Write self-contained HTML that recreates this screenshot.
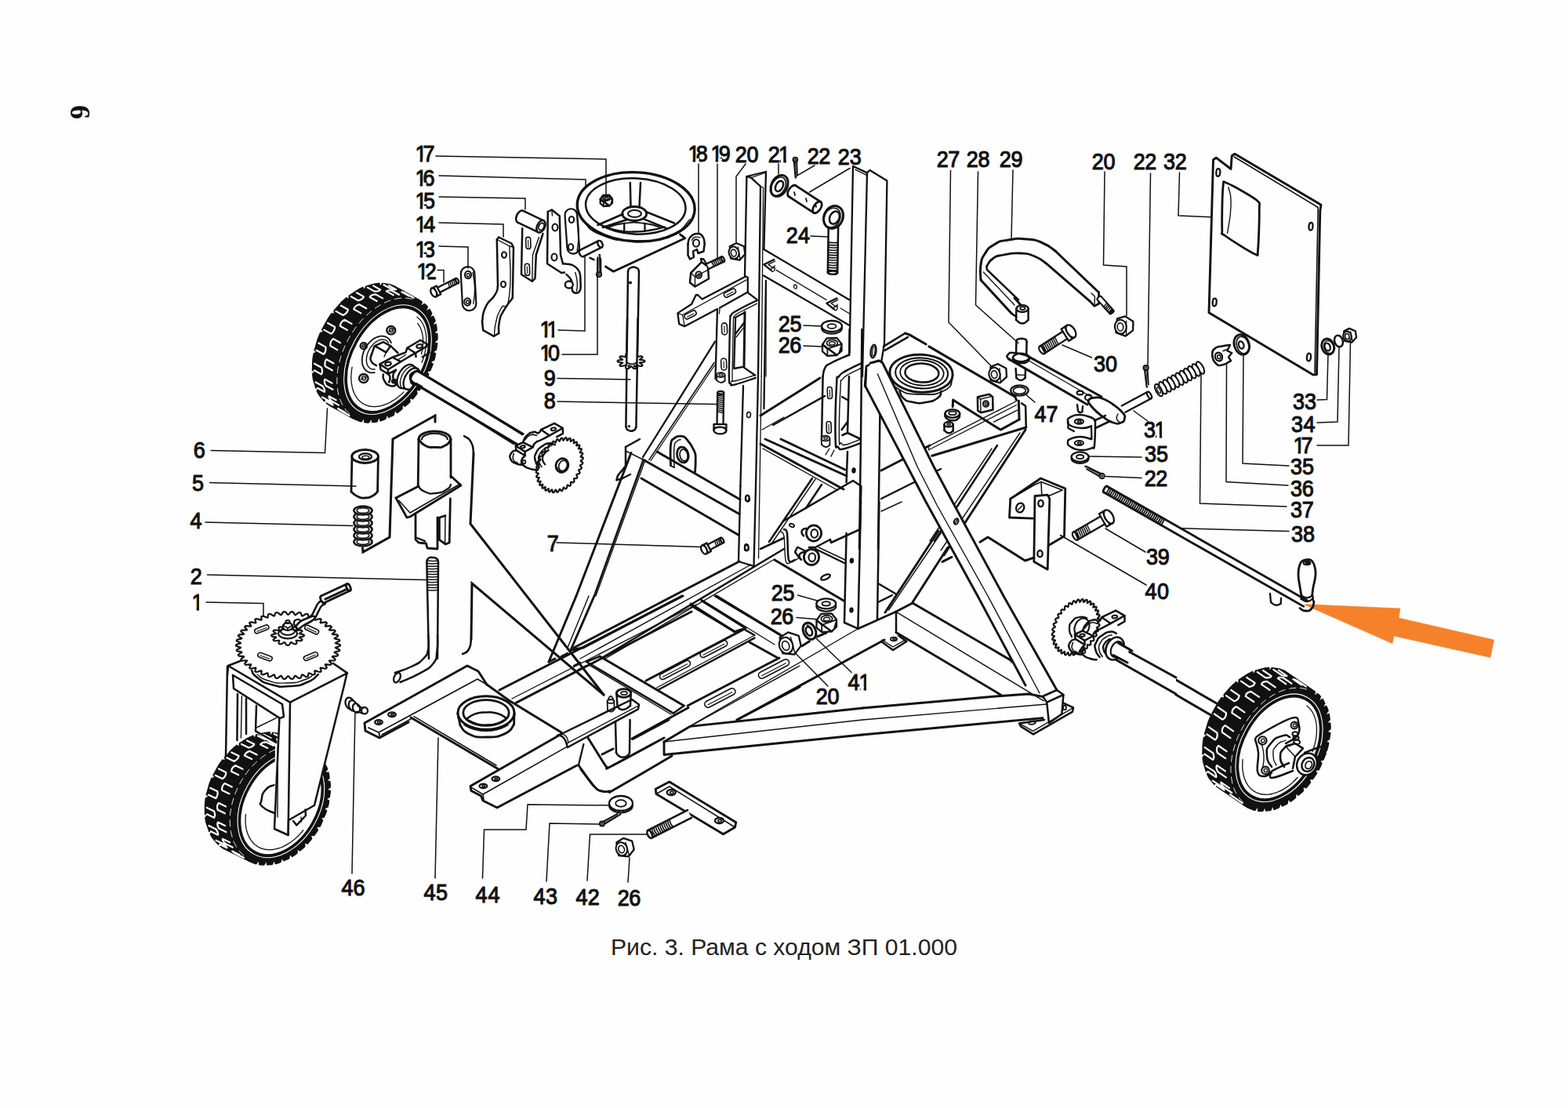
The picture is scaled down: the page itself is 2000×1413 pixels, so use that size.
<!DOCTYPE html>
<html lang="ru">
<head>
<meta charset="utf-8">
<title>Рис. 3. Рама с ходом ЗП 01.000</title>
<style>
html,body{margin:0;padding:0;background:#fefefe;}
body{width:2000px;height:1413px;overflow:hidden;position:relative;font-family:"Liberation Sans",sans-serif;}
svg{position:absolute;left:0;top:0;display:block;}
.lbl{font-family:"Liberation Sans",sans-serif;fill:#111;stroke:#111;stroke-width:1.15px;}
.cap{font-family:"Liberation Sans",sans-serif;fill:#222;}
.pg{font-family:"Liberation Serif",serif;font-weight:bold;fill:#111;}
</style>
</head>
<body>
<svg width="2000" height="1413" viewBox="0 0 2000 1413" role="img" aria-label="Рис. 3. Рама с ходом ЗП 01.000">
<defs><clipPath id="k0"><polygon points="-2.9,-30 7.9,-30 7.9,2 4.1,2 4.1,-3.4 -2.9,-3.4"/><polygon points="7.4,-30 26.4,-30 26.4,8 13.1,8 13.1,-3.6 7.4,-3.6"/></clipPath><clipPath id="k1"><polygon points="-2.9,-30 7.9,-30 7.9,2 4.1,2 4.1,-3.4 -2.9,-3.4"/><polygon points="7.4,-30 26.4,-30 26.4,8 13.1,8 13.1,-3.6 7.4,-3.6"/></clipPath><clipPath id="k2"><polygon points="-2.9,-30 7.9,-30 7.9,2 4.1,2 4.1,-3.4 -2.9,-3.4"/><polygon points="7.8,-30 26.8,-30 26.8,8 13.1,8 13.1,-3.6 7.8,-3.6"/></clipPath><clipPath id="k3"><polygon points="-2.9,-30 7.9,-30 7.9,2 4.1,2 4.1,-3.4 -2.9,-3.4"/><polygon points="8.3,-30 27.3,-30 27.3,8 13.1,8 13.1,-3.6 8.3,-3.6"/></clipPath><clipPath id="k4"><polygon points="-2.9,-30 7.9,-30 7.9,2 4.1,2 4.1,-3.4 -2.9,-3.4"/><polygon points="7.8,-30 26.8,-30 26.8,8 13.1,8 13.1,-3.6 7.8,-3.6"/></clipPath><clipPath id="k5"><polygon points="-2.9,-30 7.9,-30 7.9,2 4.1,2 4.1,-3.4 -2.9,-3.4"/><polygon points="7.5,-30 26.5,-30 26.5,8 13.1,8 13.1,-3.6 7.5,-3.6"/></clipPath><clipPath id="k6"><polygon points="-2.9,-30 7.9,-30 7.9,2 4.1,2 4.1,-3.4 -2.9,-3.4"/><polygon points="7.1,-30 17.9,-30 17.9,2 14.1,2 14.1,-3.4 7.1,-3.4"/></clipPath><clipPath id="k7"><polygon points="-2.9,-30 7.9,-30 7.9,2 4.1,2 4.1,-3.4 -2.9,-3.4"/><polygon points="7.8,-30 26.8,-30 26.8,8 13.1,8 13.1,-3.6 7.8,-3.6"/></clipPath><clipPath id="k8"><polygon points="-2.9,-30 7.9,-30 7.9,2 4.1,2 4.1,-3.4 -2.9,-3.4"/></clipPath><clipPath id="k9"><polygon points="-2.9,-30 7.9,-30 7.9,2 4.1,2 4.1,-3.4 -2.9,-3.4"/><polygon points="7.7,-30 26.7,-30 26.7,8 13.1,8 13.1,-3.6 7.7,-3.6"/></clipPath><clipPath id="k10"><polygon points="-2.9,-30 7.9,-30 7.9,2 4.1,2 4.1,-3.4 -2.9,-3.4"/><polygon points="7.5,-30 26.5,-30 26.5,8 13.1,8 13.1,-3.6 7.5,-3.6"/></clipPath><clipPath id="k11"><rect x="-2.5" y="-30" width="19" height="38"/><polygon points="13.4,-30 24.2,-30 24.2,2 20.4,2 20.4,-3.4 13.4,-3.4"/></clipPath><clipPath id="k12"><rect x="-2.1" y="-30" width="19" height="38"/><polygon points="14,-30 24.8,-30 24.8,2 21,2 21,-3.4 14,-3.4"/></clipPath><clipPath id="k13"><polygon points="-2.9,-30 7.9,-30 7.9,2 4.1,2 4.1,-3.4 -2.9,-3.4"/><polygon points="7.4,-30 26.4,-30 26.4,8 13.1,8 13.1,-3.6 7.4,-3.6"/></clipPath><clipPath id="k14"><rect x="-1.7" y="-30" width="19" height="38"/><polygon points="14.9,-30 25.7,-30 25.7,2 21.9,2 21.9,-3.4 14.9,-3.4"/></clipPath></defs>
<!-- 00_text -->
<text class="cap" x="779" y="1218" font-size="28.6" textLength="442" lengthAdjust="spacingAndGlyphs">Рис. 3. Рама с ходом ЗП 01.000</text>
<text class="pg" transform="translate(90 134) rotate(90)" font-size="36">6</text>
<polygon points="1662.5,770.5 1786,776 1784,788 1905.5,816 1901,838.5 1778,811 1776,820.5" fill="#F5822B" stroke="#F5822B" stroke-width="0.6" stroke-linejoin="round" stroke-linecap="round"/>
<text class="lbl" transform="translate(532 206) scale(0.900 1)" font-size="30" x="-2.9 8.4" y="0" clip-path="url(#k0)">17</text>
<text class="lbl" transform="translate(532 236.5) scale(0.900 1)" font-size="30" x="-2.9 8.4" y="0" clip-path="url(#k1)">16</text>
<text class="lbl" transform="translate(532 266) scale(0.900 1)" font-size="30" x="-2.9 8.8" y="0" clip-path="url(#k2)">15</text>
<text class="lbl" transform="translate(532 295.5) scale(0.900 1)" font-size="30" x="-2.9 9.3" y="0" clip-path="url(#k3)">14</text>
<text class="lbl" transform="translate(532 327.5) scale(0.900 1)" font-size="30" x="-2.9 8.8" y="0" clip-path="url(#k4)">13</text>
<text class="lbl" transform="translate(534 356) scale(0.900 1)" font-size="30" x="-2.9 8.5" y="0" clip-path="url(#k5)">12</text>
<text class="lbl" transform="translate(691 430) scale(0.900 1)" font-size="30" x="-2.9 7.1" y="0" clip-path="url(#k6)">11</text>
<text class="lbl" transform="translate(691 460) scale(0.900 1)" font-size="30" x="-2.9 8.8" y="0" clip-path="url(#k7)">10</text>
<text class="lbl" transform="translate(695 491.5) scale(0.900 1)" font-size="30" x="-1.4" y="0">9</text>
<text class="lbl" transform="translate(695 521) scale(0.900 1)" font-size="30" x="-1.3" y="0">8</text>
<text class="lbl" transform="translate(699 702.5) scale(0.900 1)" font-size="30" x="-1.5" y="0">7</text>
<text class="lbl" transform="translate(248 584) scale(0.900 1)" font-size="30" x="-1.5" y="0">6</text>
<text class="lbl" transform="translate(246 626) scale(0.900 1)" font-size="30" x="-1.2" y="0">5</text>
<text class="lbl" transform="translate(243 674) scale(0.900 1)" font-size="30" x="-0.7" y="0">4</text>
<text class="lbl" transform="translate(244 744.5) scale(0.900 1)" font-size="30" x="-1.5" y="0">2</text>
<text class="lbl" transform="translate(247 778) scale(0.900 1)" font-size="30" x="-2.9" y="0" clip-path="url(#k8)">1</text>
<text class="lbl" transform="translate(880 205.5) scale(0.900 1)" font-size="30" x="-2.9 8.7" y="0" clip-path="url(#k9)">18</text>
<text class="lbl" transform="translate(909 205.5) scale(0.900 1)" font-size="30" x="-2.9 8.5" y="0" clip-path="url(#k10)">19</text>
<text class="lbl" transform="translate(939 207) scale(0.900 1)" font-size="30" x="-1.5 15.1" y="0">20</text>
<text class="lbl" transform="translate(981 207) scale(0.900 1)" font-size="30" x="-1.5 13.4" y="0" clip-path="url(#k11)">21</text>
<text class="lbl" transform="translate(1031 209) scale(0.900 1)" font-size="30" x="-1.5 14.8" y="0">22</text>
<text class="lbl" transform="translate(1070 210) scale(0.900 1)" font-size="30" x="-1.5 15.2" y="0">23</text>
<text class="lbl" transform="translate(1004 310) scale(0.900 1)" font-size="30" x="-1.5 15.6" y="0">24</text>
<text class="lbl" transform="translate(994 422.5) scale(0.900 1)" font-size="30" x="-1.5 15.1" y="0">25</text>
<text class="lbl" transform="translate(994 450) scale(0.900 1)" font-size="30" x="-1.5 14.8" y="0">26</text>
<text class="lbl" transform="translate(1196 212.5) scale(0.900 1)" font-size="30" x="-1.5 14.8" y="0">27</text>
<text class="lbl" transform="translate(1234 213) scale(0.900 1)" font-size="30" x="-1.5 15" y="0">28</text>
<text class="lbl" transform="translate(1276 213) scale(0.900 1)" font-size="30" x="-1.5 14.9" y="0">29</text>
<text class="lbl" transform="translate(1394 215.5) scale(0.900 1)" font-size="30" x="-1.5 15.1" y="0">20</text>
<text class="lbl" transform="translate(1447 216) scale(0.900 1)" font-size="30" x="-1.5 14.8" y="0">22</text>
<text class="lbl" transform="translate(1485 216) scale(0.900 1)" font-size="30" x="-1.1 15.4" y="0">32</text>
<text class="lbl" transform="translate(1396 473.5) scale(0.900 1)" font-size="30" x="-1.1 15.7" y="0">30</text>
<text class="lbl" transform="translate(1320 537.5) scale(0.900 1)" font-size="30" x="-0.7 16.2" y="0">47</text>
<text class="lbl" transform="translate(1460 557.5) scale(0.900 1)" font-size="30" x="-1.1 14" y="0" clip-path="url(#k12)">31</text>
<text class="lbl" transform="translate(1461 589) scale(0.900 1)" font-size="30" x="-1.1 15.7" y="0">35</text>
<text class="lbl" transform="translate(1461 619.5) scale(0.900 1)" font-size="30" x="-1.5 14.8" y="0">22</text>
<text class="lbl" transform="translate(1650 522) scale(0.900 1)" font-size="30" x="-1.1 15.7" y="0">33</text>
<text class="lbl" transform="translate(1648 551) scale(0.900 1)" font-size="30" x="-1.1 16.2" y="0">34</text>
<text class="lbl" transform="translate(1652 578) scale(0.900 1)" font-size="30" x="-2.9 8.4" y="0" clip-path="url(#k13)">17</text>
<text class="lbl" transform="translate(1647 605) scale(0.900 1)" font-size="30" x="-1.1 15.7" y="0">35</text>
<text class="lbl" transform="translate(1647 632.5) scale(0.900 1)" font-size="30" x="-1.1 15.3" y="0">36</text>
<text class="lbl" transform="translate(1647 660) scale(0.900 1)" font-size="30" x="-1.1 15.3" y="0">37</text>
<text class="lbl" transform="translate(1648 691) scale(0.900 1)" font-size="30" x="-1.1 15.6" y="0">38</text>
<text class="lbl" transform="translate(1463 719.5) scale(0.900 1)" font-size="30" x="-1.1 15.4" y="0">39</text>
<text class="lbl" transform="translate(1461 764) scale(0.900 1)" font-size="30" x="-0.7 16.6" y="0">40</text>
<text class="lbl" transform="translate(985 766) scale(0.900 1)" font-size="30" x="-1.5 15.1" y="0">25</text>
<text class="lbl" transform="translate(984 796) scale(0.900 1)" font-size="30" x="-1.5 14.8" y="0">26</text>
<text class="lbl" transform="translate(1042 898) scale(0.900 1)" font-size="30" x="-1.5 15.1" y="0">20</text>
<text class="lbl" transform="translate(1082 879.5) scale(0.900 1)" font-size="30" x="-0.7 14.9" y="0" clip-path="url(#k14)">41</text>
<text class="lbl" transform="translate(436 1142) scale(0.900 1)" font-size="30" x="-0.7 16.2" y="0">46</text>
<text class="lbl" transform="translate(541 1148) scale(0.900 1)" font-size="30" x="-0.7 16.6" y="0">45</text>
<text class="lbl" transform="translate(607 1151) scale(0.900 1)" font-size="30" x="-0.7 17.1" y="0">44</text>
<text class="lbl" transform="translate(681 1153) scale(0.900 1)" font-size="30" x="-0.7 16.6" y="0">43</text>
<text class="lbl" transform="translate(735 1154) scale(0.900 1)" font-size="30" x="-0.7 16.3" y="0">42</text>
<text class="lbl" transform="translate(789 1155) scale(0.900 1)" font-size="30" x="-1.5 14.8" y="0">26</text>
<polyline points="556,199 773,203 773,249" fill="none" stroke="#111" stroke-width="1.5" stroke-linejoin="miter" stroke-linecap="round"/>
<polyline points="560,224 747,229 747,237" fill="none" stroke="#111" stroke-width="1.5" stroke-linejoin="miter" stroke-linecap="round"/>
<polyline points="560,251 670,253 670,267" fill="none" stroke="#111" stroke-width="1.5" stroke-linejoin="miter" stroke-linecap="round"/>
<polyline points="560,284 642,286 642,302" fill="none" stroke="#111" stroke-width="1.5" stroke-linejoin="miter" stroke-linecap="round"/>
<polyline points="560,314 597,315 597,342" fill="none" stroke="#111" stroke-width="1.5" stroke-linejoin="miter" stroke-linecap="round"/>
<polyline points="558,344.5 566,344.5 566,360" fill="none" stroke="#111" stroke-width="1.5" stroke-linejoin="miter" stroke-linecap="round"/>
<polyline points="712,421 746,422 746,327" fill="none" stroke="#111" stroke-width="1.5" stroke-linejoin="miter" stroke-linecap="round"/>
<polyline points="717,452 762,452 762,350" fill="none" stroke="#111" stroke-width="1.5" stroke-linejoin="miter" stroke-linecap="round"/>
<polyline points="711,482.5 804,484" fill="none" stroke="#111" stroke-width="1.5" stroke-linejoin="miter" stroke-linecap="round"/>
<polyline points="711,512 914,515.5" fill="none" stroke="#111" stroke-width="1.5" stroke-linejoin="miter" stroke-linecap="round"/>
<polyline points="710,692 894,697.5" fill="none" stroke="#111" stroke-width="1.5" stroke-linejoin="miter" stroke-linecap="round"/>
<polyline points="891,209 891,297" fill="none" stroke="#111" stroke-width="1.5" stroke-linejoin="miter" stroke-linecap="round"/>
<polyline points="915,209 915,329" fill="none" stroke="#111" stroke-width="1.5" stroke-linejoin="miter" stroke-linecap="round"/>
<polyline points="951,209 939,225 939,312" fill="none" stroke="#111" stroke-width="1.5" stroke-linejoin="miter" stroke-linecap="round"/>
<polyline points="993,209 993,222" fill="none" stroke="#111" stroke-width="1.5" stroke-linejoin="miter" stroke-linecap="round"/>
<polyline points="1039,211 1015,225" fill="none" stroke="#111" stroke-width="1.5" stroke-linejoin="miter" stroke-linecap="round"/>
<polyline points="1084,214.5 1032.5,245" fill="none" stroke="#111" stroke-width="1.5" stroke-linejoin="miter" stroke-linecap="round"/>
<polyline points="1034,301 1056,302" fill="none" stroke="#111" stroke-width="1.5" stroke-linejoin="miter" stroke-linecap="round"/>
<polyline points="1025,415 1049,416" fill="none" stroke="#111" stroke-width="1.5" stroke-linejoin="miter" stroke-linecap="round"/>
<polyline points="1025,441 1049,442" fill="none" stroke="#111" stroke-width="1.5" stroke-linejoin="miter" stroke-linecap="round"/>
<polyline points="1212.5,217.5 1210,411 1265,467.5" fill="none" stroke="#111" stroke-width="1.5" stroke-linejoin="miter" stroke-linecap="round"/>
<polyline points="1247.5,219 1244.5,389 1299,437.5" fill="none" stroke="#111" stroke-width="1.5" stroke-linejoin="miter" stroke-linecap="round"/>
<polyline points="1292,217 1290,304" fill="none" stroke="#111" stroke-width="1.5" stroke-linejoin="miter" stroke-linecap="round"/>
<polyline points="1409,219 1407.5,338 1437,340 1437,402.5" fill="none" stroke="#111" stroke-width="1.5" stroke-linejoin="miter" stroke-linecap="round"/>
<polyline points="1467.5,221 1464,466" fill="none" stroke="#111" stroke-width="1.5" stroke-linejoin="miter" stroke-linecap="round"/>
<polyline points="1355,440 1392.5,456" fill="none" stroke="#111" stroke-width="1.5" stroke-linejoin="miter" stroke-linecap="round"/>
<polyline points="1504.5,220 1503,275 1550,277" fill="none" stroke="#111" stroke-width="1.5" stroke-linejoin="miter" stroke-linecap="round"/>
<polyline points="1680,510 1692.5,509.5 1694,451" fill="none" stroke="#111" stroke-width="1.5" stroke-linejoin="miter" stroke-linecap="round"/>
<polyline points="1680,539 1706,538 1708,442.5" fill="none" stroke="#111" stroke-width="1.5" stroke-linejoin="miter" stroke-linecap="round"/>
<polyline points="1680,568 1720,568 1722.5,436" fill="none" stroke="#111" stroke-width="1.5" stroke-linejoin="miter" stroke-linecap="round"/>
<polyline points="1644,594 1585,591 1586,451" fill="none" stroke="#111" stroke-width="1.5" stroke-linejoin="miter" stroke-linecap="round"/>
<polyline points="1643,619 1564,614.5 1564.5,464" fill="none" stroke="#111" stroke-width="1.5" stroke-linejoin="miter" stroke-linecap="round"/>
<polyline points="1641,646 1530.5,642 1532,477.5" fill="none" stroke="#111" stroke-width="1.5" stroke-linejoin="miter" stroke-linecap="round"/>
<polyline points="1644,677.5 1500,673.5" fill="none" stroke="#111" stroke-width="1.5" stroke-linejoin="miter" stroke-linecap="round"/>
<polyline points="1307,502 1320,513" fill="none" stroke="#111" stroke-width="1.5" stroke-linejoin="miter" stroke-linecap="round"/>
<polyline points="1446,524 1464,537" fill="none" stroke="#111" stroke-width="1.5" stroke-linejoin="miter" stroke-linecap="round"/>
<polyline points="1389,582 1456,583" fill="none" stroke="#111" stroke-width="1.5" stroke-linejoin="miter" stroke-linecap="round"/>
<polyline points="1410,607.5 1456,609.5" fill="none" stroke="#111" stroke-width="1.5" stroke-linejoin="miter" stroke-linecap="round"/>
<polyline points="1410,674 1461,704" fill="none" stroke="#111" stroke-width="1.5" stroke-linejoin="miter" stroke-linecap="round"/>
<polyline points="1352.5,682.5 1462,746" fill="none" stroke="#111" stroke-width="1.5" stroke-linejoin="miter" stroke-linecap="round"/>
<polyline points="269,574.5 414.5,577.5 417.5,521" fill="none" stroke="#111" stroke-width="1.5" stroke-linejoin="miter" stroke-linecap="round"/>
<polyline points="267.5,615.5 454,620" fill="none" stroke="#111" stroke-width="1.5" stroke-linejoin="miter" stroke-linecap="round"/>
<polyline points="262,666 450,670.5" fill="none" stroke="#111" stroke-width="1.5" stroke-linejoin="miter" stroke-linecap="round"/>
<polyline points="264.5,733 544.5,739.5" fill="none" stroke="#111" stroke-width="1.5" stroke-linejoin="miter" stroke-linecap="round"/>
<polyline points="263,768 336,769.5 336,790" fill="none" stroke="#111" stroke-width="1.5" stroke-linejoin="miter" stroke-linecap="round"/>
<polyline points="453,905 449,1114" fill="none" stroke="#111" stroke-width="1.5" stroke-linejoin="miter" stroke-linecap="round"/>
<polyline points="559,941 555,1120" fill="none" stroke="#111" stroke-width="1.5" stroke-linejoin="miter" stroke-linecap="round"/>
<polyline points="615.5,1120 617.5,1058 671,1058 673,1026 776,1027" fill="none" stroke="#111" stroke-width="1.5" stroke-linejoin="miter" stroke-linecap="round"/>
<polyline points="697,1124 701,1050 766,1051" fill="none" stroke="#111" stroke-width="1.5" stroke-linejoin="miter" stroke-linecap="round"/>
<polyline points="749,1123 752.5,1064 824.5,1064" fill="none" stroke="#111" stroke-width="1.5" stroke-linejoin="miter" stroke-linecap="round"/>
<polyline points="801,1125 803,1094" fill="none" stroke="#111" stroke-width="1.5" stroke-linejoin="miter" stroke-linecap="round"/>
<polyline points="1017.5,759 1046,767" fill="none" stroke="#111" stroke-width="1.5" stroke-linejoin="miter" stroke-linecap="round"/>
<polyline points="1016,787.5 1045,790" fill="none" stroke="#111" stroke-width="1.5" stroke-linejoin="miter" stroke-linecap="round"/>
<polyline points="1014,832.5 1056,875" fill="none" stroke="#111" stroke-width="1.5" stroke-linejoin="miter" stroke-linecap="round"/>
<polyline points="1041,814 1086,857.5" fill="none" stroke="#111" stroke-width="1.5" stroke-linejoin="miter" stroke-linecap="round"/>
<!-- 10_posts -->
<polyline points="950,352 952.4,225 977,219 974.4,318" fill="none" stroke="#111" stroke-width="2.3" stroke-linejoin="round" stroke-linecap="round"/>
<polyline points="952.4,225 958,226.6 970,237.6 967,480" fill="none" stroke="#111" stroke-width="2.3" stroke-linejoin="round" stroke-linecap="round"/>
<polyline points="958,226.6 977,220" fill="none" stroke="#111" stroke-width="1.3" stroke-linejoin="round" stroke-linecap="round"/>
<polyline points="970.4,238 973.6,239 971.2,480" fill="none" stroke="#111" stroke-width="1.3" stroke-linejoin="round" stroke-linecap="round"/>
<polyline points="1083.6,450 1088,212 1106,220.4 1109.4,217 1131.4,230.4 1128,438 1124.4,460" fill="none" stroke="#111" stroke-width="2.3" stroke-linejoin="round" stroke-linecap="round"/>
<polyline points="1106,220.4 1100,480" fill="none" stroke="#111" stroke-width="2.3" stroke-linejoin="round" stroke-linecap="round"/>
<polyline points="1091,216.4 1106,223.6" fill="none" stroke="#111" stroke-width="1.3" stroke-linejoin="round" stroke-linecap="round"/>
<polyline points="974.4,318 1083.6,382.4" fill="none" stroke="#111" stroke-width="2.3" stroke-linejoin="round" stroke-linecap="round"/>
<polyline points="974,351.4 1083.6,415" fill="none" stroke="#111" stroke-width="2.3" stroke-linejoin="round" stroke-linecap="round"/>
<polyline points="990,344.4 1054,382.4" fill="none" stroke="#111" stroke-width="1.3" stroke-linejoin="round" stroke-linecap="round"/>
<polyline points="1072,393 1083.6,400" fill="none" stroke="#111" stroke-width="1.3" stroke-linejoin="round" stroke-linecap="round"/>
<polyline points="977,358 977,480" fill="none" stroke="#111" stroke-width="1.3" stroke-linejoin="round" stroke-linecap="round"/>
<polyline points="987.4,331 974.4,337.4 983.4,344.6" fill="none" stroke="#111" stroke-width="2.3" stroke-linejoin="round" stroke-linecap="round"/>
<polyline points="988.8,333 980,337.4 986.4,342 988.4,338.6" fill="none" stroke="#111" stroke-width="1.3" stroke-linejoin="round" stroke-linecap="round"/>
<ellipse cx="986" cy="343.4" rx="2.2" ry="3" fill="none" stroke="#111" stroke-width="1.3" transform="rotate(20 986 343.4)"/>
<polyline points="1067.4,380.4 1054.4,386.8 1063.4,394" fill="none" stroke="#111" stroke-width="2.3" stroke-linejoin="round" stroke-linecap="round"/>
<polyline points="1068.8,382.4 1060,386.8 1066.4,391.4 1068.4,388" fill="none" stroke="#111" stroke-width="1.3" stroke-linejoin="round" stroke-linecap="round"/>
<ellipse cx="1066" cy="392.8" rx="2.2" ry="3" fill="none" stroke="#111" stroke-width="1.3" transform="rotate(20 1066 392.8)"/>
<ellipse cx="1014.4" cy="365.6" rx="1.8" ry="2.6" fill="none" stroke="#111" stroke-width="1.3" transform="rotate(-20 1014.4 365.6)"/>
<ellipse cx="1114" cy="448" rx="3.4" ry="8.4" fill="none" stroke="#111" stroke-width="2.3" transform="rotate(8 1114 448)"/>
<ellipse cx="1114.4" cy="448" rx="1.6" ry="6" fill="none" stroke="#111" stroke-width="1.3" transform="rotate(8 1114.4 448)"/>
<!-- 11_leftpost -->
<polyline points="948,492 944.4,620" fill="none" stroke="#111" stroke-width="2.3" stroke-linejoin="round" stroke-linecap="round"/>
<polyline points="944.4,620 942,716" fill="none" stroke="#111" stroke-width="2.3" stroke-linejoin="round" stroke-linecap="round"/>
<polyline points="967,480 964,620 961.5,722" fill="none" stroke="#111" stroke-width="2.3" stroke-linejoin="round" stroke-linecap="round"/>
<polyline points="971.2,480 969,620 967.5,712" fill="none" stroke="#111" stroke-width="1.3" stroke-linejoin="round" stroke-linecap="round"/>
<polyline points="977,358 974.4,521" fill="none" stroke="#111" stroke-width="2.3" stroke-linejoin="round" stroke-linecap="round"/>
<polyline points="942,716 961.5,722" fill="none" stroke="#111" stroke-width="2.3" stroke-linejoin="round" stroke-linecap="round"/>
<ellipse cx="955" cy="529" rx="2.4" ry="3.6" fill="none" stroke="#111" stroke-width="1.6" transform="rotate(8 955 529)"/>
<ellipse cx="953" cy="635.5" rx="2.4" ry="3.6" fill="none" stroke="#111" stroke-width="1.6" transform="rotate(8 953 635.5)"/>
<ellipse cx="952" cy="699" rx="2.4" ry="3.6" fill="none" stroke="#111" stroke-width="1.6" transform="rotate(8 952 699)"/>
<polyline points="953.8,372.5 953.8,353.8 951.2,352.5 895.6,381.5 890,376 887.5,376.5 882.2,387.8 864.4,399.4 866.2,413.1 873.1,416.2 915,394" fill="none" stroke="#111" stroke-width="2.3" stroke-linejoin="round" stroke-linecap="round"/>
<polyline points="918.1,392.5 953.8,372.5" fill="none" stroke="#111" stroke-width="2.3" stroke-linejoin="round" stroke-linecap="round"/>
<polyline points="870.6,401.5 952.2,356.9" fill="none" stroke="#111" stroke-width="1.3" stroke-linejoin="round" stroke-linecap="round"/>
<polyline points="864.8,399.8 870.6,401.5 873.1,416" fill="none" stroke="#111" stroke-width="1.3" stroke-linejoin="round" stroke-linecap="round"/>
<rect x="872.6" y="398.2" width="16" height="6.5" rx="3.2" fill="none" stroke="#111" stroke-width="1.6" transform="rotate(-27 880.6 401.5)"/>
<polyline points="876.4,404.2 884.9,399.9" fill="none" stroke="#111" stroke-width="1.1" stroke-linejoin="round" stroke-linecap="round"/>
<rect x="923" y="370.5" width="16" height="6.5" rx="3.2" fill="none" stroke="#111" stroke-width="1.6" transform="rotate(-27 931 373.8)"/>
<polyline points="926.8,376.4 935.2,372.1" fill="none" stroke="#111" stroke-width="1.1" stroke-linejoin="round" stroke-linecap="round"/>
<polyline points="915,394.4 912.5,483.1" fill="none" stroke="#111" stroke-width="2.3" stroke-linejoin="round" stroke-linecap="round"/>
<polyline points="918.1,392.5 917.5,400" fill="none" stroke="#111" stroke-width="1.3" stroke-linejoin="round" stroke-linecap="round"/>
<rect x="916.5" y="415.9" width="15" height="6.9" rx="3.4" fill="none" stroke="#111" stroke-width="1.6" transform="rotate(88 924 419.4)"/>
<polyline points="923.9,415.9 924.1,424" fill="none" stroke="#111" stroke-width="1.1" stroke-linejoin="round" stroke-linecap="round"/>
<rect x="915.8" y="460.9" width="15" height="6.9" rx="3.4" fill="none" stroke="#111" stroke-width="1.6" transform="rotate(88 923.2 464.4)"/>
<polyline points="923.1,460.9 923.4,469" fill="none" stroke="#111" stroke-width="1.1" stroke-linejoin="round" stroke-linecap="round"/>
<ellipse cx="919.4" cy="478.1" rx="5.2" ry="3" fill="none" stroke="#111" stroke-width="1.8"/>
<ellipse cx="919.6" cy="477.9" rx="2.5" ry="1.2" fill="none" stroke="#111" stroke-width="1.3"/>
<polyline points="914.1,478.5 914.1,485" fill="none" stroke="#111" stroke-width="1.8" stroke-linejoin="round" stroke-linecap="round"/>
<polyline points="924.6,478.5 924.6,485.6" fill="none" stroke="#111" stroke-width="1.8" stroke-linejoin="round" stroke-linecap="round"/>
<path d="M914.1 485 C915.9 485.9 915.9 487.5 919.4 487.8 C922.9 488 922.9 486.3 924.6 485.6" fill="none" stroke="#111" stroke-width="1.8" stroke-linejoin="round" stroke-linecap="round"/>
<path d="M965.6 383.1 C962.9 384.4 960.3 385.4 953.8 388.8 C947.2 392.1 942.5 394.4 937.5 397.5 C932.5 400.6 934 399.3 932.5 402.2 C931 405.2 931.8 397.7 931.2 410 C930.7 422.3 930.5 437.8 930.2 455 C930 472.2 929.6 475.8 930 483.8 C930.4 491.7 930.3 487.4 931.9 489 C933.5 490.6 929.4 492.3 936.9 490.6 C944.3 489 957.5 483.9 963.8 481.9" fill="none" stroke="#111" stroke-width="2.3" stroke-linejoin="round" stroke-linecap="round"/>
<path d="M965.6 387.2 C962.3 388.9 957.4 391.3 951.2 394.4 C945.1 397.5 942.9 398.3 939.4 400.6 C935.9 403 937.2 401.9 936.2 404.4 C935.3 406.9 935.8 399.4 935.4 411.2 C935 423.1 934.8 438.5 934.5 455 C934.2 471.5 933.8 474.6 934.1 481.9 C934.5 489.1 929.2 486.8 936 486 C942.8 485.2 956.8 480.2 963.1 478.5" fill="none" stroke="#111" stroke-width="1.3" stroke-linejoin="round" stroke-linecap="round"/>
<polyline points="953.8,373.1 965.6,382.2" fill="none" stroke="#111" stroke-width="2.3" stroke-linejoin="round" stroke-linecap="round"/>
<polyline points="937.5,405 950,398.5" fill="none" stroke="#111" stroke-width="2.3" stroke-linejoin="round" stroke-linecap="round"/>
<polyline points="938.1,405.6 936.2,470 947.8,467.9" fill="none" stroke="#111" stroke-width="2.3" stroke-linejoin="round" stroke-linecap="round"/>
<polyline points="950,398.1 949,466.9" fill="none" stroke="#111" stroke-width="3" stroke-linejoin="round" stroke-linecap="round"/>
<polyline points="947.8,467.9 963.1,478.5" fill="none" stroke="#111" stroke-width="2.3" stroke-linejoin="round" stroke-linecap="round"/>
<polyline points="938.8,425 949.4,411.2" fill="none" stroke="#111" stroke-width="2.3" stroke-linejoin="round" stroke-linecap="round"/>
<polyline points="939,430 949.4,416.9" fill="none" stroke="#111" stroke-width="1.3" stroke-linejoin="round" stroke-linecap="round"/>
<polyline points="912,435.6 820,583" fill="none" stroke="#111" stroke-width="2.3" stroke-linejoin="round" stroke-linecap="round"/>
<polyline points="911,462.4 828,586.4" fill="none" stroke="#111" stroke-width="1.7" stroke-linejoin="round" stroke-linecap="round"/>
<polyline points="911.6,465.6 830,587.6" fill="none" stroke="#111" stroke-width="1.1" stroke-linejoin="round" stroke-linecap="round"/>
<!-- 12_rightpost -->
<polyline points="1083.6,420 1083.2,453" fill="none" stroke="#111" stroke-width="2.5" stroke-linejoin="round" stroke-linecap="round"/>
<polyline points="1081,576 1079.6,615" fill="none" stroke="#111" stroke-width="2.5" stroke-linejoin="round" stroke-linecap="round"/>
<polyline points="1099.4,420 1098,560 1096,700" fill="none" stroke="#111" stroke-width="2.5" stroke-linejoin="round" stroke-linecap="round"/>
<polyline points="1122.4,528 1120,700" fill="none" stroke="#111" stroke-width="2.5" stroke-linejoin="round" stroke-linecap="round"/>
<ellipse cx="1089" cy="600" rx="1.8" ry="2.8" fill="#111" stroke="#111" stroke-width="1.8" transform="rotate(5 1089 600)"/>
<path d="M1082 453 C1076.1 455.7 1067.9 458.7 1060 463 C1052.1 467.3 1055.2 464.5 1052.4 469 C1049.6 473.5 1050.3 477.1 1049.6 480" fill="none" stroke="#111" stroke-width="2.5" stroke-linejoin="round" stroke-linecap="round"/>
<polyline points="1049.6,480 1048,558" fill="none" stroke="#111" stroke-width="2.5" stroke-linejoin="round" stroke-linecap="round"/>
<path d="M1099 463 C1094.6 465.2 1086.8 468.4 1080 472.4 C1073.2 476.4 1073 475.4 1070 480 C1067 484.6 1068 473.3 1067 492 C1066 510.7 1065.1 541.8 1065.6 560 C1066.1 578.2 1066.6 567.1 1069 570 C1071.4 572.9 1069.2 573.6 1076 572.4 C1082.8 571.2 1092.9 566.7 1098 565" fill="none" stroke="#111" stroke-width="2.5" stroke-linejoin="round" stroke-linecap="round"/>
<path d="M1099.4 469 C1095.6 470.9 1088.8 473.5 1083 477 C1077.2 480.5 1077 479.8 1074.4 484 C1071.8 488.2 1072.9 477.7 1072 495 C1071.1 512.3 1070.2 541.7 1070.4 558 C1070.6 574.3 1071 562.9 1073 565 C1075 567.1 1073.2 568.2 1079 567 C1084.8 565.8 1093.6 561.6 1098 560" fill="none" stroke="#111" stroke-width="1.4" stroke-linejoin="round" stroke-linecap="round"/>
<polyline points="1083,480 1081,552 1074.4,555" fill="none" stroke="#111" stroke-width="2.5" stroke-linejoin="round" stroke-linecap="round"/>
<polyline points="1081,552 1098,560" fill="none" stroke="#111" stroke-width="2.5" stroke-linejoin="round" stroke-linecap="round"/>
<polyline points="1073.6,548 1081,538" fill="none" stroke="#111" stroke-width="2.5" stroke-linejoin="round" stroke-linecap="round"/>
<polyline points="1074,506 1081,510" fill="none" stroke="#111" stroke-width="2.5" stroke-linejoin="round" stroke-linecap="round"/>
<rect x="1050.9" y="498" width="15" height="6" rx="3" fill="none" stroke="#111" stroke-width="1.6" transform="rotate(88 1058.4 501)"/>
<polyline points="1058.2,497 1058.6,506" fill="none" stroke="#111" stroke-width="1.1" stroke-linejoin="round" stroke-linecap="round"/>
<rect x="1049.7" y="542" width="15" height="6" rx="3" fill="none" stroke="#111" stroke-width="1.6" transform="rotate(88 1057.2 545)"/>
<polyline points="1057,541 1057.4,550" fill="none" stroke="#111" stroke-width="1.1" stroke-linejoin="round" stroke-linecap="round"/>
<ellipse cx="1053" cy="559" rx="5.4" ry="3.4" fill="none" stroke="#111" stroke-width="1.8"/>
<ellipse cx="1053.2" cy="558.8" rx="2.4" ry="1.4" fill="none" stroke="#111" stroke-width="1.4"/>
<polyline points="1047.6,559.4 1048,567" fill="none" stroke="#111" stroke-width="1.8" stroke-linejoin="round" stroke-linecap="round"/>
<polyline points="1058.4,559.4 1058.4,567.6" fill="none" stroke="#111" stroke-width="1.8" stroke-linejoin="round" stroke-linecap="round"/>
<path d="M1048 567 C1049.7 568 1049.7 569.8 1053.2 570 C1056.7 570.2 1056.7 568.4 1058.4 567.6" fill="none" stroke="#111" stroke-width="1.8" stroke-linejoin="round" stroke-linecap="round"/>
<polyline points="1058,572 1053,580" fill="none" stroke="#111" stroke-width="1.4" stroke-linejoin="round" stroke-linecap="round"/>
<polyline points="1064,574 1060,582" fill="none" stroke="#111" stroke-width="1.4" stroke-linejoin="round" stroke-linecap="round"/>
<polyline points="1126.9,441.9 1154.4,425" fill="none" stroke="#111" stroke-width="2.5" stroke-linejoin="round" stroke-linecap="round"/>
<polyline points="1128.5,446.9 1158.1,429.8" fill="none" stroke="#111" stroke-width="2.5" stroke-linejoin="round" stroke-linecap="round"/>
<polyline points="1154.4,425 1160,426.9 1181.2,439" fill="none" stroke="#111" stroke-width="3" stroke-linejoin="round" stroke-linecap="round"/>
<polyline points="1185,441.9 1295,506.2 1296.5,510.2" fill="none" stroke="#111" stroke-width="3" stroke-linejoin="round" stroke-linecap="round"/>
<polyline points="1296.5,511.5 1183.8,569.4 1185,573.8" fill="none" stroke="#111" stroke-width="1.4" stroke-linejoin="round" stroke-linecap="round"/>
<polyline points="1185,573.5 1296.5,516.5" fill="none" stroke="#111" stroke-width="1.4" stroke-linejoin="round" stroke-linecap="round"/>
<polyline points="1267.5,538.1 1297.5,523.1" fill="none" stroke="#111" stroke-width="1.4" stroke-linejoin="round" stroke-linecap="round"/>
<polyline points="1188.8,581.2 1308.8,545" fill="none" stroke="#111" stroke-width="3" stroke-linejoin="round" stroke-linecap="round"/>
<polyline points="1299.4,511.2 1300,535" fill="none" stroke="#111" stroke-width="3" stroke-linejoin="round" stroke-linecap="round"/>
<polyline points="1303.1,514.4 1308.1,517.8 1308.8,545" fill="none" stroke="#111" stroke-width="2.5" stroke-linejoin="round" stroke-linecap="round"/>
<polyline points="1215.2,518.8 1215.6,510 1276.2,548.1 1300,535" fill="none" stroke="#111" stroke-width="3" stroke-linejoin="round" stroke-linecap="round"/>
<polyline points="1308,548 1204,708" fill="none" stroke="#111" stroke-width="2.9" stroke-linejoin="round" stroke-linecap="round"/>
<polyline points="1301,552 1200,702" fill="none" stroke="#111" stroke-width="1.4" stroke-linejoin="round" stroke-linecap="round"/>
<polyline points="1272,568 1192,690" fill="none" stroke="#111" stroke-width="2.5" stroke-linejoin="round" stroke-linecap="round"/>
<polyline points="1265,572 1186,690" fill="none" stroke="#111" stroke-width="1.4" stroke-linejoin="round" stroke-linecap="round"/>
<polyline points="1124,600 1186,568" fill="none" stroke="#111" stroke-width="2.9" stroke-linejoin="round" stroke-linecap="round"/>
<polyline points="1124,636 1200,598" fill="none" stroke="#111" stroke-width="2.5" stroke-linejoin="round" stroke-linecap="round"/>
<polyline points="1124,652 1150,640" fill="none" stroke="#111" stroke-width="1.4" stroke-linejoin="round" stroke-linecap="round"/>
<polyline points="1105,467 1103,492.4" fill="none" stroke="#111" stroke-width="2.5" stroke-linejoin="round" stroke-linecap="round"/>
<polyline points="1105,467 1120,460" fill="none" stroke="#111" stroke-width="2.5" stroke-linejoin="round" stroke-linecap="round"/>
<ellipse cx="1175" cy="476.2" rx="40.2" ry="24" fill="none" stroke="#111" stroke-width="3" transform="rotate(3 1175 476.2)"/>
<ellipse cx="1175.6" cy="475.9" rx="33.5" ry="19.5" fill="none" stroke="#111" stroke-width="2.1" transform="rotate(3 1175.6 475.9)"/>
<ellipse cx="1175.9" cy="475.5" rx="27.8" ry="16" fill="none" stroke="#111" stroke-width="1.8" transform="rotate(3 1175.9 475.5)"/>
<ellipse cx="1175.9" cy="475.5" rx="21.5" ry="12" fill="none" stroke="#111" stroke-width="2.5" transform="rotate(3 1175.9 475.5)"/>
<path d="M1135.6 480 C1138.4 484.7 1133.9 488.8 1145 495.6 C1156.1 502.4 1154.5 502.1 1172.5 502.8 C1190.5 503.4 1192.3 504.2 1205 497.8 C1217.7 491.3 1211.8 486.2 1214.8 481.2" fill="none" stroke="#111" stroke-width="1.8" stroke-linejoin="round" stroke-linecap="round"/>
<path d="M1147.5 498.1 C1148.8 500.9 1147 503.1 1151.9 507.5 C1156.8 511.9 1155.3 511.1 1163.8 512.8 C1172.2 514.4 1170.2 514.7 1180 513.1 C1189.8 511.6 1190.2 511.7 1196.2 507.5 C1202.3 503.3 1199 501.6 1200.2 499" fill="none" stroke="#111" stroke-width="2.5" stroke-linejoin="round" stroke-linecap="round"/>
<polygon points="1246.9,506.2 1261.9,502.8 1266.2,506.2 1266.5,522.5 1251.2,526.2 1247.2,523.8" fill="none" stroke="#111" stroke-width="2.5" stroke-linejoin="round" stroke-linecap="round"/>
<polyline points="1250.6,509 1264.4,505.6" fill="none" stroke="#111" stroke-width="1.4" stroke-linejoin="round" stroke-linecap="round"/>
<polyline points="1250.6,509 1251,526" fill="none" stroke="#111" stroke-width="1.4" stroke-linejoin="round" stroke-linecap="round"/>
<polyline points="1247.2,506.5 1250.6,509" fill="none" stroke="#111" stroke-width="1.4" stroke-linejoin="round" stroke-linecap="round"/>
<ellipse cx="1257.5" cy="515" rx="3.5" ry="3.8" fill="none" stroke="#111" stroke-width="2.1"/>
<ellipse cx="1257.8" cy="515" rx="1.5" ry="1.8" fill="none" stroke="#111" stroke-width="1.4"/>
<ellipse cx="1214.8" cy="527.5" rx="9.4" ry="5.2" fill="none" stroke="#111" stroke-width="2.5"/>
<ellipse cx="1215" cy="526.9" rx="4.8" ry="2.2" fill="none" stroke="#111" stroke-width="1.8"/>
<path d="M1205.4 528.1 C1205.8 529.6 1204.1 530.7 1206.9 533.1 C1209.7 535.6 1210.1 536.1 1214.8 536.2 C1219.4 536.4 1219.7 535.9 1222.5 533.5 C1225.3 531.1 1223.6 529.7 1224.1 528.1" fill="none" stroke="#111" stroke-width="2.5" stroke-linejoin="round" stroke-linecap="round"/>
<ellipse cx="1210" cy="541.2" rx="5.6" ry="3.1" fill="none" stroke="#111" stroke-width="2.5"/>
<ellipse cx="1210.2" cy="541" rx="2.2" ry="1.1" fill="none" stroke="#111" stroke-width="1.4"/>
<polyline points="1204.4,541.5 1204.5,548.8" fill="none" stroke="#111" stroke-width="2.5" stroke-linejoin="round" stroke-linecap="round"/>
<polyline points="1215.6,541.5 1215.8,549.4" fill="none" stroke="#111" stroke-width="2.5" stroke-linejoin="round" stroke-linecap="round"/>
<path d="M1204.5 548.8 C1206.3 549.9 1206.2 552 1210 552.2 C1213.8 552.5 1213.8 550.3 1215.8 549.4" fill="none" stroke="#111" stroke-width="2.5" stroke-linejoin="round" stroke-linecap="round"/>
<!-- 13_rightlower -->
<polyline points="1129,781 1197,677" fill="none" stroke="#111" stroke-width="2.9" stroke-linejoin="round" stroke-linecap="round"/>
<polyline points="1133.6,778 1200,680" fill="none" stroke="#111" stroke-width="1.4" stroke-linejoin="round" stroke-linecap="round"/>
<polyline points="1164,768 1209,698" fill="none" stroke="#111" stroke-width="2.9" stroke-linejoin="round" stroke-linecap="round"/>
<polyline points="1202,716.4 1214,710.4" fill="none" stroke="#111" stroke-width="2.9" stroke-linejoin="round" stroke-linecap="round"/>
<polygon points="1104,493 1110,463 1121.5,460 1125.6,462.5 1191,595 1215,640 1280,760 1348,880 1308,874 1247,760 1181,640" fill="#fefefe" stroke="none"/>
<polyline points="1110,463 1121.5,460 1125.6,462.5 1191,595 1215,640 1280,760 1348,880" fill="none" stroke="#111" stroke-width="2.9" stroke-linejoin="round" stroke-linecap="round"/>
<polyline points="1119.4,477 1170,595 1195,644 1260,760 1326,884" fill="none" stroke="#111" stroke-width="1.4" stroke-linejoin="round" stroke-linecap="round"/>
<polyline points="1104,493 1181,640 1247,760 1308,874" fill="none" stroke="#111" stroke-width="2.9" stroke-linejoin="round" stroke-linecap="round"/>
<polyline points="1104,493 1105,470" fill="none" stroke="#111" stroke-width="2.5" stroke-linejoin="round" stroke-linecap="round"/>
<ellipse cx="1219.6" cy="665" rx="2.6" ry="3.8" fill="none" stroke="#111" stroke-width="2.1" transform="rotate(25 1219.6 665)"/>
<polyline points="1218,667.4 1221.2,662.4" fill="none" stroke="#111" stroke-width="1.4" stroke-linejoin="round" stroke-linecap="round"/>
<polyline points="1079.6,680 1077,794" fill="none" stroke="#111" stroke-width="2.5" stroke-linejoin="round" stroke-linecap="round"/>
<polyline points="1098,640 1094.4,801" fill="none" stroke="#111" stroke-width="2.5" stroke-linejoin="round" stroke-linecap="round"/>
<polyline points="1121.4,640 1119,789" fill="none" stroke="#111" stroke-width="2.5" stroke-linejoin="round" stroke-linecap="round"/>
<polyline points="1077,794 1094.4,801.6" fill="none" stroke="#111" stroke-width="2.5" stroke-linejoin="round" stroke-linecap="round"/>
<ellipse cx="1086.4" cy="715" rx="1.8" ry="2.6" fill="#111" stroke="#111" stroke-width="1.8" transform="rotate(5 1086.4 715)"/>
<ellipse cx="1086" cy="778" rx="1.8" ry="2.6" fill="#111" stroke="#111" stroke-width="1.8" transform="rotate(5 1086 778)"/>
<polyline points="1143,780 1094,802" fill="none" stroke="#111" stroke-width="2.5" stroke-linejoin="round" stroke-linecap="round"/>
<polyline points="1094,802 880,926" fill="none" stroke="#111" stroke-width="1.4" stroke-linejoin="round" stroke-linecap="round"/>
<polyline points="1128,816 940,918" fill="none" stroke="#111" stroke-width="2.9" stroke-linejoin="round" stroke-linecap="round"/>
<polyline points="1143,780 1143,806.4" fill="none" stroke="#111" stroke-width="2.5" stroke-linejoin="round" stroke-linecap="round"/>
<polyline points="1143,780 1164,769 1290,842.4" fill="none" stroke="#111" stroke-width="2.9" stroke-linejoin="round" stroke-linecap="round"/>
<polyline points="1144.4,781.2 1331,893.6" fill="none" stroke="#111" stroke-width="1.4" stroke-linejoin="round" stroke-linecap="round"/>
<polyline points="1143,806.4 1277,886.4" fill="none" stroke="#111" stroke-width="2.9" stroke-linejoin="round" stroke-linecap="round"/>
<polyline points="1288,838 1290,845" fill="none" stroke="#111" stroke-width="1.4" stroke-linejoin="round" stroke-linecap="round"/>
<polyline points="1120,744 1142,757" fill="none" stroke="#111" stroke-width="2.5" stroke-linejoin="round" stroke-linecap="round"/>
<polyline points="1120,768 1138,759" fill="none" stroke="#111" stroke-width="2.5" stroke-linejoin="round" stroke-linecap="round"/>
<polyline points="1124,818 1139,829 1156.4,818 1146,810.4" fill="none" stroke="#111" stroke-width="2.5" stroke-linejoin="round" stroke-linecap="round"/>
<polyline points="1125,816 1139,825 1154,816.4" fill="none" stroke="#111" stroke-width="1.4" stroke-linejoin="round" stroke-linecap="round"/>
<ellipse cx="1140" cy="815" rx="4" ry="2.4" fill="none" stroke="#111" stroke-width="1.8"/>
<ellipse cx="1140.4" cy="815.2" rx="1.8" ry="1" fill="none" stroke="#111" stroke-width="1.4"/>
<polyline points="1330,888 1348,880 1356.4,886 1354.4,910.4 1338,922 1335.2,895.6 1330,888" fill="none" stroke="#111" stroke-width="2.5" stroke-linejoin="round" stroke-linecap="round"/>
<polyline points="1335.2,895.6 1356.4,886" fill="none" stroke="#111" stroke-width="2.5" stroke-linejoin="round" stroke-linecap="round"/>
<polyline points="1332,918 1300,922.4 1302,926.4 1318,936.4 1368,907.6 1369,902.4 1357,896.8" fill="none" stroke="#111" stroke-width="2.5" stroke-linejoin="round" stroke-linecap="round"/>
<polyline points="1300,922.4 1317.6,932.4 1368,903.2" fill="none" stroke="#111" stroke-width="1.4" stroke-linejoin="round" stroke-linecap="round"/>
<ellipse cx="1316.4" cy="921.6" rx="4.4" ry="2.2" fill="none" stroke="#111" stroke-width="1.8" transform="rotate(-8 1316.4 921.6)"/>
<ellipse cx="1358" cy="902.4" rx="2" ry="2.8" fill="none" stroke="#111" stroke-width="1.8"/>
<polyline points="1100,903 1270,888 1312,885 1330,888.4" fill="none" stroke="#111" stroke-width="2.9" stroke-linejoin="round" stroke-linecap="round"/>
<polyline points="1100,918 1335.2,898" fill="none" stroke="#111" stroke-width="1.4" stroke-linejoin="round" stroke-linecap="round"/>
<polyline points="1100,937 1330,915.6" fill="none" stroke="#111" stroke-width="2.9" stroke-linejoin="round" stroke-linecap="round"/>
<polyline points="847,946 880,926.4 1100,903" fill="none" stroke="#111" stroke-width="2.9" stroke-linejoin="round" stroke-linecap="round"/>
<polyline points="847,946 1100,918" fill="none" stroke="#111" stroke-width="1.4" stroke-linejoin="round" stroke-linecap="round"/>
<polyline points="847,946 847,962.5 1100,937" fill="none" stroke="#111" stroke-width="2.9" stroke-linejoin="round" stroke-linecap="round"/>
<!-- 14_basegrid -->
<polyline points="637,880 871,760" fill="none" stroke="#111" stroke-width="2.9" stroke-linejoin="round" stroke-linecap="round"/>
<polyline points="653,891 888,771" fill="none" stroke="#111" stroke-width="1.4" stroke-linejoin="round" stroke-linecap="round"/>
<polyline points="658,896.4 882,780" fill="none" stroke="#111" stroke-width="2.9" stroke-linejoin="round" stroke-linecap="round"/>
<polyline points="748,844 859,909.6" fill="none" stroke="#111" stroke-width="2.5" stroke-linejoin="round" stroke-linecap="round"/>
<polyline points="751,848 856,911" fill="none" stroke="#111" stroke-width="1.4" stroke-linejoin="round" stroke-linecap="round"/>
<polyline points="765,837 872.4,900" fill="none" stroke="#111" stroke-width="2.9" stroke-linejoin="round" stroke-linecap="round"/>
<polyline points="748,844 765,837" fill="none" stroke="#111" stroke-width="2.5" stroke-linejoin="round" stroke-linecap="round"/>
<polyline points="882,772.4 937,805.6" fill="none" stroke="#111" stroke-width="2.9" stroke-linejoin="round" stroke-linecap="round"/>
<polyline points="895,766 951,801" fill="none" stroke="#111" stroke-width="2.9" stroke-linejoin="round" stroke-linecap="round"/>
<polyline points="914,760 994,809" fill="none" stroke="#111" stroke-width="2.9" stroke-linejoin="round" stroke-linecap="round"/>
<polyline points="956,819 992,839" fill="none" stroke="#111" stroke-width="2.9" stroke-linejoin="round" stroke-linecap="round"/>
<polyline points="936,805.6 951,801" fill="none" stroke="#111" stroke-width="2.5" stroke-linejoin="round" stroke-linecap="round"/>
<polyline points="824,868 949,802.4" fill="none" stroke="#111" stroke-width="2.9" stroke-linejoin="round" stroke-linecap="round"/>
<polyline points="837.6,877 961,811" fill="none" stroke="#111" stroke-width="1.4" stroke-linejoin="round" stroke-linecap="round"/>
<polyline points="839,880 962.4,813.6" fill="none" stroke="#111" stroke-width="2.5" stroke-linejoin="round" stroke-linecap="round"/>
<polyline points="949,802.4 962.4,810" fill="none" stroke="#111" stroke-width="2.5" stroke-linejoin="round" stroke-linecap="round"/>
<rect x="839.5" y="850.6" width="43" height="7.6" rx="3.8" fill="none" stroke="#111" stroke-width="1.6" transform="rotate(-27.5 861 854.4)"/>
<polyline points="845.3,863.2 876.7,846.8" fill="none" stroke="#111" stroke-width="1.1" stroke-linejoin="round" stroke-linecap="round"/>
<rect x="891.4" y="823.8" width="38" height="7.6" rx="3.8" fill="none" stroke="#111" stroke-width="1.6" transform="rotate(-27.5 910.4 827.6)"/>
<polyline points="896.9,835.2 923.9,821.2" fill="none" stroke="#111" stroke-width="1.1" stroke-linejoin="round" stroke-linecap="round"/>
<polyline points="877,900 994,839" fill="none" stroke="#111" stroke-width="2.9" stroke-linejoin="round" stroke-linecap="round"/>
<rect x="896.9" y="885.8" width="43" height="8.4" rx="4.2" fill="none" stroke="#111" stroke-width="1.6" transform="rotate(-27.5 918.4 890)"/>
<polyline points="903.1,898.7 933.7,882.7" fill="none" stroke="#111" stroke-width="1.1" stroke-linejoin="round" stroke-linecap="round"/>
<rect x="965.5" y="848.8" width="43" height="8.4" rx="4.2" fill="none" stroke="#111" stroke-width="1.6" transform="rotate(-27.5 987 853)"/>
<polyline points="971.7,861.7 1002.3,845.7" fill="none" stroke="#111" stroke-width="1.1" stroke-linejoin="round" stroke-linecap="round"/>
<polyline points="806,942 878,902.4" fill="none" stroke="#111" stroke-width="2.9" stroke-linejoin="round" stroke-linecap="round"/>
<polyline points="880,926.4 1020,849" fill="none" stroke="#111" stroke-width="1.4" stroke-linejoin="round" stroke-linecap="round"/>
<polyline points="940,918 1020,876" fill="none" stroke="#111" stroke-width="2.9" stroke-linejoin="round" stroke-linecap="round"/>
<polyline points="859,909.6 872.4,900" fill="none" stroke="#111" stroke-width="2.5" stroke-linejoin="round" stroke-linecap="round"/>
<polyline points="735,760 700,844" fill="none" stroke="#111" stroke-width="2.9" stroke-linejoin="round" stroke-linecap="round"/>
<polyline points="758,760 728,829" fill="none" stroke="#111" stroke-width="2.9" stroke-linejoin="round" stroke-linecap="round"/>
<polyline points="751,760 724,826" fill="none" stroke="#111" stroke-width="1.4" stroke-linejoin="round" stroke-linecap="round"/>
<polyline points="728,829 744,826 870,760" fill="none" stroke="#111" stroke-width="2.9" stroke-linejoin="round" stroke-linecap="round"/>
<polyline points="700,844 708,840" fill="none" stroke="#111" stroke-width="2.9" stroke-linejoin="round" stroke-linecap="round"/>
<polyline points="716,837 724,833" fill="none" stroke="#111" stroke-width="2.5" stroke-linejoin="round" stroke-linecap="round"/>
<polyline points="732,849 740,845" fill="none" stroke="#111" stroke-width="2.5" stroke-linejoin="round" stroke-linecap="round"/>
<polyline points="738,854 748,849" fill="none" stroke="#111" stroke-width="2.5" stroke-linejoin="round" stroke-linecap="round"/>
<polyline points="711,938 716,936 806,892 815,898.4 814,904.4 724,953" fill="none" stroke="#111" stroke-width="2.5" stroke-linejoin="round" stroke-linecap="round"/>
<polyline points="722.8,948.1 813.1,900.6" fill="none" stroke="#111" stroke-width="1.4" stroke-linejoin="round" stroke-linecap="round"/>
<path d="M711 938 C713.7 939 714.7 936 719 941 C723.3 946 722.3 949 724 953" fill="none" stroke="#111" stroke-width="2.5" stroke-linejoin="round" stroke-linecap="round"/>
<path d="M716 936 C718 937 719 935.3 722 939 C725 942.7 724 944.3 725 947" fill="none" stroke="#111" stroke-width="1.4" stroke-linejoin="round" stroke-linecap="round"/>
<ellipse cx="795.6" cy="884" rx="9.2" ry="5.4" fill="none" stroke="#111" stroke-width="2.9"/>
<ellipse cx="796" cy="884" rx="4" ry="2.2" fill="none" stroke="#111" stroke-width="1.7"/>
<polyline points="786.4,884.4 787.6,901.6" fill="none" stroke="#111" stroke-width="2.5" stroke-linejoin="round" stroke-linecap="round"/>
<polyline points="804.8,884.4 804,900" fill="none" stroke="#111" stroke-width="2.5" stroke-linejoin="round" stroke-linecap="round"/>
<path d="M787.6 901.6 C790.1 902.7 789.5 905.5 795 905 C800.5 904.5 801 901.7 804 900" fill="none" stroke="#111" stroke-width="2.5" stroke-linejoin="round" stroke-linecap="round"/>
<polyline points="785,920 786,960" fill="none" stroke="#111" stroke-width="2.5" stroke-linejoin="round" stroke-linecap="round"/>
<polyline points="803.6,918 803,960" fill="none" stroke="#111" stroke-width="2.5" stroke-linejoin="round" stroke-linecap="round"/>
<path d="M786 960 C787.3 961.5 787 962.5 790 964.4 C793 966.3 791.7 965.7 795 965.6 C798.3 965.5 797.3 965.9 800 964 C802.7 962.1 802 961.3 803 960" fill="none" stroke="#111" stroke-width="2.5" stroke-linejoin="round" stroke-linecap="round"/>
<ellipse cx="779" cy="894.4" rx="4.4" ry="2.4" fill="none" stroke="#111" stroke-width="1.8"/>
<polyline points="774.6,894.8 775,905" fill="none" stroke="#111" stroke-width="1.8" stroke-linejoin="round" stroke-linecap="round"/>
<polyline points="783.4,894.8 783.6,905" fill="none" stroke="#111" stroke-width="1.8" stroke-linejoin="round" stroke-linecap="round"/>
<path d="M775 905 C776.4 905.9 776.3 907.6 779.2 907.6 C782.1 907.6 782.1 905.9 783.6 905" fill="none" stroke="#111" stroke-width="1.8" stroke-linejoin="round" stroke-linecap="round"/>
<path d="M776 891 C777 890 777 888 779 888 C781 888 781 890 782 891" fill="none" stroke="#111" stroke-width="1.8" stroke-linejoin="round" stroke-linecap="round"/>
<polyline points="738,975.6 744.4,949" fill="none" stroke="#111" stroke-width="2.3" stroke-linejoin="round" stroke-linecap="round"/>
<path d="M750 941 C753.7 946.8 767.8 969.8 772 976 C776.2 982.2 773.7 978.2 775 978.4 C776.3 978.6 768 983.2 780 977 C792 970.8 835.8 947 847 941" fill="none" stroke="#111" stroke-width="2.9" stroke-linejoin="round" stroke-linecap="round"/>
<path d="M738 976 C742 981.4 752 996.4 758 1003 C764 1009.6 764 1007.8 768 1009 C772 1010.2 774.4 1009.7 778 1009 C781.6 1008.3 770.2 1014.6 786 1005.6 C801.8 996.6 842.8 972.3 857 964" fill="none" stroke="#111" stroke-width="2.9" stroke-linejoin="round" stroke-linecap="round"/>
<polyline points="740,981 756,1002" fill="none" stroke="#111" stroke-width="1.4" stroke-linejoin="round" stroke-linecap="round"/>
<polyline points="768,962 782,955" fill="none" stroke="#111" stroke-width="2.9" stroke-linejoin="round" stroke-linecap="round"/>
<polyline points="807,942.4 853,918" fill="none" stroke="#111" stroke-width="2.9" stroke-linejoin="round" stroke-linecap="round"/>
<!-- 15_midframe -->
<polyline points="805,577.6 735,760" fill="none" stroke="#111" stroke-width="2.9" stroke-linejoin="round" stroke-linecap="round"/>
<polyline points="820,588 758,760" fill="none" stroke="#111" stroke-width="2.5" stroke-linejoin="round" stroke-linecap="round"/>
<polyline points="823,586.4 760,760" fill="none" stroke="#111" stroke-width="1.4" stroke-linejoin="round" stroke-linecap="round"/>
<polyline points="798,570 798,594.4 788,606.4 786.4,612.4 794,610" fill="none" stroke="#111" stroke-width="2.5" stroke-linejoin="round" stroke-linecap="round"/>
<polyline points="798,575 820,586" fill="none" stroke="#111" stroke-width="1.4" stroke-linejoin="round" stroke-linecap="round"/>
<polyline points="798,570 816,560" fill="none" stroke="#111" stroke-width="2.5" stroke-linejoin="round" stroke-linecap="round"/>
<polyline points="838,576 944,637" fill="none" stroke="#111" stroke-width="2.9" stroke-linejoin="round" stroke-linecap="round"/>
<polyline points="820,586 943,655.6" fill="none" stroke="#111" stroke-width="2.9" stroke-linejoin="round" stroke-linecap="round"/>
<polyline points="818,610 942.4,682.4" fill="none" stroke="#111" stroke-width="2.9" stroke-linejoin="round" stroke-linecap="round"/>
<polyline points="794,610 804,605" fill="none" stroke="#111" stroke-width="2.5" stroke-linejoin="round" stroke-linecap="round"/>
<path d="M855.5 593.8 C855.5 587.6 854.5 575.6 855.5 567.5 C856.5 559.4 857.1 561.6 860 559 C862.9 556.4 864.3 556 868 556.2 C871.7 556.5 871.7 555.6 875.8 560 C879.8 564.4 882.8 568.9 885.5 575 C888.2 581.1 887 580 887.2 586.2 C887.5 592.5 886.7 598.3 886.5 602" fill="none" stroke="#111" stroke-width="2.8" stroke-linejoin="round" stroke-linecap="round"/>
<path d="M860 596.2 C860 590 859.1 577.4 860 569.5 C860.9 561.6 861.9 564.6 863.8 562.5 C865.6 560.4 867 561 868 560.5" fill="none" stroke="#111" stroke-width="1.5" stroke-linejoin="round" stroke-linecap="round"/>
<polyline points="855.5,593.8 860,596.2" fill="none" stroke="#111" stroke-width="1.8" stroke-linejoin="round" stroke-linecap="round"/>
<ellipse cx="870.8" cy="580" rx="7.2" ry="10" fill="none" stroke="#111" stroke-width="2.8" transform="rotate(-12 870.8 580)"/>
<ellipse cx="872.2" cy="580.5" rx="5" ry="7.5" fill="none" stroke="#111" stroke-width="1.7" transform="rotate(-12 872.2 580.5)"/>
<ellipse cx="953.6" cy="635.6" rx="2.4" ry="4" fill="none" stroke="#111" stroke-width="2.1" transform="rotate(-10 953.6 635.6)"/>
<ellipse cx="952.4" cy="698" rx="2.4" ry="4" fill="none" stroke="#111" stroke-width="2.1" transform="rotate(-10 952.4 698)"/>
<polyline points="970,566 1076,624" fill="none" stroke="#111" stroke-width="2.9" stroke-linejoin="round" stroke-linecap="round"/>
<polyline points="973,572 1068,625" fill="none" stroke="#111" stroke-width="1.4" stroke-linejoin="round" stroke-linecap="round"/>
<polyline points="976,560 1080,607" fill="none" stroke="#111" stroke-width="2.9" stroke-linejoin="round" stroke-linecap="round"/>
<polyline points="996,560 1078,599" fill="none" stroke="#111" stroke-width="2.9" stroke-linejoin="round" stroke-linecap="round"/>
<polyline points="1036,610 981,691" fill="none" stroke="#111" stroke-width="2.5" stroke-linejoin="round" stroke-linecap="round"/>
<polyline points="1040,611 985,692" fill="none" stroke="#111" stroke-width="1.4" stroke-linejoin="round" stroke-linecap="round"/>
<polyline points="1048,618 1028,648" fill="none" stroke="#111" stroke-width="2.5" stroke-linejoin="round" stroke-linecap="round"/>
<polyline points="1000,664 1088,613 1098.4,620 1097,675 1060,692 1059,688 1040,698 1032,698" fill="none" stroke="#111" stroke-width="2.5" stroke-linejoin="round" stroke-linecap="round"/>
<path d="M1000 675 C1000.7 675.8 1003 673.5 1004 680 C1005 686.5 1004.3 708.3 1006 714 C1007.7 719.7 1012.7 714 1014 714" fill="none" stroke="#111" stroke-width="2.5" stroke-linejoin="round" stroke-linecap="round"/>
<path d="M996 678 C996.7 679 998.9 677.7 1000 684 C1001.1 690.3 1000.7 710.6 1002.4 716 C1004.1 721.4 1007.1 717.2 1010 716.4 C1012.9 715.6 1018.3 711.9 1020 711" fill="none" stroke="#111" stroke-width="1.4" stroke-linejoin="round" stroke-linecap="round"/>
<ellipse cx="1010" cy="670" rx="3.2" ry="2" fill="none" stroke="#111" stroke-width="1.8" transform="rotate(20 1010 670)"/>
<ellipse cx="1038" cy="680" rx="9.6" ry="10.1" fill="#fefefe" stroke="#111" stroke-width="2.8"/>
<ellipse cx="1038.8" cy="680.4" rx="4.3" ry="5.3" fill="none" stroke="#111" stroke-width="2.1"/>
<path d="M1029.8 674.2 C1028.2 674.4 1027.4 673.1 1025 674.7 C1022.6 676.3 1022.6 676.2 1022.6 679 C1022.6 681.9 1024.2 681.9 1025 683.4" fill="none" stroke="#111" stroke-width="2.5" stroke-linejoin="round" stroke-linecap="round"/>
<polyline points="1018,698 1030,704" fill="none" stroke="#111" stroke-width="2.5" stroke-linejoin="round" stroke-linecap="round"/>
<polyline points="1017,698 1014,704 1020,712" fill="none" stroke="#111" stroke-width="2.5" stroke-linejoin="round" stroke-linecap="round"/>
<ellipse cx="1035" cy="710.4" rx="9.6" ry="10.1" fill="#fefefe" stroke="#111" stroke-width="2.8"/>
<ellipse cx="1035.8" cy="710.8" rx="4.3" ry="5.3" fill="none" stroke="#111" stroke-width="2.1"/>
<path d="M1026.8 704.6 C1025.2 704.8 1024.4 703.5 1022 705.1 C1019.6 706.7 1019.6 706.6 1019.6 709.4 C1019.6 712.3 1021.2 712.3 1022 713.8" fill="none" stroke="#111" stroke-width="2.5" stroke-linejoin="round" stroke-linecap="round"/>
<polyline points="943,716 732,826" fill="none" stroke="#111" stroke-width="2.9" stroke-linejoin="round" stroke-linecap="round"/>
<polyline points="958,720 740,840" fill="none" stroke="#111" stroke-width="1.4" stroke-linejoin="round" stroke-linecap="round"/>
<polyline points="1000,700 766,840" fill="none" stroke="#111" stroke-width="2.5" stroke-linejoin="round" stroke-linecap="round"/>
<polyline points="988,713 772,840" fill="none" stroke="#111" stroke-width="1.4" stroke-linejoin="round" stroke-linecap="round"/>
<polyline points="970,700 1000,686" fill="none" stroke="#111" stroke-width="2.5" stroke-linejoin="round" stroke-linecap="round"/>
<polyline points="988,714 1076,766" fill="none" stroke="#111" stroke-width="2.9" stroke-linejoin="round" stroke-linecap="round"/>
<polyline points="912,760 996,810" fill="none" stroke="#111" stroke-width="2.9" stroke-linejoin="round" stroke-linecap="round"/>
<polyline points="894,764 988,822" fill="none" stroke="#111" stroke-width="1.4" stroke-linejoin="round" stroke-linecap="round"/>
<polyline points="881,770 936,805" fill="none" stroke="#111" stroke-width="2.9" stroke-linejoin="round" stroke-linecap="round"/>
<polyline points="1040,700 1077,718" fill="none" stroke="#111" stroke-width="2.5" stroke-linejoin="round" stroke-linecap="round"/>
<polyline points="1044,698 1078,714" fill="none" stroke="#111" stroke-width="1.4" stroke-linejoin="round" stroke-linecap="round"/>
<ellipse cx="1053" cy="736" rx="6.4" ry="2.8" fill="none" stroke="#111" stroke-width="2.3" transform="rotate(-25 1053 736)"/>
<polygon points="900.8,706.3 907,703.1 901.4,692.4 895.2,695.7" fill="#fefefe" stroke="#111" stroke-width="2.3" stroke-linejoin="round" stroke-linecap="round"/>
<ellipse cx="898" cy="701" rx="3.3" ry="6" fill="#fefefe" stroke="#111" stroke-width="2.3" transform="rotate(-27.6 898 701)"/>
<polyline points="903.9,704.7 898.3,694.1" fill="none" stroke="#111" stroke-width="1.1" stroke-linejoin="round" stroke-linecap="round"/>
<polyline points="905.9,701 922.7,692.2" fill="none" stroke="#111" stroke-width="2.3" stroke-linejoin="round" stroke-linecap="round"/>
<polyline points="902.5,694.6 919.3,685.8" fill="none" stroke="#111" stroke-width="2.3" stroke-linejoin="round" stroke-linecap="round"/>
<ellipse cx="921" cy="689" rx="1.8" ry="3.6" fill="#fefefe" stroke="#111" stroke-width="2.3" transform="rotate(-27.6 921 689)"/>
<path d="M920.9 693.1L918.6 686.2M918.6 694.3L916.3 687.4M916.3 695.5L914 688.6M914 696.7L911.7 689.8" fill="none" stroke="#111" stroke-width="1.5" stroke-linejoin="round" stroke-linecap="round"/>
<polyline points="970,530 1046,482" fill="none" stroke="#111" stroke-width="2.9" stroke-linejoin="round" stroke-linecap="round"/>
<polyline points="986,542 1052,505" fill="none" stroke="#111" stroke-width="2.5" stroke-linejoin="round" stroke-linecap="round"/>
<polyline points="972,548 1000,532" fill="none" stroke="#111" stroke-width="1.4" stroke-linejoin="round" stroke-linecap="round"/>
<!-- 20_wheels -->
<polygon points="398.5,474 398.9,460 399.1,457.9 399.4,455.8 399.7,453.8 400.1,451.7 400.5,449.6 401,447.5 405.3,432.8 406.1,430.7 406.9,428.6 407.8,426.5 408.7,424.4 409.6,422.4 418.4,406.6 419.6,404.7 420.9,402.8 422.2,401 423.5,399.2 424.9,397.4 435.1,385.9 436.6,384.4 438.2,383 439.8,381.5 441.3,380.2 443,378.8 444.6,377.5 456.2,369.8 457.9,368.9 459.6,368 461.3,367.2 463,366.4 464.7,365.7 478.2,361.9 479.8,361.7 481.5,361.5 483.1,361.4 484.7,361.3 486.3,361.3 497,362.8 498.4,363.2 499.8,363.7 501.2,364.2 502.6,364.8 503.9,365.4 505.2,366.1 534.9,382.7 543.3,389 544.3,390.1 545.4,391.2 546.3,392.4 547.3,393.6 548.2,394.9 554.1,406.6 554.7,408.2 555.2,409.9 555.6,411.6 556.1,413.3 556.5,415.1 557.9,428.2 557.9,430.1 557.9,432.1 557.9,434.1 557.8,436.1 557.6,438.2 557.4,440.2 554.8,454.8 554.3,456.9 553.7,459 553.1,461.1 552.4,463.3 551.7,465.4 544.7,481.9 543.6,483.9 542.6,485.9 541.5,487.8 540.3,489.8 539.1,491.7 530,504.5 528.6,506.2 527.2,507.9 525.7,509.6 524.2,511.2 522.7,512.7 521.2,514.3 510.1,523.9 508.4,525.1 506.8,526.3 505.1,527.4 503.4,528.4 501.8,529.5 488.2,535.8 486.5,536.3 484.8,536.8 483.1,537.3 481.5,537.7 479.8,538 468.4,538.9 466.9,538.8 465.3,538.6 463.8,538.4 462.3,538.1 460.8,537.8 459.3,537.4 451.1,534.1 421.4,517.5 420.1,516.7 418.8,515.9 417.6,515.1 416.4,514.2 415.2,513.2 414.1,512.2 407.2,504 406.4,502.6 405.6,501.2 404.8,499.8 404.1,498.3 403.4,496.8 399.5,483.3 399.2,481.5 399,479.7 398.8,477.8 398.6,475.9" fill="#111" stroke="#111" stroke-width="1.5" stroke-linejoin="round"/>
<path d="M539.4 383.7L537.7 389.4L542 385.8ZM546.6 390.3L544.2 395.9L548.6 393ZM552.2 398.8L549.2 404.1L553.8 402.1ZM556.2 408.9L552.7 413.8L557.2 412.6ZM558.5 420.4L554.6 424.7L558.9 424.5ZM559 432.9L554.8 436.5L558.8 437.3ZM557.7 446.1L553.3 449L556.9 450.6ZM554.6 459.6L550.1 461.7L553.2 464.2ZM549.9 473.1L545.4 474.3L547.9 477.6ZM543.5 486.2L539.2 486.5L541.1 490.5ZM535.8 498.6L531.8 497.9L532.9 502.5ZM526.9 509.8L523.3 508.2L523.7 513.3ZM517.1 519.6L513.9 517.2L513.6 522.6ZM506.6 527.8L504 524.5L502.9 530.1ZM495.7 534L493.8 530.1L492 535.7ZM484.8 538.2L483.6 533.6L481.1 539.1ZM474.1 540.2L473.6 535.1L470.6 540.3ZM463.9 539.9L464.2 534.5L460.6 539.3Z" fill="#fefefe" stroke="none"/>
<path d="M415.2 515.2L416.6 510.3L412.9 513.2ZM403 499.3L405.6 494.7L401.7 496.1ZM397.5 477.1L400.9 473.4L397.3 473.2ZM399.1 451.1L402.9 448.6L400 446.9ZM407.7 424.1L411.6 423.1L409.7 420ZM422.4 399L425.9 399.6L425.1 395.4ZM441.5 378.6L444.2 380.7L444.8 376ZM463 365.1L464.7 368.5L466.5 363.7ZM484.5 359.9L484.9 364.2L487.8 359.9Z" fill="#fefefe" stroke="none"/>
<path d="M445.4 529.8L436.4 524.7Q431.4 521.7 431.1 521L440.1 526M431.9 516.6L422.9 511.5Q418.9 507.2 419.6 505.3L428.6 510.3M424.5 496.7L415.5 491.7Q412.6 486.4 414.5 483.6L423.5 488.6M423.9 472.3L414.9 467.3Q413.3 461.5 416.3 458.2L425.4 463.3M430.3 446.1L421.2 441Q420.8 435.3 425 432L434 437.1M442.9 420.9L433.8 415.8Q434.3 410.5 439.4 407.8L448.5 412.9M460.3 399.4L451.3 394.4Q452.4 389.9 458.1 388.2L467.2 393.3M480.7 384L471.7 379Q473.1 375.8 479.1 375.4L488.1 380.4M501.8 376.4L492.8 371.4Q494.1 369.6 499.9 370.7L508.9 375.8M521.4 377.4L512.4 372.4Q513.2 372.1 518.4 374.7L527.5 379.8M415.5 511.5L424.5 516.6Q424.5 515.4 420.2 511.5L411.1 506.5M404.9 494.8L413.9 499.8Q415 497.5 411.7 492.5L402.7 487.5M400.8 472.3L409.9 477.4Q412.1 474.3 410.1 468.7L401 463.7M403.7 446.7L412.8 451.7Q416.2 448.4 415.4 442.6L406.4 437.5M413.3 420.6L422.4 425.6Q426.9 422.5 427.1 417L418.1 412M428.6 396.9L437.6 402Q443 399.6 443.9 394.8L434.9 389.8M447.8 378.2L456.8 383.3Q462.6 382 464 378.4L455 373.3M468.8 366.6L477.8 371.6Q483.8 371.7 485.2 369.5L476.2 364.4M489.5 363.2L498.5 368.3Q504.1 369.8 505.1 369.1L496.1 364.1" fill="none" stroke="#fefefe" stroke-width="2.2" stroke-linecap="round" stroke-linejoin="round"/>
<polyline points="445.9,527.6 443.7,525.6 441.7,523.4 439.8,521 438.1,518.5 436.6,515.8 435.2,512.9 433.9,509.9 432.8,506.7 431.9,503.4 431.1,500 430.5,496.4 430.1,492.8 429.9,489.1 429.8,485.3 429.9,481.4 430.2,477.4 430.6,473.4 431.2,469.4 432,465.3 433,461.2 434.1,457.1 435.4,453 436.8,448.9 438.4,444.9 440.1,440.8 442,436.9 444.1,432.9 446.2,429.1 448.5,425.3 450.9,421.7 453.4,418.1 456.1,414.6 458.8,411.3 461.6,408.1 464.5,405 467.5,402.1 470.6,399.3 473.7,396.7 476.9,394.2 480.1,392 483.4,389.9 486.7,388 490,386.3 493.3,384.8 496.6,383.5 499.9,382.4 503.2,381.5 506.4,380.8 509.6,380.3 512.8,380.1 515.9,380 518.9,380.2 521.9,380.6 524.8,381.2 527.6,382" fill="none" stroke="#fefefe" stroke-width="0.9" stroke-dasharray="9 5"/>
<polygon points="1533.9,963 1534.3,949.1 1534.6,947.1 1534.8,945 1535.1,943 1535.5,940.9 1535.9,938.8 1536.4,936.7 1540.7,922.2 1541.4,920.1 1542.2,918 1543.1,916 1544,913.9 1544.9,911.9 1553.6,896.2 1554.8,894.4 1556.1,892.5 1557.4,890.7 1558.7,888.9 1560,887.2 1570.1,875.8 1571.7,874.3 1573.2,872.9 1574.8,871.5 1576.3,870.1 1577.9,868.8 1579.5,867.5 1591.1,859.9 1592.8,859 1594.4,858.1 1596.1,857.3 1597.8,856.5 1599.5,855.8 1612.8,852.1 1614.5,851.9 1616.1,851.7 1617.7,851.6 1619.3,851.5 1620.9,851.5 1631.5,853 1632.9,853.4 1634.3,853.9 1635.7,854.4 1637.1,855 1638.4,855.6 1639.7,856.3 1674.1,879.9 1682.4,886.1 1683.4,887.2 1684.4,888.4 1685.4,889.5 1686.4,890.8 1687.3,892 1693.2,903.6 1693.7,905.2 1694.2,906.9 1694.7,908.5 1695.1,910.3 1695.5,912 1696.9,925 1697,926.9 1697,928.9 1696.9,930.9 1696.8,932.9 1696.7,934.9 1696.5,936.9 1694,951.3 1693.4,953.4 1692.8,955.5 1692.2,957.6 1691.6,959.7 1690.9,961.8 1683.9,978.1 1682.9,980.1 1681.8,982.1 1680.7,984 1679.6,986 1678.4,987.9 1669.4,1000.5 1668,1002.2 1666.6,1003.9 1665.1,1005.5 1663.7,1007.1 1662.2,1008.7 1660.7,1010.2 1649.6,1019.7 1648,1020.9 1646.4,1022 1644.7,1023.1 1643.1,1024.2 1641.4,1025.2 1627.9,1031.4 1626.3,1032 1624.6,1032.5 1622.9,1032.9 1621.3,1033.3 1619.6,1033.6 1608.3,1034.4 1606.8,1034.3 1605.2,1034.2 1603.7,1034 1602.2,1033.7 1600.8,1033.4 1599.3,1033 1591.1,1029.7 1589.8,1028.9 1588.6,1028.2 1554.2,1004.6 1553,1003.7 1551.8,1002.8 1550.6,1001.9 1549.5,1000.9 1542.6,992.7 1541.8,991.3 1541,989.9 1540.3,988.5 1539.5,987 1538.9,985.5 1535,972.2 1534.7,970.4 1534.4,968.6 1534.2,966.7 1534.1,964.9" fill="#111" stroke="#111" stroke-width="1.5" stroke-linejoin="round"/>
<path d="M1678.6 880.9L1676.9 886.5L1681.1 882.9ZM1685.6 887.5L1683.3 892.9L1687.7 890.1ZM1691.3 895.9L1688.3 901.1L1692.8 899.1ZM1695.3 905.9L1691.8 910.7L1696.2 909.6ZM1697.6 917.2L1693.7 921.5L1697.9 921.3ZM1698.1 929.6L1693.9 933.2L1697.9 934ZM1696.8 942.7L1692.4 945.6L1696 947.2ZM1693.8 956.1L1689.3 958.1L1692.3 960.6ZM1689 969.5L1684.6 970.6L1687.1 973.9ZM1682.8 982.4L1678.5 982.7L1680.3 986.6ZM1675.1 994.6L1671.1 994L1672.3 998.5ZM1666.3 1005.8L1662.7 1004.2L1663.1 1009.2ZM1656.6 1015.5L1653.5 1013L1653.1 1018.4ZM1646.2 1023.5L1643.6 1020.3L1642.6 1025.8ZM1635.4 1029.7L1633.5 1025.8L1631.7 1031.3ZM1624.6 1033.8L1623.4 1029.3L1620.9 1034.7ZM1613.9 1035.8L1613.5 1030.7L1610.5 1035.9ZM1603.8 1035.5L1604.1 1030.1L1600.6 1034.9Z" fill="#fefefe" stroke="none"/>
<path d="M1550.6 1003.8L1552 999L1548.3 1001.8ZM1538.5 988L1541 983.5L1537.2 984.9ZM1533 966.1L1536.3 962.4L1532.7 962.2ZM1534.5 940.4L1538.3 937.9L1535.4 936.1ZM1543 913.6L1546.9 912.6L1545 909.5ZM1557.5 888.8L1561 889.4L1560.3 885.2ZM1576.5 868.6L1579.2 870.7L1579.7 866ZM1597.8 855.2L1599.4 858.6L1601.2 853.8ZM1619.1 850.1L1619.6 854.4L1622.4 850.1Z" fill="#fefefe" stroke="none"/>
<path d="M1584.6 1024.1L1574.1 1016.9Q1568.8 1013.4 1568.9 1013.2L1579.3 1020.4M1571.2 1011L1560.7 1003.8Q1556.4 999 1557.4 997.6L1567.9 1004.8M1563.8 991.3L1553.3 984.1Q1550.1 978.4 1552.3 976.1L1562.8 983.3M1563.2 967.2L1552.7 960Q1550.7 953.7 1554.1 951L1564.6 958.2M1569.4 941.2L1559 934Q1558.1 927.7 1562.7 925.1L1573.1 932.3M1581.9 916.2L1571.4 909.1Q1571.5 903.2 1577 901.1L1587.4 908.3M1599.2 895L1588.7 887.8Q1589.4 882.9 1595.5 881.8L1606 888.9M1619.4 879.8L1608.9 872.6Q1610 868.9 1616.2 869.1L1626.7 876.3M1640.3 872.3L1629.9 865.1Q1630.8 862.9 1636.9 864.5L1647.4 871.7M1659.8 873.3L1649.3 866.1Q1649.8 865.4 1655.3 868.5L1665.8 875.7M1551.1 1000.6L1561.6 1007.7Q1562 1007.1 1557.3 1002.7L1546.8 995.6M1540.6 984L1551.1 991.1Q1552.5 989.4 1548.9 983.9L1538.4 976.8M1536.5 961.7L1547 968.9Q1549.6 966.5 1547.2 960.3L1536.7 953.1M1539.4 936.3L1549.9 943.5Q1553.7 940.8 1552.4 934.5L1542 927.3M1548.9 910.5L1559.3 917.7Q1564.2 915.2 1564 909.2L1553.6 902M1564 887.1L1574.4 894.3Q1580.1 892.4 1580.7 887.2L1570.2 880M1583 868.6L1593.4 875.8Q1599.6 875.1 1600.6 870.9L1590.1 863.8M1603.8 857.1L1614.3 864.3Q1620.6 864.9 1621.6 862.2L1611.1 855M1624.3 853.8L1634.8 861Q1640.7 863.1 1641.4 861.9L1630.9 854.7" fill="none" stroke="#fefefe" stroke-width="2.2" stroke-linecap="round" stroke-linejoin="round"/>
<polyline points="1585.9,1023.3 1583.8,1021.3 1581.8,1019.1 1580,1016.7 1578.3,1014.2 1576.7,1011.5 1575.3,1008.7 1574,1005.7 1573,1002.5 1572,999.3 1571.3,995.9 1570.7,992.4 1570.3,988.8 1570,985.1 1569.9,981.3 1570,977.5 1570.3,973.5 1570.7,969.6 1571.3,965.6 1572.1,961.5 1573.1,957.5 1574.2,953.4 1575.4,949.4 1576.8,945.3 1578.4,941.3 1580.1,937.3 1582,933.4 1584,929.5 1586.1,925.7 1588.4,922 1590.8,918.4 1593.3,914.8 1595.9,911.4 1598.6,908.1 1601.4,904.9 1604.3,901.9 1607.3,899 1610.3,896.2 1613.4,893.7 1616.5,891.2 1619.7,889 1623,886.9 1626.2,885.1 1629.5,883.4 1632.8,881.9 1636,880.6 1639.3,879.5 1642.6,878.7 1645.8,878 1649,877.5 1652.1,877.3 1655.2,877.2 1658.2,877.4 1661.2,877.8 1664.1,878.4 1666.9,879.2" fill="none" stroke="#fefefe" stroke-width="0.9" stroke-dasharray="9 5"/>
<polygon points="261.5,1026.4 261.7,1024.4 261.9,1022.4 262.1,1020.4 262.4,1018.4 262.8,1016.4 263.1,1014.4 267,1000.3 267.7,998.3 268.5,996.3 269.3,994.3 270.1,992.3 271,990.4 279.3,975.4 280.5,973.6 281.7,971.9 283,970.2 284.2,968.5 285.6,966.8 295.5,956 297,954.7 298.5,953.3 300,952 301.6,950.7 303.2,949.5 304.8,948.3 316.3,941.2 318,940.4 319.7,939.6 321.4,938.9 323.1,938.2 324.8,937.6 338.3,934.4 340,934.2 341.6,934.1 343.3,934.1 344.9,934.1 346.5,934.1 357.4,935.9 358.9,936.4 360.4,936.9 361.8,937.5 363.2,938.1 364.6,938.8 394.8,953.6 396.1,954.3 404.8,960.7 405.9,961.8 407,962.9 408.1,964.1 409.1,965.3 410.1,966.6 416.5,978.1 417.1,979.7 417.7,981.4 418.2,983 418.7,984.7 419.2,986.4 421.1,999.2 421.2,1001.1 421.3,1003 421.3,1004.9 421.3,1006.9 421.2,1008.8 421.1,1010.8 419,1024.9 418.6,1026.9 418.1,1028.9 417.5,1030.9 416.9,1032.9 416.3,1034.9 409.7,1050.7 408.8,1052.6 407.7,1054.5 406.7,1056.3 405.6,1058.2 404.5,1060 395.7,1072 394.3,1073.6 392.9,1075.2 391.5,1076.8 390.1,1078.3 388.6,1079.7 387.1,1081.2 376.2,1090.1 374.6,1091.2 372.9,1092.2 371.3,1093.2 369.6,1094.2 368,1095.1 354.4,1100.7 352.7,1101.2 351,1101.6 349.3,1102 347.7,1102.3 346,1102.6 334.5,1103 332.9,1102.8 331.3,1102.6 329.7,1102.4 328.2,1102 326.7,1101.7 325.2,1101.3 316.7,1097.7 286.5,1082.9 285.1,1082.1 283.8,1081.3 282.6,1080.4 281.3,1079.5 280.1,1078.6 278.9,1077.6 271.6,1069.3 270.7,1067.9 269.8,1066.5 269,1065.1 268.2,1063.7 267.5,1062.2 263,1049 262.6,1047.2 262.3,1045.4 262,1043.6 261.8,1041.8 261.6,1039.9" fill="#111" stroke="#111" stroke-width="1.5" stroke-linejoin="round"/>
<path d="M400.7 955.5L399.2 960.8L403.4 957.5ZM408.2 962.1L406 967.4L410.4 964.8ZM414.3 970.5L411.4 975.5L416 973.7ZM418.7 980.5L415.4 985L419.9 984.1ZM421.5 991.6L417.7 995.7L422 995.6ZM422.5 1003.8L418.3 1007.1L422.4 1008ZM421.6 1016.5L417.2 1019.1L420.9 1020.9ZM419 1029.5L414.5 1031.3L417.7 1033.9ZM414.7 1042.4L410.2 1043.4L412.8 1046.6ZM408.7 1054.8L404.3 1054.9L406.4 1058.9ZM401.3 1066.5L397.2 1065.7L398.6 1070.2ZM392.7 1077L389 1075.4L389.6 1080.3ZM383.1 1086.2L379.8 1083.7L379.7 1088.9ZM372.8 1093.7L370.1 1090.4L369.2 1095.8ZM362 1099.3L359.9 1095.4L358.3 1100.8ZM351 1102.9L349.7 1098.5L347.4 1103.7ZM340.3 1104.5L339.6 1099.6L336.7 1104.5ZM329.9 1103.8L330 1098.6L326.6 1103.1Z" fill="#fefefe" stroke="none"/>
<path d="M280.1 1080.4L281.4 1075.8L277.7 1078.4ZM267.2 1064.6L269.6 1060.3L265.7 1061.5ZM260.7 1042.9L264 1039.5L260.4 1039.1ZM261.4 1017.8L265.2 1015.5L262.2 1013.7ZM269.1 992L273 991.2L270.9 988.1ZM283.1 968.3L286.6 968.9L285.7 964.9ZM301.7 949.2L304.5 951.3L305 946.8ZM323 936.9L324.8 940.3L326.5 935.7ZM344.7 932.7L345.3 936.9L348 932.8Z" fill="#fefefe" stroke="none"/>
<path d="M310.9 1093.7L301.7 1089.2Q296.6 1086.3 296.2 1085.4L305.4 1089.9M296.7 1080.5L287.5 1076Q283.3 1071.8 283.9 1069.8L293.1 1074.3M288.4 1061L279.2 1056.5Q276.2 1051.5 277.9 1048.6L287.1 1053.1M286.9 1037.3L277.7 1032.8Q275.9 1027.4 278.9 1024.1L288 1028.6M292.4 1012.2L283.2 1007.7Q282.5 1002.2 286.6 999.1L295.8 1003.6M304.2 988.2L295 983.7Q295.3 978.8 300.4 976.2L309.6 980.7M321.1 968.1L311.9 963.6Q313 959.5 318.7 957.9L327.8 962.4M341.2 954L332.1 949.5Q333.4 946.6 339.4 946.3L348.6 950.8M362.4 947.4L353.2 942.9Q354.5 941.5 360.4 942.5L369.6 947M382.3 949.1L373.1 944.6Q374 944.6 379.3 947.1L388.5 951.6M280.3 1076.8L289.4 1081.3Q289.3 1080 284.8 1076.2L275.6 1071.7M268.9 1060.2L278 1064.7Q279 1062.3 275.5 1057.5L266.4 1053M263.9 1038.3L273.1 1042.8Q275.2 1039.7 273 1034.4L263.8 1029.9M265.9 1013.6L275.1 1018.1Q278.4 1014.8 277.4 1009.3L268.2 1004.8M274.7 988.7L283.9 993.2Q288.3 990.2 288.3 985L279.1 980.5M289.2 966.3L298.4 970.8Q303.7 968.5 304.6 964.1L295.4 959.6M308 949L317.2 953.5Q323 952.2 324.3 949L315.1 944.5M328.9 938.5L338.1 943Q344.1 943.1 345.5 941.2L336.3 936.7M349.8 936L359 940.5Q364.7 942 365.7 941.6L356.6 937.1" fill="none" stroke="#fefefe" stroke-width="2.2" stroke-linecap="round" stroke-linejoin="round"/>
<polyline points="311.1,1091.2 308.9,1089.2 306.8,1087 304.8,1084.6 303,1082.1 301.3,1079.4 299.7,1076.6 298.3,1073.6 297.1,1070.5 296.1,1067.3 295.2,1063.9 294.4,1060.5 293.9,1057 293.5,1053.3 293.3,1049.6 293.2,1045.9 293.3,1042.1 293.6,1038.2 294.1,1034.3 294.8,1030.4 295.6,1026.5 296.6,1022.5 297.7,1018.6 299,1014.7 300.5,1010.8 302.1,1007 303.9,1003.2 305.8,999.5 307.8,995.9 310,992.3 312.3,988.9 314.7,985.5 317.3,982.2 319.9,979.1 322.7,976.1 325.5,973.2 328.4,970.5 331.5,967.9 334.5,965.5 337.7,963.3 340.8,961.2 344.1,959.3 347.3,957.6 350.6,956.1 353.9,954.7 357.2,953.6 360.5,952.7 363.8,951.9 367.1,951.4 370.3,951.1 373.5,950.9 376.7,951 379.8,951.3 382.8,951.8 385.8,952.5 388.7,953.4" fill="none" stroke="#fefefe" stroke-width="0.9" stroke-dasharray="9 5"/>
<!-- 21_leftwheel_hub -->
<ellipse cx="494.5" cy="458.6" rx="75" ry="48.4" fill="none" stroke="#fefefe" stroke-width="1.1" transform="rotate(119 494.5 458.6)"/>
<ellipse cx="494.5" cy="458.6" rx="71.8" ry="45.6" fill="#fefefe" stroke="#111" stroke-width="2.8" transform="rotate(119 494.5 458.6)"/>
<path d="M515 499.9 C513.4 501.4 513.5 501.5 510.3 504.3 C507.1 507 508.7 505.7 505.4 508.1 C502.1 510.5 503.7 509.4 500.4 511.4 C497.1 513.4 498.7 512.5 495.4 514.1 C492 515.7 493.7 515 490.4 516.2 C487 517.4 488.7 516.9 485.4 517.6 C482.1 518.4 483.7 518.1 480.6 518.4 C477.4 518.7 478.9 518.7 475.9 518.5 C472.8 518.4 474.3 518.5 471.4 518 C468.6 517.4 469.9 517.8 467.2 516.7 C464.6 515.7 465.8 516.3 463.4 514.9 C460.9 513.4 462.1 514.2 459.9 512.4 C457.7 510.5 458.7 511.5 456.8 509.3 C454.8 507 455.7 508.2 454.1 505.6 C452.4 503 453.2 504.4 451.8 501.4 C450.5 498.5 451.1 500 450.1 496.7 C449.1 493.5 449.5 495.2 448.9 491.6 C448.2 488.1 448.4 489.9 448.1 486.2 C447.8 482.4 447.9 484.3 447.9 480.4 C448 476.4 447.9 478.4 448.3 474.3 C448.7 470.2 448.8 470.2 449.1 468.1" fill="none" stroke="#111" stroke-width="1.3" stroke-linejoin="round" stroke-linecap="round"/>
<path d="M531.8 404.1 C532.8 405 533 404.8 534.8 406.8 C536.7 408.8 535.9 407.7 537.5 410 C539.1 412.4 538.3 411.1 539.7 413.8 C541 416.4 540.4 415 541.4 418 C542.4 421 542 419.4 542.7 422.6 C543.4 425.9 543.1 424.2 543.5 427.7 C543.9 431.1 543.8 429.4 543.8 433 C543.9 436.6 543.9 434.8 543.6 438.6 C543.4 442.4 543.6 440.5 543 444.4 C542.4 448.3 542.7 446.3 541.8 450.3 C540.9 454.2 541.4 452.3 540.2 456.3 C539 460.3 538.8 460.3 538.1 462.3" fill="none" stroke="#111" stroke-width="1.3" stroke-linejoin="round" stroke-linecap="round"/>
<path d="M532.6 412.4 C533.3 413.4 533.4 413.2 534.7 415.4 C536.1 417.5 535.5 416.4 536.5 418.8 C537.6 421.2 537.1 419.9 537.9 422.6 C538.7 425.3 538.4 423.9 538.9 426.8 C539.4 429.7 539.3 428.2 539.5 431.3 C539.7 434.4 539.7 432.8 539.6 436.1 C539.6 439.4 539.7 437.7 539.3 441.2 C539 444.6 539.2 442.9 538.6 446.4 C537.9 449.9 537.8 449.9 537.4 451.7" fill="none" stroke="#111" stroke-width="1.3" stroke-linejoin="round" stroke-linecap="round"/>
<path d="M477.9 475.1 C477.1 475.2 477 475.3 475.3 475.4 C473.6 475.4 474.4 475.5 472.8 475.2 C471.2 475 472 475.2 470.5 474.6 C469 474.1 469.7 474.4 468.4 473.6 C467 472.7 467.6 473.2 466.5 472.1 C465.3 471 465.8 471.6 464.9 470.2 C463.9 468.9 464.3 469.6 463.6 468 C462.8 466.5 463.2 467.3 462.6 465.5 C462.1 463.8 462.3 464.7 462 462.7 C461.8 460.8 461.8 461.8 461.8 459.7 C461.8 457.7 461.7 458.7 462 456.6 C462.2 454.5 462 455.5 462.5 453.4 C463 451.2 462.7 452.3 463.4 450.1 C464.1 447.9 463.7 449 464.6 446.9 C465.5 444.8 465 445.8 466.1 443.8 C467.3 441.7 466.7 442.7 468 440.8 C469.3 438.9 468.6 439.8 470 438.1 C471.5 436.3 470.8 437.1 472.3 435.6 C473.9 434 473.1 434.7 474.8 433.4 C476.5 432.1 475.7 432.7 477.4 431.6 C479.1 430.6 478.3 431 480.1 430.2 C481.8 429.4 481 429.8 482.7 429.3 C484.5 428.8 483.6 428.9 485.4 428.7 C487.1 428.5 486.3 428.6 487.9 428.7 C489.6 428.8 488.8 428.6 490.4 429 C491.9 429.4 491.2 429.2 492.6 429.9 C494 430.6 493.4 430.1 494.6 431.1 C495.9 432.1 495.3 431.5 496.4 432.8 C497.4 434 496.9 433.3 497.8 434.8 C498.7 436.3 498.6 436.4 498.9 437.2" fill="none" stroke="#111" stroke-width="1.8" stroke-linejoin="round" stroke-linecap="round"/>
<path d="M478.3 470.9 C477.6 470.9 477.6 471.1 476.3 471 C475 470.9 475.6 471 474.5 470.7 C473.3 470.4 473.8 470.6 472.8 470 C471.7 469.5 472.2 469.8 471.2 469 C470.3 468.2 470.7 468.7 470 467.7 C469.2 466.7 469.5 467.2 468.9 466 C468.3 464.9 468.6 465.5 468.1 464.1 C467.7 462.8 467.9 463.5 467.6 462 C467.4 460.5 467.5 461.2 467.4 459.6 C467.4 458 467.3 458.8 467.5 457.1 C467.6 455.4 467.5 456.3 467.9 454.5 C468.2 452.8 468 453.6 468.5 451.9 C469 450.1 468.7 451 469.4 449.2 C470.1 447.5 469.8 448.3 470.6 446.6 C471.5 445 471 445.8 472 444.2 C473 442.6 472.5 443.3 473.7 441.8 C474.8 440.3 474.2 441 475.4 439.7 C476.7 438.3 476.1 439 477.4 437.8 C478.7 436.6 478 437.2 479.4 436.2 C480.8 435.2 480.1 435.6 481.5 434.9 C482.9 434.1 482.2 434.4 483.6 433.9 C485 433.4 484.3 433.6 485.7 433.3 C487 433 486.4 433.1 487.7 433 C489 433 488.4 432.9 489.6 433.1 C490.9 433.3 490.3 433.2 491.4 433.6 C492.5 434 492 433.8 493 434.4 C494 435.1 493.6 434.7 494.4 435.6 C495.3 436.5 495.2 436.6 495.6 437.1" fill="none" stroke="#111" stroke-width="1.4" stroke-linejoin="round" stroke-linecap="round"/>
<ellipse cx="498.8" cy="421.2" rx="5.5" ry="5.2" fill="none" stroke="#111" stroke-width="2.3"/>
<ellipse cx="499.1" cy="421" rx="2.5" ry="2.5" fill="none" stroke="#111" stroke-width="1.4"/>
<polyline points="495.4,422.4 502.6,419.6" fill="none" stroke="#111" stroke-width="1.1" stroke-linejoin="round" stroke-linecap="round"/>
<ellipse cx="463.8" cy="441.2" rx="4.2" ry="4" fill="none" stroke="#111" stroke-width="2.3"/>
<ellipse cx="464.1" cy="441" rx="1.9" ry="1.9" fill="none" stroke="#111" stroke-width="1.4"/>
<polyline points="461.2,442.1 466.7,440" fill="none" stroke="#111" stroke-width="1.1" stroke-linejoin="round" stroke-linecap="round"/>
<ellipse cx="463.8" cy="482.5" rx="5.8" ry="5.5" fill="none" stroke="#111" stroke-width="2.3"/>
<ellipse cx="464.1" cy="482.2" rx="2.6" ry="2.6" fill="none" stroke="#111" stroke-width="1.4"/>
<polyline points="460.3,483.6 467.8,480.8" fill="none" stroke="#111" stroke-width="1.1" stroke-linejoin="round" stroke-linecap="round"/>
<polyline points="478.1,441.2 488.8,436.2 498.1,441.2" fill="none" stroke="#111" stroke-width="2.5" stroke-linejoin="round" stroke-linecap="round"/>
<polyline points="478.1,441.2 492.5,449.4 498.1,441.2" fill="none" stroke="#111" stroke-width="2.5" stroke-linejoin="round" stroke-linecap="round"/>
<polyline points="473.8,452.5 477.5,441.9" fill="none" stroke="#111" stroke-width="2.5" stroke-linejoin="round" stroke-linecap="round"/>
<path d="M473.8 452.5 C473.5 455 471 455.4 473.1 460 C475.2 464.6 477.7 464.2 480 466.2" fill="none" stroke="#111" stroke-width="2.5" stroke-linejoin="round" stroke-linecap="round"/>
<polyline points="492.5,449.4 490,455" fill="none" stroke="#111" stroke-width="1.4" stroke-linejoin="round" stroke-linecap="round"/>
<polyline points="498.1,441.2 507.5,450" fill="none" stroke="#111" stroke-width="2.5" stroke-linejoin="round" stroke-linecap="round"/>
<polygon points="484.4,464.4 500.6,455.6 511.2,461.2 495,471.2" fill="none" stroke="#111" stroke-width="2.5" stroke-linejoin="round" stroke-linecap="round"/>
<ellipse cx="495" cy="464" rx="3.8" ry="2.2" fill="none" stroke="#111" stroke-width="2.1" transform="rotate(-10 495 464)"/>
<polyline points="484.4,464.4 485.6,471.2 495,476.9 495,471.2" fill="none" stroke="#111" stroke-width="2.5" stroke-linejoin="round" stroke-linecap="round"/>
<polyline points="495,476.9 505,471.9" fill="none" stroke="#111" stroke-width="2.5" stroke-linejoin="round" stroke-linecap="round"/>
<polygon points="519.4,443.8 536.2,433.8 546.9,440.2 530,450.2" fill="none" stroke="#111" stroke-width="2.5" stroke-linejoin="round" stroke-linecap="round"/>
<ellipse cx="535" cy="441.5" rx="3.8" ry="2.2" fill="none" stroke="#111" stroke-width="2.1" transform="rotate(-10 535 441.5)"/>
<polyline points="546.9,440.2 547.5,450 538.8,455.2" fill="none" stroke="#111" stroke-width="2.5" stroke-linejoin="round" stroke-linecap="round"/>
<polyline points="530,450.2 530.6,455" fill="none" stroke="#111" stroke-width="2.5" stroke-linejoin="round" stroke-linecap="round"/>
<polyline points="500.6,455.6 517.5,449.4 519.4,443.8" fill="none" stroke="#111" stroke-width="2.5" stroke-linejoin="round" stroke-linecap="round"/>
<polyline points="511.2,461.2 521.2,455.2 530,450.2" fill="none" stroke="#111" stroke-width="2.5" stroke-linejoin="round" stroke-linecap="round"/>
<polyline points="507.5,458.8 517.5,452.5" fill="none" stroke="#111" stroke-width="1.4" stroke-linejoin="round" stroke-linecap="round"/>
<path d="M488.8 477.5 C489.2 480 487.1 480.2 490 485 C492.9 489.8 492.1 490 497.5 491.9 C502.9 493.8 503.3 491 506.2 490.6" fill="none" stroke="#111" stroke-width="2.5" stroke-linejoin="round" stroke-linecap="round"/>
<path d="M495 476.9 C495.8 478.3 497.1 477.7 497.5 481.2 C497.9 484.8 496.7 485.4 496.2 487.5" fill="none" stroke="#111" stroke-width="2.5" stroke-linejoin="round" stroke-linecap="round"/>
<ellipse cx="502.8" cy="486.2" rx="2.8" ry="2.2" fill="none" stroke="#111" stroke-width="2.1"/>
<ellipse cx="503" cy="486.2" rx="1.1" ry="1" fill="none" stroke="#111" stroke-width="1.4"/>
<path d="M505 471.9 C503.8 474.6 501.2 474 501.2 480 C501.2 486 503.8 486.7 505 490" fill="none" stroke="#111" stroke-width="2.5" stroke-linejoin="round" stroke-linecap="round"/>
<path d="M515.2 494.8 C514.7 494.9 514.7 495 513.7 495.1 C512.7 495.2 513.2 495.2 512.2 495.1 C511.3 495 511.8 495.1 510.9 494.8 C510.1 494.5 510.5 494.7 509.7 494.3 C509 493.8 509.3 494.1 508.7 493.4 C508 492.8 508.3 493.1 507.8 492.3 C507.3 491.5 507.5 491.9 507.2 491 C506.8 490 506.9 490.5 506.7 489.4 C506.5 488.3 506.6 488.9 506.5 487.6 C506.4 486.4 506.4 487 506.5 485.7 C506.6 484.4 506.5 485.1 506.7 483.7 C506.9 482.4 506.8 483.1 507.2 481.7 C507.5 480.3 507.3 481 507.8 479.6 C508.3 478.1 508 478.8 508.7 477.4 C509.3 476.1 508.9 476.7 509.7 475.4 C510.4 474.1 510 474.7 510.9 473.4 C511.7 472.2 511.3 472.8 512.2 471.6 C513.1 470.4 512.7 471 513.7 469.9 C514.7 468.9 514.2 469.4 515.2 468.4 C516.2 467.5 515.7 467.9 516.8 467.2 C517.8 466.4 517.3 466.8 518.4 466.2 C519.5 465.6 518.9 465.9 520 465.5 C521 465.1 520.5 465.2 521.5 465 C522.6 464.8 522.1 464.9 523 464.9 C524 464.8 523.5 464.8 524.4 465 C525.3 465.2 524.9 465 525.7 465.4 C526.5 465.8 526.1 465.6 526.8 466.1 C527.5 466.7 527.2 466.4 527.8 467.1 C528.3 467.9 528.1 467.4 528.5 468.3 C529 469.2 528.9 469.3 529.1 469.8" fill="none" stroke="#111" stroke-width="2.3" stroke-linejoin="round" stroke-linecap="round"/>
<path d="M518.7 495.8 C518.2 495.9 518.2 496 517.3 496.1 C516.3 496.2 516.8 496.2 515.9 496.1 C515 496.1 515.4 496.1 514.6 495.9 C513.8 495.6 514.2 495.8 513.5 495.3 C512.8 494.9 513.1 495.1 512.5 494.5 C511.9 493.9 512.2 494.2 511.7 493.5 C511.2 492.7 511.4 493.1 511.1 492.2 C510.7 491.2 510.9 491.7 510.7 490.7 C510.5 489.6 510.5 490.1 510.5 489 C510.4 487.8 510.4 488.4 510.5 487.2 C510.6 485.9 510.5 486.5 510.7 485.2 C510.9 483.9 510.8 484.6 511.2 483.2 C511.5 481.9 511.3 482.5 511.8 481.2 C512.3 479.8 512 480.5 512.6 479.1 C513.2 477.8 512.9 478.4 513.6 477.1 C514.3 475.8 514 476.5 514.8 475.2 C515.6 474 515.2 474.6 516.1 473.4 C517 472.3 516.5 472.8 517.5 471.8 C518.4 470.8 517.9 471.3 518.9 470.4 C519.9 469.5 519.4 469.9 520.5 469.2 C521.5 468.4 521 468.7 522 468.2 C523 467.6 522.5 467.8 523.5 467.5 C524.5 467.1 524 467.2 525 467 C526 466.8 525.5 466.9 526.4 466.8 C527.4 466.8 526.9 466.8 527.8 467 C528.6 467.1 528.2 467 529 467.4 C529.7 467.7 529.4 467.5 530 468 C530.7 468.6 530.4 468.3 530.9 469 C531.5 469.7 531.2 469.3 531.6 470.2 C532 471 532 471.1 532.2 471.6" fill="none" stroke="#111" stroke-width="1.4" stroke-linejoin="round" stroke-linecap="round"/>
<path d="M522.4 496.4 C522 496.5 521.9 496.6 521 496.7 C520.2 496.8 520.6 496.8 519.7 496.7 C518.9 496.7 519.3 496.7 518.5 496.5 C517.8 496.2 518.1 496.4 517.5 496 C516.8 495.5 517.1 495.8 516.5 495.2 C516 494.6 516.2 494.9 515.8 494.2 C515.3 493.5 515.5 493.9 515.2 493 C514.9 492.1 515 492.6 514.8 491.6 C514.6 490.6 514.7 491.1 514.6 490 C514.6 488.9 514.6 489.5 514.6 488.3 C514.7 487.1 514.6 487.7 514.8 486.5 C515 485.2 514.9 485.8 515.3 484.6 C515.6 483.3 515.4 483.9 515.8 482.7 C516.3 481.4 516.1 482 516.6 480.7 C517.2 479.5 516.9 480.1 517.6 478.9 C518.2 477.7 517.9 478.2 518.7 477.1 C519.4 475.9 519 476.5 519.9 475.4 C520.7 474.4 520.3 474.9 521.2 473.9 C522.1 472.9 521.6 473.4 522.5 472.6 C523.5 471.7 523 472.1 524 471.4 C524.9 470.7 524.5 471 525.4 470.5 C526.4 470 525.9 470.2 526.9 469.8 C527.8 469.5 527.4 469.6 528.3 469.4 C529.2 469.2 528.8 469.3 529.6 469.2 C530.5 469.2 530.1 469.2 530.9 469.4 C531.7 469.5 531.3 469.4 532 469.7 C532.7 470.1 532.4 469.9 533 470.4 C533.6 470.9 533.3 470.6 533.9 471.3 C534.4 471.9 534.1 471.6 534.5 472.4 C534.9 473.2 534.9 473.3 535 473.7" fill="none" stroke="#111" stroke-width="2.3" stroke-linejoin="round" stroke-linecap="round"/>
<ellipse cx="530.5" cy="481.5" rx="9.2" ry="5.8" fill="#fefefe" stroke="#111" stroke-width="2.5" transform="rotate(119 530.5 481.5)"/>
<polyline points="526.2,487.5 659.4,566.5" fill="none" stroke="#111" stroke-width="3" stroke-linejoin="round" stroke-linecap="round"/>
<polyline points="532.8,473.1 666.9,553.5" fill="none" stroke="#111" stroke-width="3" stroke-linejoin="round" stroke-linecap="round"/>
<polygon points="528.8,486.2 533.5,474.8 665.6,554 660,565.2" fill="#fefefe" stroke="none"/>
<polyline points="526.2,487.5 659.4,566.5" fill="none" stroke="#111" stroke-width="3" stroke-linejoin="round" stroke-linecap="round"/>
<polyline points="532.8,473.1 666.9,553.5" fill="none" stroke="#111" stroke-width="3" stroke-linejoin="round" stroke-linecap="round"/>
<path d="M532.8 473.1 C530.8 473.8 530.1 472.3 526.9 475 C523.7 477.7 523.3 477.1 523.1 481.2 C522.9 485.4 525.2 485.4 526.2 487.5" fill="none" stroke="#111" stroke-width="2.8" stroke-linejoin="round" stroke-linecap="round"/>
<!-- 22_rightwheel_hub -->
<ellipse cx="1631.5" cy="953.8" rx="73.8" ry="48.6" fill="none" stroke="#fefefe" stroke-width="1.1" transform="rotate(119 1631.5 953.8)"/>
<ellipse cx="1631.5" cy="953.8" rx="70.6" ry="45.8" fill="#fefefe" stroke="#111" stroke-width="2.8" transform="rotate(119 1631.5 953.8)"/>
<path d="M1655.4 991.1 C1653.9 992.7 1654 992.8 1650.9 995.8 C1647.8 998.7 1649.4 997.4 1646.2 1000 C1643 1002.6 1644.6 1001.4 1641.4 1003.7 C1638.1 1005.9 1639.7 1004.9 1636.4 1006.8 C1633.1 1008.7 1634.7 1007.8 1631.4 1009.3 C1628.1 1010.8 1629.7 1010.2 1626.4 1011.2 C1623.1 1012.3 1624.7 1011.9 1621.5 1012.5 C1618.3 1013.2 1619.9 1013 1616.7 1013.2 C1613.6 1013.4 1615.1 1013.4 1612.1 1013.1 C1609.1 1012.9 1610.5 1013.1 1607.7 1012.4 C1604.9 1011.8 1606.2 1012.2 1603.6 1011.1 C1600.9 1010 1602.2 1010.6 1599.8 1009.1 C1597.3 1007.6 1598.5 1008.5 1596.3 1006.5 C1594.1 1004.6 1595.1 1005.7 1593.2 1003.4 C1591.4 1001.1 1592.2 1002.3 1590.6 999.6 C1589 997 1589.7 998.4 1588.5 995.4 C1587.2 992.4 1587.7 994 1586.8 990.7 C1585.8 987.4 1586.2 989.1 1585.6 985.6 C1585 982 1585.2 983.8 1584.9 980.1 C1584.6 976.3 1584.7 978.2 1584.8 974.3 C1584.9 970.4 1585 970.3 1585.1 968.3" fill="none" stroke="#111" stroke-width="1.3" stroke-linejoin="round" stroke-linecap="round"/>
<path d="M1666.9 900.1 C1667.9 901 1668.1 900.9 1670 902.9 C1671.9 904.9 1671.1 903.8 1672.7 906.2 C1674.4 908.5 1673.6 907.3 1675 910 C1676.4 912.7 1675.8 911.3 1676.8 914.2 C1677.9 917.2 1677.4 915.7 1678.2 918.9 C1678.9 922.2 1678.6 920.5 1679.1 924 C1679.5 927.5 1679.4 925.7 1679.4 929.3 C1679.5 933 1679.6 931.2 1679.3 935 C1679.1 938.8 1679.3 936.9 1678.7 940.8 C1678.1 944.7 1678.5 942.7 1677.6 946.7 C1676.7 950.7 1677.2 948.7 1676 952.7 C1674.8 956.7 1674.7 956.7 1674 958.7" fill="none" stroke="#111" stroke-width="1.3" stroke-linejoin="round" stroke-linecap="round"/>
<polyline points="1500,867 1557,900" fill="none" stroke="#111" stroke-width="3" stroke-linejoin="round" stroke-linecap="round"/>
<polyline points="1500,886 1548,914" fill="none" stroke="#111" stroke-width="3" stroke-linejoin="round" stroke-linecap="round"/>
<path d="M1601 943 C1602.4 941.6 1598.6 941.5 1608 936 C1617.4 930.5 1638.3 918.2 1648 915.6 C1657.7 913 1655 918.5 1656.4 923 C1657.8 927.5 1658.3 933 1655 938 C1651.7 943 1643 946 1640 948" fill="none" stroke="#111" stroke-width="2.5" stroke-linejoin="round" stroke-linecap="round"/>
<path d="M1601 943 C1601.8 946.4 1604.4 951.8 1605 960 C1605.6 968.2 1602.6 978 1604 984 C1605.4 990 1608.4 989.7 1612 990 C1615.6 990.3 1620 986.5 1622 985.6" fill="none" stroke="#111" stroke-width="2.5" stroke-linejoin="round" stroke-linecap="round"/>
<path d="M1609 948 C1610 953.3 1611.5 953.3 1612 964 C1612.5 974.7 1610.9 974.7 1610.4 980" fill="none" stroke="#111" stroke-width="1.4" stroke-linejoin="round" stroke-linecap="round"/>
<ellipse cx="1610.4" cy="944.4" rx="5.2" ry="5.2" fill="none" stroke="#111" stroke-width="2.1"/>
<ellipse cx="1610.8" cy="944.4" rx="2.3" ry="2.3" fill="none" stroke="#111" stroke-width="1.3"/>
<ellipse cx="1651" cy="925" rx="4.4" ry="4.4" fill="none" stroke="#111" stroke-width="2.1"/>
<ellipse cx="1651.4" cy="925" rx="2" ry="2" fill="none" stroke="#111" stroke-width="1.3"/>
<ellipse cx="1614" cy="982.4" rx="4.8" ry="4.8" fill="none" stroke="#111" stroke-width="2.1"/>
<ellipse cx="1614.4" cy="982.4" rx="2.2" ry="2.2" fill="none" stroke="#111" stroke-width="1.3"/>
<path d="M1622 978 C1620 973.3 1616.3 974 1616 964 C1615.7 954 1614.3 956.5 1621 948 C1627.7 939.5 1628 941.1 1636 938.4 C1644 935.7 1642 939.5 1645 940" fill="none" stroke="#111" stroke-width="2.5" stroke-linejoin="round" stroke-linecap="round"/>
<path d="M1628 976 C1626.7 972 1624 972.3 1624 964 C1624 955.7 1622.7 957.7 1628 951 C1633.3 944.3 1636 946.3 1640 944" fill="none" stroke="#111" stroke-width="1.4" stroke-linejoin="round" stroke-linecap="round"/>
<path d="M1638 978 C1636.3 974 1633 974 1633 966 C1633 958 1633.7 959.3 1638 954 C1642.3 948.7 1643.3 951.3 1646 950" fill="none" stroke="#111" stroke-width="2.5" stroke-linejoin="round" stroke-linecap="round"/>
<ellipse cx="1652" cy="936" rx="3.6" ry="2.8" fill="none" stroke="#111" stroke-width="2.1"/>
<ellipse cx="1653" cy="941" rx="3.6" ry="2.8" fill="none" stroke="#111" stroke-width="2.1"/>
<ellipse cx="1654" cy="946.4" rx="4" ry="3" fill="none" stroke="#111" stroke-width="2.1"/>
<polyline points="1640,952 1652,948 1662,954.4 1652,965 1649,980" fill="none" stroke="#111" stroke-width="2.5" stroke-linejoin="round" stroke-linecap="round"/>
<polyline points="1652,965 1640,952" fill="none" stroke="#111" stroke-width="1.4" stroke-linejoin="round" stroke-linecap="round"/>
<path d="M1664 960 C1669.1 958.1 1679.6 953.3 1686 952 C1692.4 950.7 1690.9 952.5 1691.6 954.4 C1692.3 956.3 1692.6 956.9 1689 960 C1685.4 963.1 1679 965.8 1676 967.6" fill="none" stroke="#111" stroke-width="2.5" stroke-linejoin="round" stroke-linecap="round"/>
<path d="M1644 973 C1639.1 975.3 1628.6 979.4 1623 983 C1617.4 986.6 1619.5 986.4 1620 988.4 C1620.5 990.4 1618.2 992.9 1625 991.6 C1631.8 990.3 1643.4 985 1649 983" fill="none" stroke="#111" stroke-width="2.5" stroke-linejoin="round" stroke-linecap="round"/>
<ellipse cx="1667" cy="974.4" rx="12.4" ry="14.4" fill="#fefefe" stroke="#111" stroke-width="2.5" transform="rotate(30 1667 974.4)"/>
<ellipse cx="1668.4" cy="975" rx="7.6" ry="9.2" fill="none" stroke="#111" stroke-width="2.5" transform="rotate(30 1668.4 975)"/>
<ellipse cx="1669.2" cy="975.6" rx="4" ry="5" fill="none" stroke="#111" stroke-width="1.8" transform="rotate(30 1669.2 975.6)"/>
<!-- 23_caster -->
<ellipse cx="358.4" cy="1026.5" rx="71.6" ry="49.2" fill="none" stroke="#fefefe" stroke-width="1.1" transform="rotate(119 358.4 1026.5)"/>
<ellipse cx="358.4" cy="1026.5" rx="68.6" ry="46.4" fill="#fefefe" stroke="#111" stroke-width="2.8" transform="rotate(119 358.4 1026.5)"/>
<path d="M386.8 1058.8 C385.4 1060.4 385.5 1060.6 382.6 1063.6 C379.8 1066.7 381.2 1065.3 378.2 1068 C375.2 1070.8 376.7 1069.5 373.6 1071.9 C370.4 1074.4 372 1073.3 368.8 1075.3 C365.6 1077.4 367.2 1076.5 363.9 1078.2 C360.7 1079.9 362.3 1079.2 359 1080.5 C355.7 1081.8 357.4 1081.3 354.1 1082.2 C350.9 1083.1 352.5 1082.7 349.3 1083.2 C346.1 1083.7 347.7 1083.6 344.6 1083.7 C341.5 1083.7 343 1083.8 340 1083.4 C337.1 1083.1 338.5 1083.4 335.7 1082.6 C332.9 1081.8 334.2 1082.3 331.6 1081.1 C329 1079.9 330.2 1080.6 327.9 1079 C325.5 1077.5 326.6 1078.3 324.5 1076.4 C322.3 1074.4 323.3 1075.5 321.5 1073.2 C319.6 1070.8 320.4 1072.1 318.9 1069.4 C317.3 1066.8 318 1068.1 316.7 1065.2 C315.5 1062.2 316 1063.8 315.1 1060.5 C314.1 1057.3 314.5 1058.9 313.9 1055.5 C313.3 1052 313.5 1053.8 313.2 1050.1 C312.9 1046.4 313 1048.3 313.1 1044.5 C313.1 1040.6 313.3 1040.6 313.4 1038.6" fill="none" stroke="#111" stroke-width="1.3" stroke-linejoin="round" stroke-linecap="round"/>
<path d="M350 1001 C346.3 1003 344.5 1000.7 339 1007 C333.5 1013.3 334.9 1012.7 333.6 1020 C332.3 1027.3 329.5 1023.3 335 1029 C340.5 1034.7 345 1034.3 350 1037" fill="none" stroke="#111" stroke-width="2.5" stroke-linejoin="round" stroke-linecap="round"/>
<polygon points="288,964 290,850 297,861 298,878 326,900 326,932 353,947 358,916 370,896 443,858.4 439,874 401,1027 368,1046 368,1065 350,1057 351,952 326,934 314,936 308,941 302.4,944" fill="#fefefe" stroke="#fefefe" stroke-width="0.1" stroke-linejoin="round" stroke-linecap="round"/>
<polygon points="290,850 314,840 410,840 443,858.4 370,896" fill="#fefefe"/>
<polyline points="314,840 291,849 370,895.6 443,858.4 425,846" fill="none" stroke="#111" stroke-width="2.5" stroke-linejoin="round" stroke-linecap="round"/>
<polyline points="291,849 290,861" fill="none" stroke="#111" stroke-width="2.5" stroke-linejoin="round" stroke-linecap="round"/>
<polyline points="297,861 360,898 362,914 358,915.6" fill="none" stroke="#111" stroke-width="2.5" stroke-linejoin="round" stroke-linecap="round"/>
<polyline points="297,861 298,878 356.4,915.6" fill="none" stroke="#111" stroke-width="2.5" stroke-linejoin="round" stroke-linecap="round"/>
<polyline points="290,850 288,964" fill="none" stroke="#111" stroke-width="2.5" stroke-linejoin="round" stroke-linecap="round"/>
<polyline points="303,885 302.4,944" fill="none" stroke="#111" stroke-width="2.5" stroke-linejoin="round" stroke-linecap="round"/>
<polyline points="308.4,887.6 307.4,941" fill="none" stroke="#111" stroke-width="1.4" stroke-linejoin="round" stroke-linecap="round"/>
<polyline points="314,891 314,936" fill="none" stroke="#111" stroke-width="2.5" stroke-linejoin="round" stroke-linecap="round"/>
<polyline points="327,900 326,932.4 352.4,947" fill="none" stroke="#111" stroke-width="2.5" stroke-linejoin="round" stroke-linecap="round"/>
<polyline points="327,928 352.4,915.6" fill="none" stroke="#111" stroke-width="1.4" stroke-linejoin="round" stroke-linecap="round"/>
<polyline points="356.4,916 350,1057 367.6,1065 370,896" fill="none" stroke="#111" stroke-width="2.5" stroke-linejoin="round" stroke-linecap="round"/>
<polyline points="354.4,952 354,1042" fill="none" stroke="#111" stroke-width="1.4" stroke-linejoin="round" stroke-linecap="round"/>
<polyline points="367.6,1065 368,1046" fill="none" stroke="#111" stroke-width="2.5" stroke-linejoin="round" stroke-linecap="round"/>
<polyline points="442.4,859 439,874 401,1027 368,1046" fill="none" stroke="#111" stroke-width="2.5" stroke-linejoin="round" stroke-linecap="round"/>
<polyline points="374,1047 378.4,1052.4 390,1040 389.4,1032.4" fill="none" stroke="#111" stroke-width="2.5" stroke-linejoin="round" stroke-linecap="round"/>
<polyline points="384,1042 384.4,1048" fill="none" stroke="#111" stroke-width="1.4" stroke-linejoin="round" stroke-linecap="round"/>
<path d="M321 855 C323.3 858 319.7 858 328 864 C336.3 870 332 869.3 346 873 C360 876.7 354.7 876 370 875 C385.3 874 380 875 392 870 C404 865 401.3 863.3 406 860" fill="none" stroke="#111" stroke-width="2.5" stroke-linejoin="round" stroke-linecap="round"/>
<path d="M328 860 C332.7 862.7 329.3 864.3 342 868 C354.7 871.7 350.7 871.3 366 871 C381.3 870.7 376.7 870.7 388 867 C399.3 863.3 396 862.3 400 860" fill="none" stroke="#111" stroke-width="1.4" stroke-linejoin="round" stroke-linecap="round"/>
<!-- 30_smallparts_lib -->
<!-- 31_band_lever -->
<path d="M1251 357 C1251 351.3 1249.5 347.9 1251 338 C1252.5 328.1 1250.9 331.8 1256 324 C1261.1 316.2 1259 317.4 1268 312 C1277 306.6 1273.4 308.1 1286 306 C1298.6 303.9 1296.8 303.8 1310 305 C1323.2 306.2 1319.2 305.5 1330 310 C1340.8 314.5 1341.2 317 1346 320" fill="none" stroke="#111" stroke-width="3" stroke-linejoin="round" stroke-linecap="round"/>
<polyline points="1346,320 1401.6,373" fill="none" stroke="#111" stroke-width="3" stroke-linejoin="round" stroke-linecap="round"/>
<path d="M1258.4 340 C1260.7 337 1259.5 334.5 1266 330 C1272.5 325.5 1269.2 327.1 1280 325 C1290.8 322.9 1290 322.4 1302 323 C1314 323.6 1310.1 323 1320 327 C1329.9 331 1330.5 333.6 1335 336.4" fill="none" stroke="#111" stroke-width="2.8" stroke-linejoin="round" stroke-linecap="round"/>
<polyline points="1335,336.4 1390.4,384.4" fill="none" stroke="#111" stroke-width="2.8" stroke-linejoin="round" stroke-linecap="round"/>
<polyline points="1251,357 1290,399.6" fill="none" stroke="#111" stroke-width="3" stroke-linejoin="round" stroke-linecap="round"/>
<polyline points="1258.4,340 1259,344 1299,382.4" fill="none" stroke="#111" stroke-width="2.5" stroke-linejoin="round" stroke-linecap="round"/>
<polyline points="1254.4,347 1294,389" fill="none" stroke="#111" stroke-width="1.4" stroke-linejoin="round" stroke-linecap="round"/>
<polyline points="1390.4,384.4 1396,390.4 1401.6,387.2 1401.6,373" fill="none" stroke="#111" stroke-width="2.8" stroke-linejoin="round" stroke-linecap="round"/>
<polyline points="1396,390.4 1396.4,378 1392,374" fill="none" stroke="#111" stroke-width="1.4" stroke-linejoin="round" stroke-linecap="round"/>
<ellipse cx="1304" cy="393.6" rx="7.6" ry="4.4" fill="#fefefe" stroke="#111" stroke-width="2.5"/>
<ellipse cx="1304.4" cy="393.2" rx="3.2" ry="1.8" fill="none" stroke="#111" stroke-width="1.8"/>
<polyline points="1296.4,394 1296,408" fill="none" stroke="#111" stroke-width="2.5" stroke-linejoin="round" stroke-linecap="round"/>
<polyline points="1311.6,394 1311.6,408" fill="none" stroke="#111" stroke-width="2.5" stroke-linejoin="round" stroke-linecap="round"/>
<path d="M1296 408 C1298.7 409.5 1298.8 412.4 1304 412.4 C1309.2 412.4 1309.1 409.5 1311.6 408" fill="none" stroke="#111" stroke-width="2.5" stroke-linejoin="round" stroke-linecap="round"/>
<polyline points="1290,399.6 1296.4,404" fill="none" stroke="#111" stroke-width="2.5" stroke-linejoin="round" stroke-linecap="round"/>
<polyline points="1294,380 1302,389" fill="none" stroke="#111" stroke-width="3" stroke-linejoin="round" stroke-linecap="round"/>
<ellipse cx="1402" cy="380" rx="1.4" ry="3.2" fill="#fefefe" stroke="#111" stroke-width="2.1" transform="rotate(48.4 1402 380)"/>
<polygon points="1399.6,382.1 1415.6,400.1 1420.4,395.9 1404.4,377.9" fill="#fefefe" stroke="none"/>
<polyline points="1399.6,382.1 1415.6,400.1" fill="none" stroke="#111" stroke-width="2.1" stroke-linejoin="round" stroke-linecap="round"/>
<polyline points="1404.4,377.9 1420.4,395.9" fill="none" stroke="#111" stroke-width="2.1" stroke-linejoin="round" stroke-linecap="round"/>
<ellipse cx="1418" cy="398" rx="1.4" ry="3.2" fill="#fefefe" stroke="#111" stroke-width="2.1" transform="rotate(48.4 1418 398)"/>
<path d="M1406.7 391.3Q1410.1 390.1 1411.3 386.7M1408.4 393Q1411.8 391.8 1413 388.4M1410.1 394.7Q1413.5 393.5 1414.7 390.1M1411.8 396.4Q1415.2 395.2 1416.4 391.8M1413.5 398.1Q1416.9 396.9 1418.1 393.5M1415.2 399.7Q1418.6 398.6 1419.7 395.2" fill="none" stroke="#111" stroke-width="1.5" stroke-linejoin="round" stroke-linecap="round"/>
<g transform="translate(1433 416) rotate(10)">
<path d="M-9.6 -8L0 -12.8L11.2 -8L12.8 3.2L4.8 12L-8 9.6Z" fill="#fefefe" stroke="#111" stroke-width="2.3" stroke-linejoin="round" stroke-linecap="round"/>
<ellipse cx="-3.5" cy="1.3" rx="7.4" ry="9" fill="#fefefe" stroke="#111" stroke-width="2.1" transform="rotate(-15 -3.5 1.3)"/>
<ellipse cx="-3.8" cy="1.6" rx="3.8" ry="5.1" fill="none" stroke="#111" stroke-width="1.6" transform="rotate(-15 -3.8 1.6)"/>
<path d="M2.4 -7.2L5.6 11.2" fill="none" stroke="#111" stroke-width="1.4" stroke-linejoin="round" stroke-linecap="round"/>
</g>
<polygon points="1361.1,414.8 1353.6,419.7 1363.3,434.8 1370.9,430" fill="#fefefe" stroke="#111" stroke-width="2.3" stroke-linejoin="round" stroke-linecap="round"/>
<ellipse cx="1366" cy="422.4" rx="5" ry="9" fill="#fefefe" stroke="#111" stroke-width="2.3" transform="rotate(147 1366 422.4)"/>
<polyline points="1357.3,417.3 1367.1,432.4" fill="none" stroke="#111" stroke-width="1.1" stroke-linejoin="round" stroke-linecap="round"/>
<polyline points="1355.5,422.7 1326,441.8" fill="none" stroke="#111" stroke-width="2.3" stroke-linejoin="round" stroke-linecap="round"/>
<polyline points="1361.4,431.9 1332,451" fill="none" stroke="#111" stroke-width="2.3" stroke-linejoin="round" stroke-linecap="round"/>
<ellipse cx="1329" cy="446.4" rx="2.8" ry="5.5" fill="#fefefe" stroke="#111" stroke-width="2.3" transform="rotate(147 1329 446.4)"/>
<path d="M1327.7 440.7L1332.7 450.6M1329.9 439.3L1334.8 449.2M1332 437.9L1337 447.7M1334.2 436.5L1339.2 446.3M1336.4 435L1341.4 444.9M1338.6 433.6L1343.6 443.5M1340.8 432.2L1345.8 442.1M1343 430.8L1347.9 440.7M1345.1 429.4L1350.1 439.3" fill="none" stroke="#111" stroke-width="1.5" stroke-linejoin="round" stroke-linecap="round"/>
<polyline points="1296.4,435.6 1296,452" fill="none" stroke="#111" stroke-width="2.5" stroke-linejoin="round" stroke-linecap="round"/>
<polyline points="1309.6,435.6 1309.2,452" fill="none" stroke="#111" stroke-width="2.5" stroke-linejoin="round" stroke-linecap="round"/>
<path d="M1296.4 435.6 C1297.3 434.5 1295.5 433.5 1299 432.4 C1302.5 431.3 1303.5 431.3 1307 432.4 C1310.5 433.5 1308.7 434.5 1309.6 435.6" fill="none" stroke="#111" stroke-width="2.5" stroke-linejoin="round" stroke-linecap="round"/>
<ellipse cx="1302.4" cy="456" rx="10.4" ry="5.2" fill="#fefefe" stroke="#111" stroke-width="2.5"/>
<path d="M1292 456.4 C1292.7 457.9 1290.5 458.8 1294 461 C1297.5 463.2 1296.7 463 1302.4 463 C1308.1 463 1307.5 463.2 1311 461 C1314.5 458.8 1312.2 457.9 1312.8 456.4" fill="none" stroke="#111" stroke-width="2.3" stroke-linejoin="round" stroke-linecap="round"/>
<polyline points="1295.6,470 1296.4,482" fill="none" stroke="#111" stroke-width="2.5" stroke-linejoin="round" stroke-linecap="round"/>
<polyline points="1308,470 1307.6,482" fill="none" stroke="#111" stroke-width="2.5" stroke-linejoin="round" stroke-linecap="round"/>
<path d="M1296.4 482 C1298.3 483 1298.3 485 1302 485 C1305.7 485 1305.7 483 1307.6 482" fill="none" stroke="#111" stroke-width="2.5" stroke-linejoin="round" stroke-linecap="round"/>
<polyline points="1297,478 1307,478.4" fill="none" stroke="#111" stroke-width="1.4" stroke-linejoin="round" stroke-linecap="round"/>
<g transform="translate(1272 476.4) rotate(5)">
<path d="M-9.2 -7.7L0 -12.3L10.7 -7.7L12.3 3.1L4.6 11.5L-7.7 9.2Z" fill="#fefefe" stroke="#111" stroke-width="2.3" stroke-linejoin="round" stroke-linecap="round"/>
<ellipse cx="-3.4" cy="1.2" rx="7.1" ry="8.6" fill="#fefefe" stroke="#111" stroke-width="2.1" transform="rotate(-15 -3.4 1.2)"/>
<ellipse cx="-3.7" cy="1.5" rx="3.7" ry="4.9" fill="none" stroke="#111" stroke-width="1.6" transform="rotate(-15 -3.7 1.5)"/>
<path d="M2.3 -6.9L5.4 10.7" fill="none" stroke="#111" stroke-width="1.4" stroke-linejoin="round" stroke-linecap="round"/>
</g>
<ellipse cx="1300.4" cy="498" rx="11.2" ry="6.6" fill="none" stroke="#111" stroke-width="2.3"/>
<ellipse cx="1300.4" cy="498" rx="8" ry="4.4" fill="none" stroke="#111" stroke-width="1.8"/>
<path d="M1310 453.6 C1304.7 452.4 1302 450.5 1294 450 C1286 449.5 1288.5 449.5 1286 452 C1283.5 454.5 1283.7 454.6 1286.4 457.6 C1289.1 460.6 1291.5 459.9 1294 461" fill="none" stroke="#111" stroke-width="2.5" stroke-linejoin="round" stroke-linecap="round"/>
<polyline points="1310,453.6 1405,506" fill="none" stroke="#111" stroke-width="3" stroke-linejoin="round" stroke-linecap="round"/>
<polyline points="1286.4,457.6 1387,516" fill="none" stroke="#111" stroke-width="3" stroke-linejoin="round" stroke-linecap="round"/>
<polyline points="1314,461 1390,505" fill="none" stroke="#111" stroke-width="1.4" stroke-linejoin="round" stroke-linecap="round"/>
<ellipse cx="1377.6" cy="501" rx="4" ry="2.4" fill="none" stroke="#111" stroke-width="2.1"/>
<ellipse cx="1388.4" cy="507" rx="4.4" ry="3.6" fill="none" stroke="#111" stroke-width="2.1"/>
<path d="M1389 510 C1390.6 507.1 1392.9 507.3 1398 507 C1403.1 506.7 1402.1 506.6 1408 509 C1413.9 511.4 1413.6 511.4 1420 516 C1426.4 520.6 1428.2 521.7 1432 526.4 C1435.8 531.1 1434.9 530.2 1434.4 533.6 C1433.9 537 1433.8 537.6 1430 539 C1426.2 540.4 1426.4 541.1 1420 539 C1413.6 536.9 1413.5 536.6 1406 531 C1398.5 525.4 1396.5 523.6 1392 518 C1387.5 512.4 1387.4 512.9 1389 510Z" fill="#fefefe" stroke="#111" stroke-width="2.8" stroke-linejoin="round" stroke-linecap="round"/>
<path d="M1426 528 C1425.5 530 1423.7 530.5 1424.4 534 C1425.1 537.5 1426.8 536.9 1428 538.4" fill="none" stroke="#111" stroke-width="1.4" stroke-linejoin="round" stroke-linecap="round"/>
<polyline points="1374,516 1375,524" fill="none" stroke="#111" stroke-width="2.3" stroke-linejoin="round" stroke-linecap="round"/>
<polyline points="1381,518 1380.4,525" fill="none" stroke="#111" stroke-width="2.3" stroke-linejoin="round" stroke-linecap="round"/>
<path d="M1375 524 C1375.9 524.7 1375.8 525.7 1377.6 526 C1379.4 526.3 1379.5 525.3 1380.4 525" fill="none" stroke="#111" stroke-width="2.3" stroke-linejoin="round" stroke-linecap="round"/>
<polygon points="1435.3,525.8 1468.3,508.2 1463.7,499.8 1430.7,517.4" fill="#fefefe" stroke="none"/>
<polyline points="1435.3,525.8 1468.3,508.2" fill="none" stroke="#111" stroke-width="2.3" stroke-linejoin="round" stroke-linecap="round"/>
<polyline points="1430.7,517.4 1463.7,499.8" fill="none" stroke="#111" stroke-width="2.3" stroke-linejoin="round" stroke-linecap="round"/>
<ellipse cx="1466" cy="504" rx="2.2" ry="4.8" fill="#fefefe" stroke="#111" stroke-width="2.3" transform="rotate(-28.1 1466 504)"/>
<ellipse cx="1461.6" cy="469" rx="3.1" ry="3.1" fill="none" stroke="#111" stroke-width="2"/>
<ellipse cx="1461.6" cy="469" rx="1.1" ry="1.1" fill="none" stroke="#111" stroke-width="1.1"/>
<polyline points="1460,471.6 1462.6,493.6 1463.4,493.6" fill="none" stroke="#111" stroke-width="2" stroke-linejoin="round" stroke-linecap="round"/>
<polyline points="1463.6,471.4 1464.8,490.5" fill="none" stroke="#111" stroke-width="2" stroke-linejoin="round" stroke-linecap="round"/>
<polyline points="1461.8,471.9 1462.9,489.6" fill="none" stroke="#111" stroke-width="0.9" stroke-linejoin="round" stroke-linecap="round"/>
<ellipse cx="1531" cy="469" rx="3.6" ry="8.5" fill="#fefefe" stroke="#111" stroke-width="2.1" transform="rotate(-28.4 1531 469)"/>
<ellipse cx="1525.7" cy="471.9" rx="3.6" ry="8.5" fill="#fefefe" stroke="#111" stroke-width="2.1" transform="rotate(-28.4 1525.7 471.9)"/>
<ellipse cx="1520.4" cy="474.7" rx="3.6" ry="8.5" fill="#fefefe" stroke="#111" stroke-width="2.1" transform="rotate(-28.4 1520.4 474.7)"/>
<ellipse cx="1515.1" cy="477.6" rx="3.6" ry="8.5" fill="#fefefe" stroke="#111" stroke-width="2.1" transform="rotate(-28.4 1515.1 477.6)"/>
<ellipse cx="1509.8" cy="480.4" rx="3.6" ry="8.5" fill="#fefefe" stroke="#111" stroke-width="2.1" transform="rotate(-28.4 1509.8 480.4)"/>
<ellipse cx="1504.5" cy="483.3" rx="3.6" ry="8.5" fill="#fefefe" stroke="#111" stroke-width="2.1" transform="rotate(-28.4 1504.5 483.3)"/>
<ellipse cx="1499.2" cy="486.2" rx="3.6" ry="8.5" fill="#fefefe" stroke="#111" stroke-width="2.1" transform="rotate(-28.4 1499.2 486.2)"/>
<ellipse cx="1493.9" cy="489" rx="3.6" ry="8.5" fill="#fefefe" stroke="#111" stroke-width="2.1" transform="rotate(-28.4 1493.9 489)"/>
<ellipse cx="1488.6" cy="491.9" rx="3.6" ry="8.5" fill="#fefefe" stroke="#111" stroke-width="2.1" transform="rotate(-28.4 1488.6 491.9)"/>
<ellipse cx="1483.3" cy="494.7" rx="3.6" ry="8.5" fill="#fefefe" stroke="#111" stroke-width="2.1" transform="rotate(-28.4 1483.3 494.7)"/>
<ellipse cx="1478" cy="497.6" rx="3.6" ry="8.5" fill="#fefefe" stroke="#111" stroke-width="2.1" transform="rotate(-28.4 1478 497.6)"/>
<ellipse cx="1478" cy="497.6" rx="1.7" ry="4.2" fill="none" stroke="#111" stroke-width="1.4" transform="rotate(-28.4 1478 497.6)"/>
<path d="M1392 532.4 C1388.3 531.5 1384.9 529.2 1378 529 C1371.1 528.8 1370.3 529.5 1366 531.6 C1361.7 533.7 1362 534 1362 537 C1362 540 1361.2 540.6 1366 543 C1370.8 545.4 1373.1 545.8 1380 546 C1386.9 546.2 1388.8 544.2 1392 543.6" fill="none" stroke="#111" stroke-width="2.5" stroke-linejoin="round" stroke-linecap="round"/>
<ellipse cx="1376.4" cy="537.6" rx="5.6" ry="3" fill="none" stroke="#111" stroke-width="2.1"/>
<ellipse cx="1376.8" cy="537.8" rx="2.4" ry="1.2" fill="none" stroke="#111" stroke-width="1.5"/>
<path d="M1392 560 C1388.3 559.2 1384.9 557.1 1378 557 C1371.1 556.9 1370.3 557.7 1366 559.6 C1361.7 561.5 1362 561.2 1362 564 C1362 566.8 1361.2 567.3 1366 570 C1370.8 572.7 1372.5 573.7 1380 574 C1387.5 574.3 1390.3 571.8 1394 571" fill="none" stroke="#111" stroke-width="2.5" stroke-linejoin="round" stroke-linecap="round"/>
<ellipse cx="1376.4" cy="565" rx="5.6" ry="3" fill="none" stroke="#111" stroke-width="2.1"/>
<ellipse cx="1376.8" cy="565.2" rx="2.4" ry="1.2" fill="none" stroke="#111" stroke-width="1.5"/>
<polyline points="1362.4,538 1362.4,546 1370,550" fill="none" stroke="#111" stroke-width="2.3" stroke-linejoin="round" stroke-linecap="round"/>
<path d="M1392 532.4 C1392.8 532.9 1395 533.5 1396 535 C1397 536.5 1397 533.4 1397 540 C1397 546.6 1396.6 561.8 1396 568 C1395.4 574.2 1394.4 570.4 1394 571" fill="none" stroke="#111" stroke-width="2.5" stroke-linejoin="round" stroke-linecap="round"/>
<polyline points="1392,543.6 1392.4,560" fill="none" stroke="#111" stroke-width="2.3" stroke-linejoin="round" stroke-linecap="round"/>
<polyline points="1396,536.4 1410,530" fill="none" stroke="#111" stroke-width="2.5" stroke-linejoin="round" stroke-linecap="round"/>
<polyline points="1397,546 1416,537" fill="none" stroke="#111" stroke-width="2.5" stroke-linejoin="round" stroke-linecap="round"/>
<!-- 32_plate_rod -->
<polygon points="1547.5,203.8 1551.2,201.2 1570,215.5 1571.2,198.8 1575,196.2 1685,261.2 1683.8,268.8 1679.5,477.5 1675,478 1542,398.8" fill="#fefefe" stroke="#111" stroke-width="2.9" stroke-linejoin="round" stroke-linecap="round"/>
<polyline points="1681.2,264.5 1677,475.5" fill="none" stroke="#111" stroke-width="1.6" stroke-linejoin="round" stroke-linecap="round"/>
<polyline points="1574.2,200 1681.2,264.5" fill="none" stroke="#111" stroke-width="1.6" stroke-linejoin="round" stroke-linecap="round"/>
<path d="M1560 238 C1561 229.2 1559.1 231.2 1565.5 233.8 C1571.9 236.3 1596.4 249.9 1602.5 255 C1608.6 260.1 1606 257.9 1606.2 267.5 C1606.5 277.1 1605.4 310.3 1604.5 318.8 C1603.6 327.2 1606.3 326.5 1600 323.8 C1593.7 321 1568.7 305.2 1562.5 300.5 C1556.3 295.8 1559.1 301.9 1558.8 292.5 C1558.4 283.1 1559 246.8 1560 238Z" fill="none" stroke="#111" stroke-width="2.8" stroke-linejoin="round" stroke-linecap="round"/>
<path d="M1567 238.8 C1568 246.7 1570.5 242.9 1570 262.5 C1569.5 282.1 1567 285.8 1565.5 297.5" fill="none" stroke="#111" stroke-width="1.4" stroke-linejoin="round" stroke-linecap="round"/>
<ellipse cx="1553.8" cy="220" rx="2.5" ry="4.8" fill="none" stroke="#111" stroke-width="2.3" transform="rotate(5 1553.8 220)"/>
<ellipse cx="1672" cy="288.8" rx="2.5" ry="4.8" fill="none" stroke="#111" stroke-width="2.3" transform="rotate(5 1672 288.8)"/>
<ellipse cx="1549.2" cy="385.5" rx="2.5" ry="4.8" fill="none" stroke="#111" stroke-width="2.3" transform="rotate(5 1549.2 385.5)"/>
<ellipse cx="1669.5" cy="455.5" rx="2.5" ry="4.8" fill="none" stroke="#111" stroke-width="2.3" transform="rotate(5 1669.5 455.5)"/>
<path d="M1546.2 453.8 C1547.1 450.8 1544.2 449.2 1548.8 445 C1553.3 440.8 1553.3 442.9 1560 441.2 C1566.7 439.6 1565.8 440.4 1568.8 440" fill="none" stroke="#111" stroke-width="2.5" stroke-linejoin="round" stroke-linecap="round"/>
<path d="M1546.2 453.8 C1547.5 456.7 1545.8 458.6 1550 462.5 C1554.2 466.4 1552.1 466.3 1558.8 465.5 C1565.4 464.7 1566.2 461.8 1570 460" fill="none" stroke="#111" stroke-width="2.5" stroke-linejoin="round" stroke-linecap="round"/>
<polyline points="1568.8,440 1565.5,447.5 1571.2,450 1567,455.5 1570,460" fill="none" stroke="#111" stroke-width="2.3" stroke-linejoin="round" stroke-linecap="round"/>
<ellipse cx="1554.5" cy="455" rx="4.5" ry="5.5" fill="none" stroke="#111" stroke-width="2.3" transform="rotate(-20 1554.5 455)"/>
<ellipse cx="1554.8" cy="455.2" rx="2" ry="2.5" fill="none" stroke="#111" stroke-width="1.6" transform="rotate(-20 1554.8 455.2)"/>
<polyline points="1560,447.5 1565.5,445.5" fill="none" stroke="#111" stroke-width="1.6" stroke-linejoin="round" stroke-linecap="round"/>
<ellipse cx="1583.8" cy="439.5" rx="9.5" ry="13" fill="none" stroke="#111" stroke-width="2.8" transform="rotate(-18 1583.8 439.5)"/>
<ellipse cx="1585" cy="440" rx="7.5" ry="11" fill="none" stroke="#111" stroke-width="1.6" transform="rotate(-18 1585 440)"/>
<ellipse cx="1583.2" cy="440" rx="3.2" ry="4.8" fill="none" stroke="#111" stroke-width="2.3" transform="rotate(-18 1583.2 440)"/>
<ellipse cx="1693.8" cy="442" rx="7.8" ry="10.2" fill="none" stroke="#111" stroke-width="2.8" transform="rotate(-18 1693.8 442)"/>
<ellipse cx="1693.2" cy="442.5" rx="3.5" ry="5" fill="none" stroke="#111" stroke-width="2.3" transform="rotate(-18 1693.2 442.5)"/>
<ellipse cx="1694.8" cy="442.5" rx="6" ry="8.2" fill="none" stroke="#111" stroke-width="1.4" transform="rotate(-18 1694.8 442.5)"/>
<ellipse cx="1707.5" cy="435" rx="5.2" ry="7.5" fill="none" stroke="#111" stroke-width="2.5" transform="rotate(-18 1707.5 435)"/>
<g transform="translate(1721 428) rotate(0)">
<path d="M-6.8 -5.7L0 -9.1L7.9 -5.7L9.1 2.3L3.4 8.5L-5.7 6.8Z" fill="#fefefe" stroke="#111" stroke-width="2.3" stroke-linejoin="round" stroke-linecap="round"/>
<ellipse cx="-2.5" cy="0.9" rx="5.2" ry="6.3" fill="#fefefe" stroke="#111" stroke-width="2.1" transform="rotate(-15 -2.5 0.9)"/>
<ellipse cx="-2.7" cy="1.1" rx="2.7" ry="3.6" fill="none" stroke="#111" stroke-width="1.6" transform="rotate(-15 -2.7 1.1)"/>
<path d="M1.7 -5.1L4 7.9" fill="none" stroke="#111" stroke-width="1.4" stroke-linejoin="round" stroke-linecap="round"/>
</g>
<ellipse cx="1410" cy="624" rx="1.8" ry="4.4" fill="#fefefe" stroke="#111" stroke-width="2.8" transform="rotate(29.7 1410 624)"/>
<polygon points="1407.8,627.8 1662.8,773.4 1667.2,765.8 1412.2,620.2" fill="#fefefe" stroke="none"/>
<polyline points="1407.8,627.8 1662.8,773.4" fill="none" stroke="#111" stroke-width="2.8" stroke-linejoin="round" stroke-linecap="round"/>
<polyline points="1412.2,620.2 1667.2,765.8" fill="none" stroke="#111" stroke-width="2.8" stroke-linejoin="round" stroke-linecap="round"/>
<path d="M1410.2 629.4Q1413.8 626.4 1414.6 621.8M1412.6 630.8Q1416.1 627.7 1416.9 623.1M1414.9 632.1Q1418.5 629.1 1419.3 624.4M1417.3 633.4Q1420.8 630.4 1421.6 625.8M1419.6 634.8Q1423.2 631.7 1424 627.1M1422 636.1Q1425.5 633 1426.3 628.4M1424.3 637.4Q1427.9 634.4 1428.7 629.8M1426.7 638.7Q1430.2 635.7 1431 631.1M1429 640.1Q1432.6 637 1433.4 632.4M1431.4 641.4Q1434.9 638.4 1435.7 633.8M1433.7 642.7Q1437.3 639.7 1438.1 635.1M1436.1 644.1Q1439.6 641 1440.4 636.4M1438.4 645.4Q1442 642.4 1442.8 637.7M1440.8 646.7Q1444.3 643.7 1445.1 639.1M1443.1 648.1Q1446.7 645 1447.5 640.4M1445.5 649.4Q1449 646.4 1449.8 641.7M1447.8 650.7Q1451.4 647.7 1452.2 643.1M1450.2 652.1Q1453.7 649 1454.5 644.4M1452.5 653.4Q1456.1 650.3 1456.9 645.7M1454.9 654.7Q1458.4 651.7 1459.2 647.1M1457.2 656Q1460.8 653 1461.6 648.4M1459.6 657.4Q1463.1 654.3 1463.9 649.7M1461.9 658.7Q1465.5 655.7 1466.3 651.1M1464.3 660Q1467.8 657 1468.6 652.4M1466.6 661.4Q1470.2 658.3 1470.9 653.7M1469 662.7Q1472.5 659.7 1473.3 655M1471.3 664Q1474.9 661 1475.6 656.4M1473.7 665.4Q1477.2 662.3 1478 657.7M1476 666.7Q1479.6 663.7 1480.3 659M1478.4 668Q1481.9 665 1482.7 660.4M1480.7 669.4Q1484.3 666.3 1485 661.7" fill="none" stroke="#111" stroke-width="1.7" stroke-linejoin="round" stroke-linecap="round"/>
<path d="M1658 775.6 C1660.3 776.7 1660 778.9 1665 779 C1670 779.1 1669.3 780 1673 776 C1676.7 772 1675 770 1676 767" fill="none" stroke="#111" stroke-width="2.8" stroke-linejoin="round" stroke-linecap="round"/>
<polyline points="1620,757 1621,768" fill="none" stroke="#111" stroke-width="2.3" stroke-linejoin="round" stroke-linecap="round"/>
<polyline points="1634,763 1633.6,770" fill="none" stroke="#111" stroke-width="2.3" stroke-linejoin="round" stroke-linecap="round"/>
<path d="M1621 768 C1623 769.2 1622.8 770.9 1627 771.6 C1631.2 772.3 1631.4 770.5 1633.6 770" fill="none" stroke="#111" stroke-width="2.3" stroke-linejoin="round" stroke-linecap="round"/>
<path d="M1660 760 C1659.5 756.8 1659.1 755.5 1658 748 C1656.9 740.5 1656 739.5 1656 732 C1656 724.5 1656.4 724.5 1658 720 C1659.6 715.5 1659.3 716.7 1662 715 C1664.7 713.3 1664.8 713.3 1668 713.6 C1671.2 713.9 1671.4 712.7 1674 716 C1676.6 719.3 1676.6 720.7 1677.6 726 C1678.6 731.3 1678.3 729.9 1677.6 736 C1676.9 742.1 1676.1 742.7 1675 749 C1673.9 755.3 1674 756.8 1673.6 759.6" fill="#fefefe" stroke="#111" stroke-width="2.8" stroke-linejoin="round" stroke-linecap="round"/>
<ellipse cx="1667" cy="718" rx="4.4" ry="2.2" fill="none" stroke="#111" stroke-width="2.1"/>
<ellipse cx="1667.4" cy="718" rx="2" ry="1" fill="#111" stroke="#111" stroke-width="1.7"/>
<path d="M1660 759.6 C1662.3 760.5 1662.5 762.4 1667 762.4 C1671.5 762.4 1671.4 760.5 1673.6 759.6" fill="none" stroke="#111" stroke-width="2.3" stroke-linejoin="round" stroke-linecap="round"/>
<path d="M1659.6 763.6 C1662.1 764.7 1662.1 767 1667 767 C1671.9 767 1671.9 764.7 1674.4 763.6" fill="none" stroke="#111" stroke-width="2.3" stroke-linejoin="round" stroke-linecap="round"/>
<polyline points="1659.6,759.6 1659.6,764" fill="none" stroke="#111" stroke-width="2.3" stroke-linejoin="round" stroke-linecap="round"/>
<polyline points="1674.4,759.6 1675,766" fill="none" stroke="#111" stroke-width="2.3" stroke-linejoin="round" stroke-linecap="round"/>
<polygon points="1409.7,650.8 1401.9,655.2 1411.3,671.7 1419.1,667.2" fill="#fefefe" stroke="#111" stroke-width="2.3" stroke-linejoin="round" stroke-linecap="round"/>
<ellipse cx="1414.4" cy="659" rx="5.2" ry="9.5" fill="#fefefe" stroke="#111" stroke-width="2.3" transform="rotate(150.1 1414.4 659)"/>
<polyline points="1405.8,653 1415.2,669.5" fill="none" stroke="#111" stroke-width="1.1" stroke-linejoin="round" stroke-linecap="round"/>
<polyline points="1403.8,658.6 1368.8,678.7" fill="none" stroke="#111" stroke-width="2.3" stroke-linejoin="round" stroke-linecap="round"/>
<polyline points="1409.4,668.3 1374.4,688.5" fill="none" stroke="#111" stroke-width="2.3" stroke-linejoin="round" stroke-linecap="round"/>
<ellipse cx="1371.6" cy="683.6" rx="2.8" ry="5.6" fill="#fefefe" stroke="#111" stroke-width="2.3" transform="rotate(150.1 1371.6 683.6)"/>
<path d="M1370.5 677.7L1375.1 688.1M1372.8 676.5L1377.3 686.8M1375.1 675.2L1379.6 685.5M1377.3 673.9L1381.8 684.2M1379.6 672.6L1384.1 682.9M1381.8 671.3L1386.4 681.6M1384.1 670L1388.6 680.3M1386.3 668.7L1390.9 679" fill="none" stroke="#111" stroke-width="1.5" stroke-linejoin="round" stroke-linecap="round"/>
<ellipse cx="1377.6" cy="584.8" rx="11" ry="6.2" fill="#fefefe" stroke="#111" stroke-width="2.1"/>
<ellipse cx="1377.6" cy="582.6" rx="11" ry="6.2" fill="#fefefe" stroke="#111" stroke-width="2.3"/>
<ellipse cx="1377.6" cy="582.6" rx="4.6" ry="2.6" fill="none" stroke="#111" stroke-width="1.8"/>
<ellipse cx="1405.6" cy="607" rx="3.2" ry="3.2" fill="none" stroke="#111" stroke-width="2"/>
<ellipse cx="1405.6" cy="607" rx="1.1" ry="1.1" fill="none" stroke="#111" stroke-width="1.1"/>
<polyline points="1404.2,604 1384.7,594.5 1384.3,595.2" fill="none" stroke="#111" stroke-width="2" stroke-linejoin="round" stroke-linecap="round"/>
<polyline points="1402.3,607.3 1386.1,598.1" fill="none" stroke="#111" stroke-width="2" stroke-linejoin="round" stroke-linecap="round"/>
<polyline points="1403,605.5 1387.9,597" fill="none" stroke="#111" stroke-width="0.9" stroke-linejoin="round" stroke-linecap="round"/>
<!-- 33_steering -->
<ellipse cx="811.2" cy="263.8" rx="75" ry="44" fill="none" stroke="#111" stroke-width="3.4" transform="rotate(3 811.2 263.8)"/>
<ellipse cx="810.8" cy="263" rx="63.8" ry="35.5" fill="none" stroke="#111" stroke-width="2.5" transform="rotate(3 810.8 263)"/>
<path d="M743.8 280 C750.1 285.6 745.1 290.6 765 298.8 C784.9 306.9 783 306.6 810 307 C837 307.4 834 308.1 855 300 C876 291.9 872.5 286 880 280" fill="none" stroke="#111" stroke-width="1.6" stroke-linejoin="round" stroke-linecap="round"/>
<ellipse cx="809.2" cy="272.5" rx="15.5" ry="9" fill="none" stroke="#111" stroke-width="2.8"/>
<ellipse cx="809.5" cy="272.5" rx="8.5" ry="4.5" fill="none" stroke="#111" stroke-width="2.1"/>
<polyline points="803.8,233 804.5,263.8" fill="none" stroke="#111" stroke-width="2.5" stroke-linejoin="round" stroke-linecap="round"/>
<polyline points="817,233 815.5,264.5" fill="none" stroke="#111" stroke-width="2.5" stroke-linejoin="round" stroke-linecap="round"/>
<polyline points="794.5,273 762.5,287" fill="none" stroke="#111" stroke-width="2.5" stroke-linejoin="round" stroke-linecap="round"/>
<polyline points="800,280 768.8,290" fill="none" stroke="#111" stroke-width="2.5" stroke-linejoin="round" stroke-linecap="round"/>
<polyline points="823.8,270 860,284.5" fill="none" stroke="#111" stroke-width="2.5" stroke-linejoin="round" stroke-linecap="round"/>
<polyline points="820,278.8 850,291.2" fill="none" stroke="#111" stroke-width="2.5" stroke-linejoin="round" stroke-linecap="round"/>
<path d="M768.8 288 C775 289.9 773.8 291.2 787.5 293.8 C801.2 296.2 795 295.8 810 295.5 C825 295.2 820 295 832.5 293 C845 291 842.5 290.7 847.5 289.5" fill="none" stroke="#111" stroke-width="2.3" stroke-linejoin="round" stroke-linecap="round"/>
<path d="M775 290.5 C781.7 288.7 779.2 286.8 795 285 C810.8 283.2 806.7 283.2 822.5 285 C838.3 286.8 835.8 288.7 842.5 290.5" fill="none" stroke="#111" stroke-width="1.8" stroke-linejoin="round" stroke-linecap="round"/>
<polyline points="796.2,285 796.2,293.8" fill="none" stroke="#111" stroke-width="2.3" stroke-linejoin="round" stroke-linecap="round"/>
<polyline points="822.5,285 822.5,293.8" fill="none" stroke="#111" stroke-width="2.3" stroke-linejoin="round" stroke-linecap="round"/>
<g transform="translate(773.2 255) rotate(0)">
<path d="M-7.5 -1L-4 -6L4 -6.3L7.8 -1.5L7.8 4L4 7.5Z" fill="#fefefe" stroke="#111" stroke-width="2.3" stroke-linejoin="round" stroke-linecap="round"/>
<path d="M-7.5 -1L-7.5 4.5L-3.5 8L4 7.5Z" fill="#fefefe" stroke="#111" stroke-width="2.3" stroke-linejoin="round" stroke-linecap="round"/>
<path d="M-7.5 -1L-3.5 2.5L7.8 -1.5" fill="none" stroke="#111" stroke-width="1.8" stroke-linejoin="round" stroke-linecap="round"/>
<path d="M-3.5 2.5L-3.5 8" fill="none" stroke="#111" stroke-width="1.8" stroke-linejoin="round" stroke-linecap="round"/>
<ellipse cx="0.3" cy="-2.2" rx="4.3" ry="2.6" fill="none" stroke="#111" stroke-width="1.8"/>
<ellipse cx="0.3" cy="-2" rx="2.4" ry="1.3" fill="none" stroke="#111" stroke-width="1.4"/>
<path d="M7.8 -1.5L7.8 4L5.5 6Z" fill="#111" stroke="#111" stroke-width="1.1" stroke-linejoin="round" stroke-linecap="round"/>
</g>
<polyline points="867.5,298.8 873.8,303.8 782.5,346.2 772.5,340" fill="none" stroke="#111" stroke-width="2.8" stroke-linejoin="round" stroke-linecap="round"/>
<polyline points="752.5,328.8 757.5,331.2" fill="none" stroke="#111" stroke-width="2.5" stroke-linejoin="round" stroke-linecap="round"/>
<path d="M877.5 311.2 C878.2 309.1 877 306.5 880 303 C883 299.5 884.4 298.4 888.8 298 C893.1 297.6 893.6 298.2 896.2 301.5 C898.9 304.8 898.1 308.1 898.8 310.5" fill="none" stroke="#111" stroke-width="2.5" stroke-linejoin="round" stroke-linecap="round"/>
<polyline points="898.8,310.5 897.5,320.5 890.5,323 889,318 884,320.5 885,328 880,330.5 877.5,325.5 877.5,311.2" fill="none" stroke="#111" stroke-width="2.5" stroke-linejoin="round" stroke-linecap="round"/>
<ellipse cx="888" cy="310" rx="4" ry="4.8" fill="none" stroke="#111" stroke-width="2.1"/>
<path d="M882.5 306.2 C883.8 305 882.8 303.6 886.2 302.5 C889.8 301.4 890.8 302.8 893 303" fill="none" stroke="#111" stroke-width="1.4" stroke-linejoin="round" stroke-linecap="round"/>
<polygon points="881.2,348 895,334.2 903,340 904,355.5 886.5,365.5 880,360.5" fill="none" stroke="#111" stroke-width="2.5" stroke-linejoin="round" stroke-linecap="round"/>
<polyline points="895,334.2 893.8,330 897.5,330.5 903,340" fill="none" stroke="#111" stroke-width="2.3" stroke-linejoin="round" stroke-linecap="round"/>
<ellipse cx="891.2" cy="350.5" rx="3.8" ry="4.2" fill="none" stroke="#111" stroke-width="2.1"/>
<ellipse cx="891.5" cy="350.8" rx="1.5" ry="1.8" fill="none" stroke="#111" stroke-width="1.4"/>
<polyline points="881.2,348 886.5,353 886.5,365.5" fill="none" stroke="#111" stroke-width="1.4" stroke-linejoin="round" stroke-linecap="round"/>
<polyline points="886.5,353 903.5,343.8" fill="none" stroke="#111" stroke-width="1.4" stroke-linejoin="round" stroke-linecap="round"/>
<polygon points="904.5,342.8 923.5,333.8 920.5,327.2 901.5,336.2" fill="#fefefe" stroke="none"/>
<polyline points="904.5,342.8 923.5,333.8" fill="none" stroke="#111" stroke-width="2.3" stroke-linejoin="round" stroke-linecap="round"/>
<polyline points="901.5,336.2 920.5,327.2" fill="none" stroke="#111" stroke-width="2.3" stroke-linejoin="round" stroke-linecap="round"/>
<ellipse cx="922" cy="330.5" rx="1.6" ry="3.6" fill="#fefefe" stroke="#111" stroke-width="2.3" transform="rotate(-25.3 922 330.5)"/>
<path d="M910.3 340.2Q910.2 336.3 907.2 333.8M912.6 339.1Q912.4 335.2 909.4 332.7M914.8 338Q914.7 334.1 911.7 331.6M917.1 336.9Q916.9 333 913.9 330.5M919.3 335.8Q919.2 331.9 916.1 329.4M921.6 334.7Q921.4 330.8 918.4 328.3" fill="none" stroke="#111" stroke-width="1.5" stroke-linejoin="round" stroke-linecap="round"/>
<g transform="translate(939.2 321.2) rotate(0)">
<path d="M-8.4 -7L0 -11.2L9.8 -7L11.2 2.8L4.2 10.5L-7 8.4Z" fill="#fefefe" stroke="#111" stroke-width="2.3" stroke-linejoin="round" stroke-linecap="round"/>
<ellipse cx="-3.1" cy="1.1" rx="6.4" ry="7.8" fill="#fefefe" stroke="#111" stroke-width="2.1" transform="rotate(-15 -3.1 1.1)"/>
<ellipse cx="-3.4" cy="1.4" rx="3.4" ry="4.5" fill="none" stroke="#111" stroke-width="1.6" transform="rotate(-15 -3.4 1.4)"/>
<path d="M2.1 -6.3L4.9 9.8" fill="none" stroke="#111" stroke-width="1.4" stroke-linejoin="round" stroke-linecap="round"/>
</g>
<ellipse cx="663.8" cy="276.2" rx="4.9" ry="8.2" fill="#fefefe" stroke="#111" stroke-width="2.5" transform="rotate(25.5 663.8 276.2)"/>
<polygon points="660.2,283.7 686.5,296.2 693.5,281.3 667.3,268.8" fill="#fefefe" stroke="none"/>
<polyline points="660.2,283.7 686.5,296.2" fill="none" stroke="#111" stroke-width="2.5" stroke-linejoin="round" stroke-linecap="round"/>
<polyline points="667.3,268.8 693.5,281.3" fill="none" stroke="#111" stroke-width="2.5" stroke-linejoin="round" stroke-linecap="round"/>
<ellipse cx="690" cy="288.8" rx="4.9" ry="8.2" fill="#fefefe" stroke="#111" stroke-width="2.5" transform="rotate(25.5 690 288.8)"/>
<ellipse cx="690.5" cy="289" rx="3.2" ry="4.8" fill="none" stroke="#111" stroke-width="1.8" transform="rotate(25 690.5 289)"/>
<polyline points="666.2,291.2 665,350 678.8,358.8 682.5,355 683.8,325 692.5,298" fill="none" stroke="#111" stroke-width="2.5" stroke-linejoin="round" stroke-linecap="round"/>
<polyline points="678.8,358.8 679.5,325 687.5,302.5" fill="none" stroke="#111" stroke-width="1.4" stroke-linejoin="round" stroke-linecap="round"/>
<rect x="666.2" y="307" width="15" height="6" rx="3" fill="none" stroke="#111" stroke-width="1.6" transform="rotate(88 673.8 310)"/>
<polyline points="673.6,306 673.9,315" fill="none" stroke="#111" stroke-width="1.1" stroke-linejoin="round" stroke-linecap="round"/>
<rect x="665" y="340.8" width="15" height="6" rx="3" fill="none" stroke="#111" stroke-width="1.6" transform="rotate(88 672.5 343.8)"/>
<polyline points="672.3,339.7 672.7,348.7" fill="none" stroke="#111" stroke-width="1.1" stroke-linejoin="round" stroke-linecap="round"/>
<path d="M633.8 305.5 L636.2 302.5" fill="none" stroke="#111" stroke-width="2.5" stroke-linejoin="round" stroke-linecap="round"/>
<polyline points="636.2,302.5 652.5,310.5 655,315.5 653.8,380" fill="none" stroke="#111" stroke-width="2.5" stroke-linejoin="round" stroke-linecap="round"/>
<path d="M653.8 380 C650 385.4 648.1 386.2 642.5 396.2 C636.9 406.2 639.1 400.4 637 410 C634.9 419.6 636.5 420 636.2 425" fill="none" stroke="#111" stroke-width="2.5" stroke-linejoin="round" stroke-linecap="round"/>
<polyline points="636.2,425 630,428.8 616.2,421.2 615,410" fill="none" stroke="#111" stroke-width="2.5" stroke-linejoin="round" stroke-linecap="round"/>
<path d="M615 410 C616.5 403.8 614.1 402.5 619.5 391.2 C624.9 380 626.1 385 631.2 376.2 C636.4 367.5 633.8 368.8 635 365" fill="none" stroke="#111" stroke-width="2.5" stroke-linejoin="round" stroke-linecap="round"/>
<polyline points="635,365 633.8,305.5" fill="none" stroke="#111" stroke-width="2.5" stroke-linejoin="round" stroke-linecap="round"/>
<polyline points="633.8,305.5 650,313.8 653.8,315" fill="none" stroke="#111" stroke-width="1.4" stroke-linejoin="round" stroke-linecap="round"/>
<path d="M650 313.8 C649.8 335 653.2 350.8 649.5 377.5 C645.8 404.2 644.4 382.5 638.8 393.8 C633.1 405 635.2 399.8 632.5 411.2 C629.8 422.7 631.2 422.4 630.5 428" fill="none" stroke="#111" stroke-width="1.4" stroke-linejoin="round" stroke-linecap="round"/>
<ellipse cx="643" cy="325" rx="3" ry="3.8" fill="none" stroke="#111" stroke-width="2.1"/>
<ellipse cx="642" cy="362.5" rx="3" ry="3.8" fill="none" stroke="#111" stroke-width="2.1"/>
<rect x="588.8" y="340" width="17.5" height="56.2" rx="8.8" fill="none" stroke="#111" stroke-width="2.2" transform="rotate(-3 597.5 367.5)"/>
<ellipse cx="597" cy="350.5" rx="4" ry="4.8" fill="none" stroke="#111" stroke-width="2.1"/>
<ellipse cx="596.2" cy="385" rx="4" ry="4.8" fill="none" stroke="#111" stroke-width="2.1"/>
<ellipse cx="597.2" cy="350.8" rx="1.8" ry="2.2" fill="none" stroke="#111" stroke-width="1.4"/>
<ellipse cx="596.5" cy="385.2" rx="1.8" ry="2.2" fill="none" stroke="#111" stroke-width="1.4"/>
<path d="M603 347.5 C603.8 354.2 605.2 354.2 605.5 367.5 C605.8 380.8 604.3 380.8 603.8 387.5" fill="none" stroke="#111" stroke-width="1.4" stroke-linejoin="round" stroke-linecap="round"/>
<polygon points="556,378.4 562.2,375.2 556.8,364.5 550.5,367.6" fill="#fefefe" stroke="#111" stroke-width="2.3" stroke-linejoin="round" stroke-linecap="round"/>
<ellipse cx="553.2" cy="373" rx="3.3" ry="6" fill="#fefefe" stroke="#111" stroke-width="2.3" transform="rotate(-26.8 553.2 373)"/>
<polyline points="559.1,376.8 553.7,366.1" fill="none" stroke="#111" stroke-width="1.1" stroke-linejoin="round" stroke-linecap="round"/>
<polyline points="561,372.9 584.5,361" fill="none" stroke="#111" stroke-width="2.3" stroke-linejoin="round" stroke-linecap="round"/>
<polyline points="558,366.8 581.5,355" fill="none" stroke="#111" stroke-width="2.3" stroke-linejoin="round" stroke-linecap="round"/>
<ellipse cx="583" cy="358" rx="1.7" ry="3.4" fill="#fefefe" stroke="#111" stroke-width="2.3" transform="rotate(-26.8 583 358)"/>
<path d="M582.7 361.9L580.8 355.3M580.4 363.1L578.4 356.5M578.1 364.3L576.1 357.7M575.8 365.4L573.8 358.8M573.5 366.6L571.5 360" fill="none" stroke="#111" stroke-width="1.5" stroke-linejoin="round" stroke-linecap="round"/>
<polyline points="698.8,270 703.8,267.5 713.8,275.5 715,325 718,336.2" fill="none" stroke="#111" stroke-width="2.5" stroke-linejoin="round" stroke-linecap="round"/>
<polyline points="698.8,270 698,336.2 716.2,348 720,347.5" fill="none" stroke="#111" stroke-width="2.5" stroke-linejoin="round" stroke-linecap="round"/>
<polyline points="703.8,267.5 704.5,275" fill="none" stroke="#111" stroke-width="1.4" stroke-linejoin="round" stroke-linecap="round"/>
<ellipse cx="708" cy="290" rx="3.5" ry="4.5" fill="none" stroke="#111" stroke-width="2.1"/>
<ellipse cx="707" cy="328" rx="3.5" ry="4.5" fill="none" stroke="#111" stroke-width="2.1"/>
<rect x="722" y="266.2" width="15.5" height="57.5" rx="7.8" fill="#fefefe" stroke="#111" stroke-width="2.2" transform="rotate(-4 729.5 295)"/>
<ellipse cx="729" cy="280" rx="3.2" ry="4" fill="none" stroke="#111" stroke-width="2.1"/>
<ellipse cx="728" cy="315" rx="3.2" ry="4" fill="none" stroke="#111" stroke-width="2.1"/>
<path d="M735.5 270 C736.3 278.3 737.8 278.3 738 295 C738.2 311.7 736.8 311.7 736.2 320" fill="none" stroke="#111" stroke-width="1.4" stroke-linejoin="round" stroke-linecap="round"/>
<path d="M718 336.2 C720.4 336.6 725.9 336 730 338 C734.1 340 736.6 341.9 738.8 346.2 C740.9 350.6 740.2 355.2 740.5 360 C740.8 364.8 741.1 367.2 740 370 C738.9 372.8 737 373.6 735 373.8 C733 373.9 731.2 373.8 730 370.5 C728.8 367.2 730.2 361.6 728.8 357.5 C727.2 353.4 723.8 351.5 722.5 350" fill="none" stroke="#111" stroke-width="2.5" stroke-linejoin="round" stroke-linecap="round"/>
<ellipse cx="725.8" cy="363" rx="5" ry="4.5" fill="#fefefe" stroke="#111" stroke-width="2.3"/>
<polyline points="721.2,362.5 721.2,365.5" fill="none" stroke="#111" stroke-width="1.8" stroke-linejoin="round" stroke-linecap="round"/>
<path d="M733.8 347.5 C734.6 351.7 735.7 352.1 736.2 360 C736.8 367.9 735.8 367.5 735.5 371.2" fill="none" stroke="#111" stroke-width="1.4" stroke-linejoin="round" stroke-linecap="round"/>
<ellipse cx="742" cy="323" rx="2.8" ry="4.6" fill="#fefefe" stroke="#111" stroke-width="2.5" transform="rotate(-26.6 742 323)"/>
<polygon points="744.1,327.1 767.6,315.4 763.4,307.1 739.9,318.9" fill="#fefefe" stroke="none"/>
<polyline points="744.1,327.1 767.6,315.4" fill="none" stroke="#111" stroke-width="2.5" stroke-linejoin="round" stroke-linecap="round"/>
<polyline points="739.9,318.9 763.4,307.1" fill="none" stroke="#111" stroke-width="2.5" stroke-linejoin="round" stroke-linecap="round"/>
<ellipse cx="765.5" cy="311.2" rx="2.8" ry="4.6" fill="#fefefe" stroke="#111" stroke-width="2.5" transform="rotate(-26.6 765.5 311.2)"/>
<ellipse cx="764" cy="350" rx="3.1" ry="3.1" fill="none" stroke="#111" stroke-width="2"/>
<ellipse cx="764" cy="350" rx="1.1" ry="1.1" fill="none" stroke="#111" stroke-width="1.1"/>
<polyline points="765.9,347.5 765.1,325 764.3,325" fill="none" stroke="#111" stroke-width="2" stroke-linejoin="round" stroke-linecap="round"/>
<polyline points="762.3,347.4 762.6,328" fill="none" stroke="#111" stroke-width="2" stroke-linejoin="round" stroke-linecap="round"/>
<polyline points="764.1,347.1 764.4,329" fill="none" stroke="#111" stroke-width="0.9" stroke-linejoin="round" stroke-linecap="round"/>
<polyline points="761.8,347.5 761.8,330" fill="none" stroke="#111" stroke-width="1.6" stroke-linejoin="round" stroke-linecap="round"/>
<polyline points="766.5,347.5 766.5,330" fill="none" stroke="#111" stroke-width="1.6" stroke-linejoin="round" stroke-linecap="round"/>
<!-- 34_topparts -->
<ellipse cx="994" cy="237" rx="10" ry="14.4" fill="#fefefe" stroke="#111" stroke-width="3" transform="rotate(28 994 237)"/>
<ellipse cx="993" cy="237.6" rx="8.4" ry="12.4" fill="none" stroke="#111" stroke-width="1.5" transform="rotate(28 993 237.6)"/>
<ellipse cx="994" cy="237.4" rx="4.4" ry="7.2" fill="none" stroke="#111" stroke-width="2.5" transform="rotate(28 994 237.4)"/>
<ellipse cx="1014.4" cy="203.6" rx="2.9" ry="2.9" fill="none" stroke="#111" stroke-width="2"/>
<ellipse cx="1014.4" cy="203.6" rx="1" ry="1" fill="none" stroke="#111" stroke-width="1.1"/>
<polyline points="1012.8,206 1014.6,226.4 1015.4,226.4" fill="none" stroke="#111" stroke-width="2" stroke-linejoin="round" stroke-linecap="round"/>
<polyline points="1016.2,205.9 1016.8,223.3" fill="none" stroke="#111" stroke-width="2" stroke-linejoin="round" stroke-linecap="round"/>
<polyline points="1014.5,206.3 1015.1,222.4" fill="none" stroke="#111" stroke-width="0.9" stroke-linejoin="round" stroke-linecap="round"/>
<ellipse cx="1010.4" cy="243.6" rx="4.5" ry="8.2" fill="#fefefe" stroke="#111" stroke-width="2.8" transform="rotate(33 1010.4 243.6)"/>
<polygon points="1005.9,250.5 1037.9,271.3 1046.9,257.5 1014.9,236.7" fill="#fefefe" stroke="none"/>
<polyline points="1005.9,250.5 1037.9,271.3" fill="none" stroke="#111" stroke-width="2.8" stroke-linejoin="round" stroke-linecap="round"/>
<polyline points="1014.9,236.7 1046.9,257.5" fill="none" stroke="#111" stroke-width="2.8" stroke-linejoin="round" stroke-linecap="round"/>
<ellipse cx="1042.4" cy="264.4" rx="4.5" ry="8.2" fill="#fefefe" stroke="#111" stroke-width="2.8" transform="rotate(33 1042.4 264.4)"/>
<polyline points="1013,245 1014,249" fill="none" stroke="#111" stroke-width="1.8" stroke-linejoin="round" stroke-linecap="round"/>
<polyline points="1028,253 1029,257" fill="none" stroke="#111" stroke-width="1.8" stroke-linejoin="round" stroke-linecap="round"/>
<polyline points="1040,260 1041,264" fill="none" stroke="#111" stroke-width="1.8" stroke-linejoin="round" stroke-linecap="round"/>
<polygon points="1056.8,285.9 1055.8,347.5 1068.2,347.7 1069.2,286.1" fill="#fefefe" stroke="none"/>
<polyline points="1056.8,285.9 1055.8,347.5" fill="none" stroke="#111" stroke-width="2.5" stroke-linejoin="round" stroke-linecap="round"/>
<polyline points="1069.2,286.1 1068.2,347.7" fill="none" stroke="#111" stroke-width="2.5" stroke-linejoin="round" stroke-linecap="round"/>
<ellipse cx="1062" cy="347.6" rx="2.2" ry="6.2" fill="#fefefe" stroke="#111" stroke-width="2.5" transform="rotate(90.9 1062 347.6)"/>
<path d="M1056.4 308.9Q1062.6 310.3 1068.8 309.1M1056.4 312.1Q1062.5 313.5 1068.7 312.3M1056.3 315.3Q1062.5 316.7 1068.7 315.5M1056.2 318.5Q1062.4 319.9 1068.6 318.7M1056.2 321.7Q1062.4 323.1 1068.6 321.9M1056.1 324.9Q1062.3 326.3 1068.5 325.1M1056.1 328.1Q1062.3 329.5 1068.5 328.3M1056 331.3Q1062.2 332.7 1068.4 331.5M1056 334.5Q1062.2 335.9 1068.4 334.7M1055.9 337.7Q1062.1 339.1 1068.3 337.9M1055.9 340.9Q1062.1 342.3 1068.3 341.1M1055.8 344.1Q1062 345.5 1068.2 344.3" fill="none" stroke="#111" stroke-width="1.6" stroke-linejoin="round" stroke-linecap="round"/>
<ellipse cx="1063" cy="277" rx="12" ry="14.8" fill="#fefefe" stroke="#111" stroke-width="3" transform="rotate(25 1063 277)"/>
<ellipse cx="1061.6" cy="277.6" rx="10" ry="12.8" fill="none" stroke="#111" stroke-width="1.5" transform="rotate(25 1061.6 277.6)"/>
<ellipse cx="1064.4" cy="277.6" rx="6" ry="8.4" fill="none" stroke="#111" stroke-width="2.5" transform="rotate(25 1064.4 277.6)"/>
<ellipse cx="1061" cy="418.6" rx="13" ry="7" fill="#fefefe" stroke="#111" stroke-width="2.1"/>
<ellipse cx="1061" cy="416" rx="13" ry="7" fill="#fefefe" stroke="#111" stroke-width="2.3"/>
<ellipse cx="1061" cy="416" rx="5.5" ry="2.9" fill="none" stroke="#111" stroke-width="1.8"/>
<g transform="translate(1061 441) rotate(0)">
<path d="M-12 -1.6L-6.4 -9.6L6.4 -10.1L12.5 -2.4L12.5 6.4L6.4 12Z" fill="#fefefe" stroke="#111" stroke-width="2.3" stroke-linejoin="round" stroke-linecap="round"/>
<path d="M-12 -1.6L-12 7.2L-5.6 12.8L6.4 12Z" fill="#fefefe" stroke="#111" stroke-width="2.3" stroke-linejoin="round" stroke-linecap="round"/>
<path d="M-12 -1.6L-5.6 4L12.5 -2.4" fill="none" stroke="#111" stroke-width="1.8" stroke-linejoin="round" stroke-linecap="round"/>
<path d="M-5.6 4L-5.6 12.8" fill="none" stroke="#111" stroke-width="1.8" stroke-linejoin="round" stroke-linecap="round"/>
<ellipse cx="0.5" cy="-3.5" rx="6.9" ry="4.2" fill="none" stroke="#111" stroke-width="1.8"/>
<ellipse cx="0.5" cy="-3.2" rx="3.8" ry="2.1" fill="none" stroke="#111" stroke-width="1.4"/>
<path d="M12.5 -2.4L12.5 6.4L8.8 9.6Z" fill="#111" stroke="#111" stroke-width="1.1" stroke-linejoin="round" stroke-linecap="round"/>
</g>
<polyline points="801,346 798.4,544" fill="none" stroke="#111" stroke-width="2.5" stroke-linejoin="round" stroke-linecap="round"/>
<polyline points="815,346 811.4,544.4" fill="none" stroke="#111" stroke-width="2.5" stroke-linejoin="round" stroke-linecap="round"/>
<path d="M801 346 C802 344.5 800.3 343.1 804 341.6 C807.7 340.1 808.3 340.1 812 341.6 C815.7 343.1 814 344.5 815 346" fill="none" stroke="#111" stroke-width="2.5" stroke-linejoin="round" stroke-linecap="round"/>
<path d="M798.4 544 C799.3 545.5 797.8 546.7 801 548.4 C804.2 550.1 804.5 550.3 808 549 C811.5 547.7 810.3 545.9 811.4 544.4" fill="none" stroke="#111" stroke-width="2.5" stroke-linejoin="round" stroke-linecap="round"/>
<ellipse cx="804" cy="360.4" rx="1.2" ry="1.2" fill="#111" stroke="#111" stroke-width="1.6"/>
<ellipse cx="802.4" cy="543.6" rx="1" ry="1" fill="none" stroke="#111" stroke-width="1.4"/>
<polygon points="822.5,460.6 822.1,461.4 820.1,462 817.3,462.3 815.8,462.6 816.7,463.4 818.7,464.6 819.6,465.7 819.2,466.5 818,467 815.8,466.8 813.2,466.1 811.7,465.9 811.6,466.8 812,468.4 811.6,469.7 810.4,470.1 809,470.1 807.4,469.3 806,467.8 805,467.1 804,467.8 802.6,469.3 801,470.1 799.6,470.1 798.4,469.7 798,468.4 798.4,466.8 798.3,465.9 796.8,466.1 794.2,466.8 792,467 790.8,466.5 790.4,465.7 791.3,464.6 793.3,463.4 794.2,462.6 792.7,462.3 789.9,462 787.9,461.4 787.5,460.6 787.9,459.8 789.9,459.2 792.7,458.9 794.2,458.6 793.3,457.8 791.3,456.6 790.4,455.5 790.8,454.7 792,454.2 794.2,454.4 796.8,455.1 798.3,455.3 798.4,454.4 798,452.8 798.4,451.5 799.6,451.1 801,451.1 802.6,451.9 804,453.4 805,454.1 806,453.4 807.4,451.9 809,451.1 810.4,451.1 811.6,451.5 812,452.8 811.6,454.4 811.7,455.3 813.2,455.1 815.8,454.4 818,454.2 819.2,454.7 819.6,455.5 818.7,456.6 816.7,457.8 815.8,458.6 817.3,458.9 820.1,459.2 822.1,459.8 822.5,460.6" fill="#fefefe" stroke="#111" stroke-width="2.1" stroke-linejoin="round" stroke-linecap="round"/>
<polygon points="800.6,448 814,448 812.6,465 799.4,465" fill="#fefefe"/>
<polyline points="800,406 799.2,465" fill="none" stroke="#111" stroke-width="2.5" stroke-linejoin="round" stroke-linecap="round"/>
<polyline points="813.6,406 812.4,465" fill="none" stroke="#111" stroke-width="2.5" stroke-linejoin="round" stroke-linecap="round"/>
<path d="M799.4 462 C801.6 462.8 801.7 464.4 806 464.4 C810.3 464.4 810.3 462.8 812.4 462" fill="none" stroke="#111" stroke-width="1.8" stroke-linejoin="round" stroke-linecap="round"/>
<ellipse cx="802.4" cy="467" rx="1.4" ry="1" fill="none" stroke="#111" stroke-width="1.5"/>
<ellipse cx="809.6" cy="467" rx="1.4" ry="1" fill="none" stroke="#111" stroke-width="1.5"/>
<polygon points="926.4,549.1 926.5,541.1 910.5,540.9 910.4,548.9" fill="#fefefe" stroke="#111" stroke-width="2.3" stroke-linejoin="round" stroke-linecap="round"/>
<ellipse cx="918.4" cy="549" rx="4.4" ry="8" fill="#fefefe" stroke="#111" stroke-width="2.3" transform="rotate(-89 918.4 549)"/>
<polyline points="926.5,545.1 910.5,544.9" fill="none" stroke="#111" stroke-width="1.1" stroke-linejoin="round" stroke-linecap="round"/>
<polyline points="922.5,541.1 923.2,501.1" fill="none" stroke="#111" stroke-width="2.3" stroke-linejoin="round" stroke-linecap="round"/>
<polyline points="914.5,540.9 915.2,500.9" fill="none" stroke="#111" stroke-width="2.3" stroke-linejoin="round" stroke-linecap="round"/>
<ellipse cx="919.2" cy="501" rx="2" ry="4" fill="#fefefe" stroke="#111" stroke-width="2.3" transform="rotate(-89 919.2 501)"/>
<path d="M923.2 503.1L915.2 501.7M923.1 505.7L915.1 504.3M923.1 508.3L915.1 506.9M923 510.9L915.1 509.5M923 513.5L915 512.1M922.9 516.1L915 514.7M922.9 518.7L914.9 517.3M922.9 521.3L914.9 519.9M922.8 523.9L914.8 522.5M922.8 526.5L914.8 525.1" fill="none" stroke="#111" stroke-width="1.5" stroke-linejoin="round" stroke-linecap="round"/>
<!-- 35_leftparts -->
<polyline points="449,583 448,627" fill="none" stroke="#111" stroke-width="2.8" stroke-linejoin="round" stroke-linecap="round"/>
<polyline points="482.4,583 481.6,627" fill="none" stroke="#111" stroke-width="2.8" stroke-linejoin="round" stroke-linecap="round"/>
<path d="M448 627 C450.7 629 450.1 630.3 456 633 C461.9 635.7 459.3 635.2 465.6 635 C471.9 634.8 469.7 635.1 475 632.4 C480.3 629.7 479.4 628.8 481.6 627" fill="none" stroke="#111" stroke-width="2.8" stroke-linejoin="round" stroke-linecap="round"/>
<ellipse cx="465.6" cy="582" rx="16.8" ry="8.4" fill="#fefefe" stroke="#111" stroke-width="3"/>
<ellipse cx="466" cy="582.4" rx="8" ry="4" fill="none" stroke="#111" stroke-width="2.3"/>
<ellipse cx="466.4" cy="583.2" rx="4.4" ry="2" fill="none" stroke="#111" stroke-width="1.6"/>
<ellipse cx="463" cy="691" rx="11.6" ry="5.6" fill="#fefefe" stroke="#111" stroke-width="2.5"/>
<ellipse cx="463" cy="691" rx="8" ry="3.4" fill="none" stroke="#111" stroke-width="1.6"/>
<ellipse cx="463" cy="683" rx="11.6" ry="5.6" fill="#fefefe" stroke="#111" stroke-width="2.5"/>
<ellipse cx="463" cy="683" rx="8" ry="3.4" fill="none" stroke="#111" stroke-width="1.6"/>
<ellipse cx="463" cy="675" rx="11.6" ry="5.6" fill="#fefefe" stroke="#111" stroke-width="2.5"/>
<ellipse cx="463" cy="675" rx="8" ry="3.4" fill="none" stroke="#111" stroke-width="1.6"/>
<ellipse cx="463" cy="667" rx="11.6" ry="5.6" fill="#fefefe" stroke="#111" stroke-width="2.5"/>
<ellipse cx="463" cy="667" rx="8" ry="3.4" fill="none" stroke="#111" stroke-width="1.6"/>
<ellipse cx="463" cy="659" rx="11.6" ry="5.6" fill="#fefefe" stroke="#111" stroke-width="2.5"/>
<ellipse cx="463" cy="659" rx="8" ry="3.4" fill="none" stroke="#111" stroke-width="1.6"/>
<ellipse cx="463" cy="651" rx="11.6" ry="5.6" fill="#fefefe" stroke="#111" stroke-width="2.5"/>
<ellipse cx="463" cy="651" rx="8" ry="3.4" fill="none" stroke="#111" stroke-width="1.6"/>
<polyline points="555,538 555,530 501,560 497,685 463,704 462.5,699" fill="none" stroke="#111" stroke-width="3" stroke-linejoin="miter" stroke-linecap="round"/>
<path d="M592 556 C595 558.7 597 556.7 601 564 C605 571.3 603 573.3 604 578 " fill="none" stroke="#111" stroke-width="2.5" stroke-linejoin="round" stroke-linecap="round"/>
<polyline points="604,578 600,668 770,886" fill="none" stroke="#111" stroke-width="3" stroke-linejoin="miter" stroke-linecap="round"/>
<polyline points="770,886 602,744 601,815" fill="none" stroke="#111" stroke-width="3" stroke-linejoin="miter" stroke-linecap="round"/>
<path d="M601 815 C600 819.3 601.7 821.7 598 828 C594.3 834.3 592.7 832 590 834" fill="none" stroke="#111" stroke-width="2.5" stroke-linejoin="round" stroke-linecap="round"/>
<ellipse cx="554.4" cy="560" rx="20.4" ry="10" fill="#fefefe" stroke="#111" stroke-width="3"/>
<ellipse cx="554.4" cy="560.4" rx="16.4" ry="7.6" fill="none" stroke="#111" stroke-width="2.1"/>
<polygon points="534,561 575,561 575,620 533.6,620" fill="#fefefe"/>
<path d="M534 560 C536.7 562.7 535.2 564.5 542 568 C548.8 571.5 545.7 570.4 554.4 570.4 C563.1 570.4 561.1 571.5 568 568 C574.9 564.5 572.7 562.7 575 560" fill="none" stroke="#111" stroke-width="2.8" stroke-linejoin="round" stroke-linecap="round"/>
<polyline points="534,560 533.2,620" fill="none" stroke="#111" stroke-width="2.8" stroke-linejoin="round" stroke-linecap="round"/>
<polyline points="575,560 575,609" fill="none" stroke="#111" stroke-width="2.8" stroke-linejoin="round" stroke-linecap="round"/>
<polyline points="505,635 534,620" fill="none" stroke="#111" stroke-width="2.8" stroke-linejoin="round" stroke-linecap="round"/>
<polyline points="575,607 588,619 523,659 519,660 505,635" fill="none" stroke="#111" stroke-width="2.8" stroke-linejoin="round" stroke-linecap="round"/>
<path d="M533.2 620 C536.1 622.3 534.4 624 542 627 C549.6 630 546.7 630 556 629 C565.3 628 563.7 627.7 570 624 C576.3 620.3 573.3 620 575 618" fill="none" stroke="#111" stroke-width="2.3" stroke-linejoin="round" stroke-linecap="round"/>
<polyline points="509,638.4 523,654 587,617" fill="none" stroke="#111" stroke-width="1.5" stroke-linejoin="round" stroke-linecap="round"/>
<polyline points="530,656 530,688 534,692 543.6,693 545,699 558,700 558,660" fill="none" stroke="#111" stroke-width="2.8" stroke-linejoin="round" stroke-linecap="round"/>
<polyline points="574.4,636 573.2,692 568.4,694 560.4,688.4 560.4,660 568,657.6" fill="none" stroke="#111" stroke-width="2.8" stroke-linejoin="round" stroke-linecap="round"/>
<polyline points="568,657.6 567.6,692" fill="none" stroke="#111" stroke-width="1.5" stroke-linejoin="round" stroke-linecap="round"/>
<polyline points="532,686 542,690" fill="none" stroke="#111" stroke-width="2.3" stroke-linejoin="round" stroke-linecap="round"/>
<path d="M544.4 718 C544.9 716.1 543.6 714.7 546 712.4 C548.4 710.1 547.7 710.8 551.6 711 C555.5 711.2 555.1 710.7 557.6 713 C560.1 715.3 558.5 716.3 559 718" fill="none" stroke="#111" stroke-width="2.5" stroke-linejoin="round" stroke-linecap="round"/>
<polyline points="544.4,718 547,840" fill="none" stroke="#111" stroke-width="2.5" stroke-linejoin="round" stroke-linecap="round"/>
<polyline points="559,718 558,840" fill="none" stroke="#111" stroke-width="2.5" stroke-linejoin="round" stroke-linecap="round"/>
<path d="M544.2 715.1Q551.6 716 559 714.9M544.2 718.5Q551.6 719.4 559 718.3M544.3 721.9Q551.7 722.8 559.1 721.7M544.3 725.3Q551.7 726.2 559.1 725.1M544.3 728.7Q551.8 729.6 559.1 728.5M544.4 732.1Q551.8 733 559.2 731.9M544.4 735.5Q551.8 736.4 559.2 735.3M544.5 738.9Q551.9 739.8 559.3 738.7M544.5 742.3Q551.9 743.2 559.3 742.1M544.5 745.7Q551.9 746.6 559.3 745.5M544.6 749.1Q552 750 559.4 748.9M544.6 752.5Q552 753.4 559.4 752.3" fill="none" stroke="#111" stroke-width="1.5" stroke-linejoin="round" stroke-linecap="round"/>
<path d="M546.2 810 C546.2 814.7 547.9 819.5 546.2 827.5 C544.6 835.5 545.7 834 540 840 C534.3 846 534.7 845.2 525 850 C515.3 854.8 509.4 855.9 503.8 858" fill="none" stroke="#111" stroke-width="2.5" stroke-linejoin="round" stroke-linecap="round"/>
<path d="M558 810 C557.9 815.3 559 820.3 557.5 830 C556 839.7 558.5 838.6 552.5 846.2 C546.5 853.9 546.2 852.4 535 858.8 C523.8 865.1 517 867 510.5 870" fill="none" stroke="#111" stroke-width="2.5" stroke-linejoin="round" stroke-linecap="round"/>
<ellipse cx="506.5" cy="864.2" rx="3.8" ry="6.5" fill="#fefefe" stroke="#111" stroke-width="2.3" transform="rotate(25 506.5 864.2)"/>
<polygon points="434,823 433.7,823.8 431.8,824.6 429.2,825.2 427.8,825.9 429,826.7 431.5,827.7 433.1,828.6 433.3,829.4 432.7,830.2 430.8,830.7 428,831.2 426.5,831.7 427.5,832.6 429.7,833.8 431.1,834.8 431,835.7 430.3,836.4 428.3,836.8 425.4,836.9 423.8,837.3 424.6,838.3 426.5,839.6 427.6,840.8 427.4,841.7 426.6,842.3 424.4,842.5 421.6,842.3 419.9,842.6 420.4,843.6 422,845.1 422.9,846.4 422.4,847.2 421.5,847.8 419.3,847.7 416.5,847.3 414.8,847.4 415.1,848.5 416.3,850.2 416.8,851.5 416.2,852.2 415.2,852.7 413,852.4 410.4,851.8 408.7,851.7 408.7,852.8 409.5,854.6 409.7,855.9 409,856.6 407.8,856.9 405.7,856.5 403.3,855.6 401.6,855.3 401.3,856.4 401.8,858.3 401.6,859.6 400.8,860.2 399.5,860.4 397.6,859.8 395.3,858.7 393.8,858.3 393.3,859.3 393.2,861.2 392.8,862.5 391.8,863 390.5,863.1 388.8,862.3 386.8,860.9 385.3,860.4 384.6,861.4 384.2,863.2 383.4,864.5 382.3,864.9 381,864.9 379.5,863.9 377.8,862.4 376.5,861.7 375.6,862.6 374.7,864.4 373.7,865.6 372.5,865.9 371.2,865.7 369.9,864.6 368.7,862.9 367.5,862.1 366.3,862.9 365.1,864.6 363.8,865.7 362.5,865.9 361.3,865.6 360.3,864.4 359.4,862.6 358.5,861.7 357.2,862.4 355.5,863.9 354,864.9 352.7,864.9 351.6,864.5 350.8,863.2 350.4,861.4 349.7,860.4 348.2,860.9 346.2,862.3 344.5,863.1 343.2,863 342.2,862.5 341.8,861.2 341.7,859.3 341.2,858.3 339.7,858.7 337.4,859.8 335.5,860.4 334.2,860.2 333.4,859.6 333.2,858.3 333.7,856.4 333.4,855.3 331.7,855.6 329.3,856.5 327.2,856.9 326,856.6 325.3,855.9 325.5,854.6 326.3,852.8 326.3,851.7 324.6,851.8 322,852.4 319.8,852.7 318.8,852.2 318.2,851.5 318.7,850.2 319.9,848.5 320.2,847.4 318.5,847.3 315.7,847.7 313.5,847.8 312.6,847.2 312.1,846.4 313,845.1 314.6,843.6 315.1,842.6 313.4,842.3 310.6,842.5 308.4,842.3 307.6,841.7 307.4,840.8 308.5,839.6 310.4,838.3 311.2,837.3 309.6,836.9 306.7,836.8 304.7,836.4 304,835.7 303.9,834.8 305.3,833.8 307.5,832.6 308.5,831.7 307,831.2 304.2,830.7 302.3,830.2 301.7,829.4 301.9,828.6 303.5,827.7 306,826.7 307.2,825.9 305.8,825.2 303.2,824.6 301.3,823.8 301,823 301.3,822.2 303.2,821.4 305.8,820.8 307.2,820.1 306,819.3 303.5,818.3 301.9,817.4 301.7,816.6 302.3,815.8 304.2,815.3 307,814.8 308.5,814.3 307.5,813.4 305.3,812.2 303.9,811.2 304,810.3 304.7,809.6 306.7,809.2 309.6,809.1 311.2,808.7 310.4,807.7 308.5,806.4 307.4,805.2 307.6,804.3 308.4,803.7 310.6,803.5 313.4,803.7 315.1,803.4 314.6,802.4 313,800.9 312.1,799.6 312.6,798.8 313.5,798.2 315.7,798.3 318.5,798.7 320.2,798.6 319.9,797.5 318.7,795.8 318.2,794.5 318.8,793.8 319.8,793.3 322,793.6 324.6,794.2 326.3,794.3 326.3,793.2 325.5,791.4 325.3,790.1 326,789.4 327.2,789.1 329.3,789.5 331.7,790.4 333.4,790.7 333.7,789.6 333.2,787.7 333.4,786.4 334.2,785.8 335.5,785.6 337.4,786.2 339.7,787.3 341.2,787.7 341.7,786.7 341.8,784.8 342.2,783.5 343.2,783 344.5,782.9 346.2,783.7 348.2,785.1 349.7,785.6 350.4,784.6 350.8,782.8 351.6,781.5 352.7,781.1 354,781.1 355.5,782.1 357.2,783.6 358.5,784.3 359.4,783.4 360.3,781.6 361.3,780.4 362.5,780.1 363.8,780.3 365.1,781.4 366.3,783.1 367.5,783.9 368.7,783.1 369.9,781.4 371.2,780.3 372.5,780.1 373.7,780.4 374.7,781.6 375.6,783.4 376.5,784.3 377.8,783.6 379.5,782.1 381,781.1 382.3,781.1 383.4,781.5 384.2,782.8 384.6,784.6 385.3,785.6 386.8,785.1 388.8,783.7 390.5,782.9 391.8,783 392.8,783.5 393.2,784.8 393.3,786.7 393.8,787.7 395.3,787.3 397.6,786.2 399.5,785.6 400.7,785.8 401.6,786.4 401.8,787.7 401.3,789.6 401.6,790.7 403.3,790.4 405.7,789.5 407.8,789.1 409,789.4 409.7,790.1 409.5,791.4 408.7,793.2 408.7,794.3 410.4,794.2 413,793.6 415.2,793.3 416.2,793.8 416.8,794.5 416.3,795.8 415.1,797.5 414.8,798.6 416.5,798.7 419.3,798.3 421.5,798.2 422.4,798.8 422.9,799.6 422,800.9 420.4,802.4 419.9,803.4 421.6,803.7 424.4,803.5 426.6,803.7 427.4,804.3 427.6,805.2 426.5,806.4 424.6,807.7 423.8,808.7 425.4,809.1 428.3,809.2 430.3,809.6 431,810.3 431.1,811.2 429.7,812.2 427.5,813.4 426.5,814.3 428,814.8 430.8,815.3 432.7,815.8 433.3,816.6 433.1,817.4 431.5,818.3 429,819.3 427.8,820.1 429.2,820.8 431.8,821.4 433.7,822.2 434,823" fill="#fefefe" stroke="#111" stroke-width="2.2" stroke-linejoin="round" stroke-linecap="round"/>
<ellipse cx="367.5" cy="823" rx="59" ry="37.5" fill="none" stroke="#111" stroke-width="0"/>
<rect x="324.3" y="799.4" width="19" height="6" rx="3" fill="none" stroke="#111" stroke-width="1.6" transform="rotate(-22 333.8 802.4)"/>
<polyline points="327.8,805.3 339.8,800.4" fill="none" stroke="#111" stroke-width="1.1" stroke-linejoin="round" stroke-linecap="round"/>
<rect x="388.1" y="800" width="19" height="6" rx="3" fill="none" stroke="#111" stroke-width="1.6" transform="rotate(25 397.6 803)"/>
<polyline points="391.7,800.7 403.5,806.2" fill="none" stroke="#111" stroke-width="1.1" stroke-linejoin="round" stroke-linecap="round"/>
<rect x="328.5" y="834.6" width="19" height="6" rx="3" fill="none" stroke="#111" stroke-width="1.6" transform="rotate(20 338 837.6)"/>
<polyline points="331.9,835.9 344.1,840.3" fill="none" stroke="#111" stroke-width="1.1" stroke-linejoin="round" stroke-linecap="round"/>
<rect x="386.9" y="834" width="19" height="6" rx="3" fill="none" stroke="#111" stroke-width="1.6" transform="rotate(-22 396.4 837)"/>
<polyline points="390.4,839.9 402.4,835" fill="none" stroke="#111" stroke-width="1.1" stroke-linejoin="round" stroke-linecap="round"/>
<polygon points="388,810.4 387.6,811.2 385.8,811.9 383,812.3 381.6,812.7 382.5,813.5 384.5,814.7 385.5,815.8 385.2,816.6 384.2,817.2 382,817.3 379.3,816.8 377.7,816.8 377.8,817.7 378.5,819.3 378.5,820.6 377.5,821.2 376.1,821.4 374.2,820.8 372.3,819.6 370.9,819.1 370.2,820 369.5,821.6 368.4,822.7 367,822.9 365.6,822.7 364.5,821.6 363.8,820 363.1,819.1 361.7,819.6 359.8,820.8 357.9,821.4 356.5,821.2 355.5,820.6 355.5,819.3 356.2,817.7 356.3,816.8 354.7,816.8 352,817.3 349.8,817.2 348.8,816.6 348.5,815.8 349.5,814.7 351.5,813.5 352.4,812.7 351,812.3 348.2,811.9 346.4,811.2 346,810.4 346.4,809.6 348.2,808.9 351,808.5 352.4,808.1 351.5,807.3 349.5,806.1 348.5,805 348.8,804.1 349.8,803.6 352,803.5 354.7,804 356.3,804 356.2,803.1 355.5,801.5 355.5,800.2 356.5,799.6 357.9,799.4 359.8,800 361.7,801.2 363.1,801.7 363.8,800.8 364.5,799.2 365.6,798.1 367,797.9 368.4,798.1 369.5,799.2 370.2,800.8 370.9,801.7 372.3,801.2 374.2,800 376.1,799.4 377.5,799.6 378.5,800.2 378.5,801.5 377.8,803.1 377.7,804 379.3,804 382,803.5 384.2,803.6 385.2,804.1 385.5,805 384.5,806.1 382.5,807.3 381.6,808.1 383,808.5 385.8,808.9 387.6,809.6 388,810.4" fill="#fefefe" stroke="#111" stroke-width="2.1" stroke-linejoin="round" stroke-linecap="round"/>
<ellipse cx="367" cy="808" rx="12" ry="6.4" fill="none" stroke="#111" stroke-width="2.1"/>
<ellipse cx="367" cy="805" rx="9" ry="4.8" fill="none" stroke="#111" stroke-width="2.1"/>
<ellipse cx="367" cy="799" rx="6.4" ry="4.8" fill="#fefefe" stroke="#111" stroke-width="2.3"/>
<polyline points="362,798 367,801 372.4,798" fill="none" stroke="#111" stroke-width="1.6" stroke-linejoin="round" stroke-linecap="round"/>
<polyline points="367,801 367,803.6" fill="none" stroke="#111" stroke-width="1.6" stroke-linejoin="round" stroke-linecap="round"/>
<ellipse cx="367" cy="793" rx="2.8" ry="2" fill="none" stroke="#111" stroke-width="1.8"/>
<path d="M377 799 C378.9 797.1 378.9 795.5 384 792 C389.1 788.5 391.3 790 396 786 C400.7 782 398.9 781.5 401.6 777 C404.3 772.5 403.1 772.4 406 769 C408.9 765.6 410.7 765.6 412.4 764.4" fill="none" stroke="#111" stroke-width="2.5" stroke-linejoin="round" stroke-linecap="round"/>
<path d="M380 803 C382.1 801.4 382.7 800.5 388 797 C393.3 793.5 395.2 794.5 400 790 C404.8 785.5 403.3 784.5 406 780 C408.7 775.5 407.6 775.7 410 773 C412.4 770.3 413.7 770.8 415 770" fill="none" stroke="#111" stroke-width="2.5" stroke-linejoin="round" stroke-linecap="round"/>
<path d="M377 799 C376.3 797.3 374.3 797 375 794 C375.7 791 376 790.7 379 790 C382 789.3 382.3 791.3 384 792" fill="none" stroke="#111" stroke-width="2.3" stroke-linejoin="round" stroke-linecap="round"/>
<path d="M380 803 L377 799" fill="none" stroke="#111" stroke-width="2.3" stroke-linejoin="round" stroke-linecap="round"/>
<ellipse cx="411.6" cy="764.4" rx="2.4" ry="4.8" fill="#fefefe" stroke="#111" stroke-width="2.8" transform="rotate(-25.2 411.6 764.4)"/>
<polygon points="413.6,768.7 446.4,753.3 442.4,744.7 409.6,760.1" fill="#fefefe" stroke="none"/>
<polyline points="413.6,768.7 446.4,753.3" fill="none" stroke="#111" stroke-width="2.8" stroke-linejoin="round" stroke-linecap="round"/>
<polyline points="409.6,760.1 442.4,744.7" fill="none" stroke="#111" stroke-width="2.8" stroke-linejoin="round" stroke-linecap="round"/>
<ellipse cx="444.4" cy="749" rx="2.4" ry="4.8" fill="#fefefe" stroke="#111" stroke-width="2.8" transform="rotate(-25.2 444.4 749)"/>
<polyline points="415,764 443,751" fill="none" stroke="#111" stroke-width="3" stroke-linejoin="round" stroke-linecap="round"/>
<ellipse cx="446.2" cy="897" rx="5.5" ry="7.5" fill="#fefefe" stroke="#111" stroke-width="2.3" transform="rotate(-20 446.2 897)"/>
<ellipse cx="450" cy="900" rx="5" ry="7" fill="#fefefe" stroke="#111" stroke-width="2.3" transform="rotate(-20 450 900)"/>
<ellipse cx="454.5" cy="903" rx="4.5" ry="6" fill="#fefefe" stroke="#111" stroke-width="2.3" transform="rotate(-20 454.5 903)"/>
<ellipse cx="465" cy="906.2" rx="4" ry="4.2" fill="#fefefe" stroke="#111" stroke-width="2.3"/>
<polyline points="456.2,900 462.5,903" fill="none" stroke="#111" stroke-width="2.1" stroke-linejoin="round" stroke-linecap="round"/>
<polyline points="455,907.5 462,909.5" fill="none" stroke="#111" stroke-width="2.1" stroke-linejoin="round" stroke-linecap="round"/>
<!-- 36_leftbase -->
<polyline points="521,921 484,941 466,932 465,922 596,849 610,856 621,873" fill="none" stroke="#111" stroke-width="2.9" stroke-linejoin="round" stroke-linecap="round"/>
<polyline points="470,928 483,934 485,940.4" fill="none" stroke="#111" stroke-width="1.8" stroke-linejoin="round" stroke-linecap="round"/>
<polyline points="483,934 609,866 621,873" fill="none" stroke="#111" stroke-width="1.6" stroke-linejoin="round" stroke-linecap="round"/>
<polyline points="487,937 524,917" fill="none" stroke="#111" stroke-width="1.6" stroke-linejoin="round" stroke-linecap="round"/>
<ellipse cx="483" cy="921" rx="4.8" ry="2.8" fill="none" stroke="#111" stroke-width="2.3"/>
<ellipse cx="483.4" cy="921.2" rx="2" ry="1.2" fill="none" stroke="#111" stroke-width="1.5"/>
<ellipse cx="500" cy="911.2" rx="4.8" ry="2.8" fill="none" stroke="#111" stroke-width="2.3"/>
<ellipse cx="500.4" cy="911.4" rx="2" ry="1.2" fill="none" stroke="#111" stroke-width="1.5"/>
<polyline points="524,915 636,981" fill="none" stroke="#111" stroke-width="2.9" stroke-linejoin="round" stroke-linecap="round"/>
<polyline points="528,913.6 633,976" fill="none" stroke="#111" stroke-width="1.5" stroke-linejoin="round" stroke-linecap="round"/>
<polyline points="621,873 648,892.4" fill="none" stroke="#111" stroke-width="2.9" stroke-linejoin="round" stroke-linecap="round"/>
<polyline points="648,892.4 716,934" fill="none" stroke="#111" stroke-width="2.9" stroke-linejoin="round" stroke-linecap="round"/>
<ellipse cx="620" cy="910" rx="36" ry="21.6" fill="#fefefe" stroke="#111" stroke-width="3"/>
<polygon points="584,910 656,910 656,924 584,924" fill="#fefefe"/>
<polyline points="584,910 587,925" fill="none" stroke="#111" stroke-width="2.8" stroke-linejoin="round" stroke-linecap="round"/>
<polyline points="656,910 655.6,924" fill="none" stroke="#111" stroke-width="2.8" stroke-linejoin="round" stroke-linecap="round"/>
<path d="M587 925 C590.3 928.3 588.1 931.5 598 936 C607.9 940.5 606.2 940.1 620 940 C633.8 939.9 633.3 940.4 644 935.6 C654.7 930.8 652.1 927.5 655.6 924" fill="none" stroke="#111" stroke-width="2.8" stroke-linejoin="round" stroke-linecap="round"/>
<ellipse cx="620" cy="909" rx="36" ry="21.2" fill="#fefefe" stroke="#111" stroke-width="3"/>
<ellipse cx="620" cy="909" rx="29.2" ry="16.4" fill="none" stroke="#111" stroke-width="2.8"/>
<path d="M595 917 C598.3 915 598.5 913 606 910.4 C613.5 907.8 611.3 908.5 620 908.4 C628.7 908.3 627.2 907.7 635 910 C642.8 912.3 642.7 914.2 646 916" fill="none" stroke="#111" stroke-width="2.5" stroke-linejoin="round" stroke-linecap="round"/>
<path d="M596 917.6 C599.6 919.2 600.8 921 608 923 C615.2 925 612.2 924.6 620 924.4 C627.8 924.2 626.5 924.6 634 922.4 C641.5 920.2 641.7 918.6 645 917" fill="none" stroke="#111" stroke-width="2.1" stroke-linejoin="round" stroke-linecap="round"/>
<polyline points="711,939 600,1002.4 601,1008.4 613.6,1015 616,1021 634,1030 736,976" fill="none" stroke="#111" stroke-width="2.9" stroke-linejoin="round" stroke-linecap="round"/>
<polyline points="616,1013 723,952.4" fill="none" stroke="#111" stroke-width="1.6" stroke-linejoin="round" stroke-linecap="round"/>
<polyline points="601.6,1004.4 616,1013 617,1020" fill="none" stroke="#111" stroke-width="1.6" stroke-linejoin="round" stroke-linecap="round"/>
<ellipse cx="616.4" cy="1002.4" rx="4.8" ry="2.8" fill="none" stroke="#111" stroke-width="2.3"/>
<ellipse cx="616.8" cy="1002.6" rx="2" ry="1.2" fill="none" stroke="#111" stroke-width="1.5"/>
<ellipse cx="632.4" cy="993.2" rx="4.8" ry="2.8" fill="none" stroke="#111" stroke-width="2.3"/>
<ellipse cx="632.8" cy="993.4" rx="2" ry="1.2" fill="none" stroke="#111" stroke-width="1.5"/>
<ellipse cx="792" cy="1027" rx="15" ry="9.5" fill="#fefefe" stroke="#111" stroke-width="2.1"/>
<ellipse cx="792" cy="1024.5" rx="15" ry="9.5" fill="#fefefe" stroke="#111" stroke-width="2.3"/>
<ellipse cx="792" cy="1024.5" rx="6.8" ry="4.3" fill="none" stroke="#111" stroke-width="1.8"/>
<ellipse cx="768" cy="1050.5" rx="3.1" ry="3.1" fill="none" stroke="#111" stroke-width="2"/>
<ellipse cx="768" cy="1050.5" rx="1.1" ry="1.1" fill="none" stroke="#111" stroke-width="1.1"/>
<polyline points="771.1,1050.9 791.5,1038.5 791.2,1037.8" fill="none" stroke="#111" stroke-width="2" stroke-linejoin="round" stroke-linecap="round"/>
<polyline points="769.4,1047.7 787.8,1037.8" fill="none" stroke="#111" stroke-width="2" stroke-linejoin="round" stroke-linecap="round"/>
<polyline points="770.5,1049.1 787.7,1039.9" fill="none" stroke="#111" stroke-width="0.9" stroke-linejoin="round" stroke-linecap="round"/>
<polygon points="836.2,1006.2 853.8,997 938.8,1048.8 937.5,1055 922.5,1063.8 837,1012.5" fill="#fefefe" stroke="#111" stroke-width="2.8" stroke-linejoin="round" stroke-linecap="round"/>
<polyline points="837,1012.5 853.8,1003 937.5,1055" fill="none" stroke="#111" stroke-width="1.5" stroke-linejoin="round" stroke-linecap="round"/>
<ellipse cx="856.2" cy="1010.5" rx="5.5" ry="3.5" fill="none" stroke="#111" stroke-width="2.3"/>
<ellipse cx="856.8" cy="1010.8" rx="2.2" ry="1.5" fill="none" stroke="#111" stroke-width="1.5"/>
<ellipse cx="917.5" cy="1046.5" rx="5.5" ry="3.5" fill="none" stroke="#111" stroke-width="2.3"/>
<ellipse cx="918" cy="1046.8" rx="2.2" ry="1.5" fill="none" stroke="#111" stroke-width="1.5"/>
<polygon points="877,1033.1 826.3,1058.8 831.2,1068.7 882,1042.9" fill="#fefefe" stroke="none"/>
<polyline points="877,1033.1 826.3,1058.8" fill="none" stroke="#111" stroke-width="2.5" stroke-linejoin="round" stroke-linecap="round"/>
<polyline points="882,1042.9 831.2,1068.7" fill="none" stroke="#111" stroke-width="2.5" stroke-linejoin="round" stroke-linecap="round"/>
<ellipse cx="828.8" cy="1063.8" rx="2.8" ry="5.5" fill="#fefefe" stroke="#111" stroke-width="2.5" transform="rotate(153.1 828.8 1063.8)"/>
<path d="M853.8 1045.1Q854.8 1050.7 858.7 1054.9M851.3 1046.3Q852.3 1052 856.2 1056.2M848.8 1047.6Q849.8 1053.2 853.7 1057.4M846.3 1048.8Q847.3 1054.4 851.2 1058.7M843.8 1050Q844.8 1055.7 848.7 1059.9M841.3 1051.3Q842.3 1056.9 846.1 1061.1M838.8 1052.5Q839.8 1058.2 843.6 1062.4M836.2 1053.8Q837.3 1059.4 841.1 1063.6M833.7 1055Q834.7 1060.7 838.6 1064.9M831.2 1056.3Q832.2 1061.9 836.1 1066.1M828.7 1057.5Q829.7 1063.1 833.6 1067.4" fill="none" stroke="#111" stroke-width="1.6" stroke-linejoin="round" stroke-linecap="round"/>
<g transform="translate(796.2 1081.2) rotate(-5)">
<path d="M-9.2 -7.7L0 -12.3L10.7 -7.7L12.3 3.1L4.6 11.5L-7.7 9.2Z" fill="#fefefe" stroke="#111" stroke-width="2.3" stroke-linejoin="round" stroke-linecap="round"/>
<ellipse cx="-3.4" cy="1.2" rx="7.1" ry="8.6" fill="#fefefe" stroke="#111" stroke-width="2.1" transform="rotate(-15 -3.4 1.2)"/>
<ellipse cx="-3.7" cy="1.5" rx="3.7" ry="4.9" fill="none" stroke="#111" stroke-width="1.6" transform="rotate(-15 -3.7 1.5)"/>
<path d="M2.3 -6.9L5.4 10.7" fill="none" stroke="#111" stroke-width="1.4" stroke-linejoin="round" stroke-linecap="round"/>
</g>
<!-- 37_axles -->
<polyline points="600,512.5 666.2,553.8" fill="none" stroke="#111" stroke-width="3" stroke-linejoin="round" stroke-linecap="round"/>
<polyline points="600,531.2 655,565.6" fill="none" stroke="#111" stroke-width="3" stroke-linejoin="round" stroke-linecap="round"/>
<polygon points="695.8,625.5 695.4,625 695.4,623.7 695.7,622 695.7,621 694.8,621.3 693.4,622.2 692.3,622.7 691.7,622.5 691.4,621.9 691.6,620.5 692.2,618.9 692.3,617.8 691.4,617.9 690,618.6 688.9,618.9 688.3,618.5 688.1,617.8 688.5,616.5 689.4,614.9 689.6,613.8 688.8,613.7 687.3,614.1 686.3,614.1 685.8,613.6 685.7,612.8 686.4,611.6 687.4,610.1 687.8,609.1 687,608.8 685.6,608.9 684.6,608.7 684.3,608 684.3,607.2 685.1,606.1 686.3,604.8 686.9,603.9 686.2,603.4 684.8,603.1 683.9,602.7 683.7,602 683.9,601.1 684.8,600.1 686.2,599.1 686.8,598.2 686.3,597.6 685.1,597.1 684.3,596.4 684.2,595.6 684.5,594.8 685.5,593.9 687,593.2 687.7,592.4 687.3,591.7 686.3,590.8 685.6,590 685.7,589.1 686.1,588.4 687.2,587.7 688.7,587.2 689.5,586.7 689.2,585.8 688.4,584.7 687.9,583.6 688.1,582.8 688.7,582.1 689.8,581.7 691.2,581.5 692.1,581.1 692,580.1 691.4,578.8 691.1,577.6 691.5,576.8 692,576.2 693.2,576 694.5,576.2 695.4,576 695.5,574.9 695.1,573.4 695.1,572.2 695.5,571.4 696.2,570.9 697.3,571 698.5,571.4 699.4,571.4 699.6,570.3 699.5,568.7 699.7,567.4 700.2,566.7 700.9,566.4 701.9,566.7 703,567.4 703.8,567.6 704.2,566.5 704.4,564.8 704.8,563.5 705.4,563 706.1,562.7 707,563.3 707.9,564.3 708.6,564.6 709.1,563.6 709.6,561.9 710.1,560.7 710.8,560.2 711.5,560.1 712.2,560.9 712.9,562.1 713.6,562.6 714.2,561.7 714.9,560.1 715.6,558.9 716.3,558.6 717,558.6 717.6,559.6 718,561 718.6,561.7 719.3,560.9 720.2,559.3 721.1,558.3 721.8,558.1 722.4,558.3 722.8,559.4 723,561 723.4,561.8 724.2,561.2 725.3,559.8 726.3,558.9 727,558.8 727.5,559.2 727.7,560.4 727.6,562.1 727.8,563 728.7,562.5 730,561.3 731,560.6 731.7,560.7 732.1,561.2 732.1,562.5 731.8,564.2 731.8,565.2 732.7,564.9 734.1,564 735.2,563.5 735.8,563.7 736.1,564.3 735.9,565.7 735.3,567.3 735.2,568.4 736.1,568.3 737.5,567.6 738.6,567.3 739.2,567.7 739.4,568.4 739,569.7 738.1,571.3 737.9,572.4 738.7,572.5 740.2,572.1 741.2,572.1 741.7,572.6 741.8,573.4 741.1,574.6 740.1,576.1 739.7,577.1 740.5,577.4 741.9,577.3 742.9,577.5 743.2,578.2 743.2,579 742.4,580.1 741.2,581.4 740.6,582.3 741.3,582.8 742.7,583.1 743.6,583.5 743.8,584.2 743.6,585.1 742.7,586.1 741.3,587.1 740.7,588 741.2,588.6 742.4,589.1 743.2,589.8 743.3,590.6 743,591.4 742,592.3 740.5,593 739.8,593.8 740.2,594.5 741.2,595.4 741.9,596.2 741.8,597.1 741.4,597.8 740.3,598.5 738.8,599 738,599.5 738.3,600.4 739.1,601.5 739.6,602.6 739.4,603.4 738.8,604.1 737.7,604.5 736.3,604.7 735.4,605.1 735.5,606.1 736.1,607.4 736.4,608.6 736,609.4 735.5,610 734.3,610.2 733,610 732.1,610.2 732,611.3 732.4,612.8 732.4,614 732,614.8 731.3,615.3 730.2,615.2 729,614.8 728.1,614.8 727.9,615.9 728,617.5 727.8,618.8 727.3,619.5 726.6,619.8 725.6,619.5 724.5,618.8 723.7,618.6 723.3,619.7 723.1,621.4 722.7,622.7 722.1,623.2 721.4,623.5 720.5,622.9 719.6,621.9 718.9,621.6 718.4,622.6 717.9,624.3 717.4,625.5 716.7,626 716,626.1 715.3,625.3 714.6,624.1 713.9,623.6 713.3,624.5 712.6,626.1 711.9,627.3 711.2,627.6 710.5,627.6 709.9,626.6 709.5,625.2 708.9,624.5 708.2,625.3 707.3,626.9 706.4,627.9 705.7,628.1 705.1,627.9 704.7,626.8 704.5,625.2 704.1,624.4 703.3,625 702.2,626.4 701.2,627.3 700.5,627.4 700,627 699.8,625.8 699.9,624.1 699.7,623.2 698.8,623.7 697.5,624.9 696.5,625.6 695.8,625.5" fill="#fefefe" stroke="#111" stroke-width="2.2" stroke-linejoin="round" stroke-linecap="round"/>
<ellipse cx="716.9" cy="593.5" rx="7.8" ry="9" fill="none" stroke="#111" stroke-width="2.8" transform="rotate(20 716.9 593.5)"/>
<ellipse cx="718.1" cy="593.8" rx="5.2" ry="6.9" fill="none" stroke="#111" stroke-width="1.8" transform="rotate(20 718.1 593.8)"/>
<path d="M710.6 596.2 C711.2 597.5 710.2 598.1 712.5 600 C714.8 601.9 715.8 601.2 717.5 601.9" fill="none" stroke="#111" stroke-width="1.6" stroke-linejoin="round" stroke-linecap="round"/>
<polygon points="657.8,568.5 667.1,564.1 679.6,570.4 669.6,576" fill="#fefefe" stroke="#111" stroke-width="2.5" stroke-linejoin="round" stroke-linecap="round"/>
<ellipse cx="666.8" cy="569.8" rx="3" ry="1.6" fill="none" stroke="#111" stroke-width="2.1" transform="rotate(-10 666.8 569.8)"/>
<polyline points="657.8,568.5 658.4,574.1 669.6,581 669.6,576" fill="none" stroke="#111" stroke-width="2.5" stroke-linejoin="round" stroke-linecap="round"/>
<polygon points="690.2,547.9 707.1,539.8 717.8,546 700.9,555.4" fill="#fefefe" stroke="#111" stroke-width="2.5" stroke-linejoin="round" stroke-linecap="round"/>
<ellipse cx="705.9" cy="547.2" rx="3.2" ry="1.8" fill="none" stroke="#111" stroke-width="2.1" transform="rotate(-10 705.9 547.2)"/>
<polyline points="717.8,546 718,552.9 710.2,557.2" fill="none" stroke="#111" stroke-width="2.5" stroke-linejoin="round" stroke-linecap="round"/>
<path d="M667.1 564.1 C668.6 561.4 667.1 560.4 671.5 556 C675.9 551.6 675.2 552.2 680.2 551 C685.2 549.8 683.2 553.3 686.5 552.2 C689.8 551.2 689 549.3 690.2 547.9" fill="none" stroke="#111" stroke-width="2.5" stroke-linejoin="round" stroke-linecap="round"/>
<path d="M679.6 570.4 C680.7 568.5 679.2 567.9 682.8 564.8 C686.3 561.6 684.2 564.1 690.2 561 C696.3 557.9 697.3 557.2 700.9 555.4" fill="none" stroke="#111" stroke-width="2.5" stroke-linejoin="round" stroke-linecap="round"/>
<path d="M669.6 561 C671.9 558.9 671.5 556.6 676.5 554.8 C681.5 552.9 681.9 555.2 684.6 555.4" fill="none" stroke="#111" stroke-width="1.6" stroke-linejoin="round" stroke-linecap="round"/>
<path d="M658.4 574.1 C656.3 575.4 654.4 573.9 652.1 577.9 C649.8 581.8 649.6 581.6 651.5 586 C653.4 590.4 653.2 588.7 657.8 591 C662.3 593.3 662.8 592.2 665.2 592.9" fill="none" stroke="#111" stroke-width="2.5" stroke-linejoin="round" stroke-linecap="round"/>
<path d="M655.2 578.5 C655 581 653 582 654.6 586 C656.3 590 658.4 588.9 660.2 590.4" fill="none" stroke="#111" stroke-width="1.6" stroke-linejoin="round" stroke-linecap="round"/>
<path d="M669.6 581 C668.2 583.1 665.9 583.1 665.2 587.2 C664.6 591.4 664 590 667.8 593.5 C671.5 597 671.1 596 676.5 597.9 C681.9 599.8 681.5 598.7 684 599.1" fill="none" stroke="#111" stroke-width="2.5" stroke-linejoin="round" stroke-linecap="round"/>
<ellipse cx="668.4" cy="589.1" rx="2" ry="2.2" fill="none" stroke="#111" stroke-width="1.8"/>
<path d="M687.8 596 C686.1 593.1 684 593.5 682.8 587.2 C681.5 581 681.1 583.3 684 577.2 C686.9 571.2 686.1 573.1 691.5 569.1 C696.9 565.2 694.8 566 700.2 565.4 C705.7 564.8 705.2 566.6 707.8 567.2" fill="none" stroke="#111" stroke-width="2.5" stroke-linejoin="round" stroke-linecap="round"/>
<path d="M690.9 595.4 C689.6 592.7 688 592.7 687.1 587.2 C686.3 581.8 685.9 584.1 688.4 579.1 C690.9 574.1 690 575.6 694.6 572.2 C699.2 568.9 699.6 570.2 702.1 569.1" fill="none" stroke="#111" stroke-width="1.6" stroke-linejoin="round" stroke-linecap="round"/>
<path d="M695.2 592.2 C694.2 590.2 692.5 590.4 692.1 586 C691.7 581.6 691.5 583.1 694 579.1 C696.5 575.2 697.8 575.8 699.6 574.1" fill="none" stroke="#111" stroke-width="2.3" stroke-linejoin="round" stroke-linecap="round"/>
<polygon points="1354,833.2 1353.5,832.7 1353.6,831.4 1353.9,829.7 1353.9,828.7 1352.9,829 1351.5,829.9 1350.4,830.4 1349.8,830.2 1349.4,829.6 1349.7,828.2 1350.3,826.5 1350.4,825.4 1349.5,825.5 1348,826.2 1346.9,826.5 1346.4,826.1 1346.2,825.4 1346.6,824 1347.5,822.4 1347.7,821.3 1346.9,821.3 1345.4,821.6 1344.3,821.7 1343.8,821.1 1343.8,820.3 1344.4,819 1345.5,817.5 1345.9,816.5 1345.1,816.2 1343.6,816.3 1342.6,816.1 1342.3,815.4 1342.3,814.6 1343.1,813.4 1344.4,812.1 1344.9,811.1 1344.2,810.7 1342.9,810.4 1341.9,809.9 1341.8,809.2 1341.9,808.3 1342.9,807.3 1344.2,806.2 1344.9,805.4 1344.4,804.7 1343.1,804.2 1342.3,803.5 1342.3,802.7 1342.6,801.8 1343.6,801 1345.1,800.2 1345.9,799.4 1345.4,798.6 1344.4,797.8 1343.7,796.9 1343.8,796 1344.2,795.2 1345.3,794.6 1346.8,794.1 1347.7,793.5 1347.4,792.6 1346.5,791.5 1346.1,790.4 1346.3,789.5 1346.8,788.8 1348,788.4 1349.5,788.2 1350.4,787.8 1350.2,786.8 1349.6,785.4 1349.4,784.2 1349.7,783.4 1350.3,782.8 1351.5,782.6 1352.9,782.7 1353.8,782.5 1353.8,781.4 1353.5,779.9 1353.4,778.6 1353.9,777.8 1354.6,777.3 1355.6,777.4 1356.9,777.8 1357.8,777.8 1358.1,776.7 1358,775.1 1358.1,773.7 1358.7,773 1359.4,772.6 1360.4,773 1361.5,773.7 1362.4,773.9 1362.8,772.8 1363,771.1 1363.3,769.7 1364,769.1 1364.7,768.9 1365.6,769.4 1366.5,770.5 1367.3,770.8 1367.8,769.8 1368.3,768.1 1368.8,766.8 1369.5,766.3 1370.2,766.2 1371,767 1371.7,768.2 1372.3,768.8 1373,767.8 1373.7,766.1 1374.5,764.9 1375.2,764.6 1375.9,764.7 1376.4,765.6 1376.9,767.1 1377.4,767.8 1378.2,767 1379.1,765.4 1380,764.3 1380.7,764.1 1381.4,764.3 1381.7,765.4 1381.9,767.1 1382.3,767.9 1383.2,767.2 1384.3,765.8 1385.3,764.9 1386,764.8 1386.6,765.2 1386.7,766.4 1386.7,768.1 1386.9,769.1 1387.8,768.6 1389.1,767.4 1390.2,766.6 1390.8,766.8 1391.3,767.3 1391.2,768.6 1390.9,770.3 1390.9,771.3 1391.9,771 1393.3,770.1 1394.4,769.6 1395,769.8 1395.4,770.4 1395.1,771.8 1394.5,773.5 1394.4,774.6 1395.3,774.5 1396.8,773.8 1397.9,773.5 1398.4,773.9 1398.6,774.6 1398.2,776 1397.3,777.6 1397.1,778.7 1397.9,778.7 1399.4,778.4 1400.5,778.3 1401,778.9 1401,779.7 1400.4,781 1399.3,782.5 1398.9,783.5 1399.7,783.8 1401.2,783.7 1402.2,783.9 1402.5,784.6 1402.5,785.4 1401.7,786.6 1400.4,787.9 1399.9,788.9 1400.6,789.3 1401.9,789.6 1402.9,790.1 1403,790.8 1402.9,791.7 1401.9,792.7 1400.6,793.8 1399.9,794.6 1400.4,795.3 1401.7,795.8 1402.5,796.5 1402.5,797.3 1402.2,798.2 1401.2,799 1399.7,799.8 1398.9,800.6 1399.4,801.4 1400.4,802.2 1401.1,803.1 1401,804 1400.6,804.8 1399.5,805.4 1398,805.9 1397.1,806.5 1397.4,807.4 1398.3,808.5 1398.7,809.6 1398.5,810.5 1398,811.2 1396.8,811.6 1395.3,811.8 1394.4,812.2 1394.6,813.2 1395.2,814.6 1395.4,815.8 1395.1,816.6 1394.5,817.2 1393.3,817.4 1391.9,817.3 1391,817.5 1391,818.6 1391.3,820.1 1391.4,821.4 1390.9,822.2 1390.2,822.7 1389.2,822.6 1387.9,822.2 1387,822.2 1386.7,823.3 1386.8,824.9 1386.7,826.3 1386.1,827 1385.4,827.4 1384.4,827 1383.3,826.3 1382.4,826.1 1382,827.2 1381.8,828.9 1381.5,830.3 1380.8,830.9 1380.1,831.1 1379.2,830.6 1378.3,829.5 1377.5,829.2 1377,830.2 1376.5,831.9 1376,833.2 1375.3,833.7 1374.6,833.8 1373.8,833 1373.1,831.8 1372.5,831.2 1371.8,832.2 1371.1,833.9 1370.3,835.1 1369.6,835.4 1368.9,835.3 1368.4,834.4 1367.9,832.9 1367.4,832.2 1366.6,833 1365.7,834.6 1364.8,835.7 1364.1,835.9 1363.4,835.7 1363.1,834.6 1362.9,832.9 1362.5,832.1 1361.6,832.8 1360.5,834.2 1359.5,835.1 1358.8,835.2 1358.2,834.8 1358.1,833.6 1358.1,831.9 1357.9,830.9 1357,831.4 1355.7,832.6 1354.6,833.4 1354,833.2" fill="#fefefe" stroke="#111" stroke-width="2.2" stroke-linejoin="round" stroke-linecap="round"/>
<path d="M1367 812 C1366 808.7 1363.7 808.7 1364 802 C1364.3 795.3 1363.7 797 1368 792 C1372.3 787 1371 788.3 1377 787 C1383 785.7 1383 787.7 1386 788" fill="none" stroke="#111" stroke-width="2.3" stroke-linejoin="round" stroke-linecap="round"/>
<ellipse cx="1380" cy="800" rx="9" ry="12" fill="none" stroke="#111" stroke-width="2.1" transform="rotate(25 1380 800)"/>
<polygon points="1418,821 1500,865 1500,884 1413,834.4" fill="#fefefe"/>
<polyline points="1420,820 1500,864" fill="none" stroke="#111" stroke-width="3" stroke-linejoin="round" stroke-linecap="round"/>
<polyline points="1414,836 1500,885" fill="none" stroke="#111" stroke-width="3" stroke-linejoin="round" stroke-linecap="round"/>
<polygon points="1371,809 1380.9,804.4 1394.1,811 1383.5,816.9" fill="#fefefe" stroke="#111" stroke-width="2.5" stroke-linejoin="round" stroke-linecap="round"/>
<ellipse cx="1380.5" cy="810.3" rx="3.2" ry="1.7" fill="none" stroke="#111" stroke-width="2.1" transform="rotate(-10 1380.5 810.3)"/>
<polyline points="1371,809 1371.7,814.9 1383.5,822.2 1383.5,816.9" fill="none" stroke="#111" stroke-width="2.5" stroke-linejoin="round" stroke-linecap="round"/>
<polygon points="1405.3,787.2 1423.1,778.6 1434.4,785.2 1416.5,795.1" fill="#fefefe" stroke="#111" stroke-width="2.5" stroke-linejoin="round" stroke-linecap="round"/>
<ellipse cx="1421.8" cy="786.6" rx="3.4" ry="1.8" fill="none" stroke="#111" stroke-width="2.1" transform="rotate(-10 1421.8 786.6)"/>
<polyline points="1434.4,785.2 1434.6,792.5 1426.4,797.1" fill="none" stroke="#111" stroke-width="2.5" stroke-linejoin="round" stroke-linecap="round"/>
<path d="M1380.9 804.4 C1382.4 801.5 1380.9 800.4 1385.5 795.8 C1390.1 791.2 1389.5 791.8 1394.8 790.5 C1400 789.2 1397.8 792.9 1401.4 791.8 C1404.9 790.7 1404 788.8 1405.3 787.2" fill="none" stroke="#111" stroke-width="2.5" stroke-linejoin="round" stroke-linecap="round"/>
<path d="M1394.1 811 C1395.2 809 1393.7 808.3 1397.4 805 C1401.1 801.7 1398.9 804.4 1405.3 801.1 C1411.7 797.8 1412.8 797.1 1416.5 795.1" fill="none" stroke="#111" stroke-width="2.5" stroke-linejoin="round" stroke-linecap="round"/>
<path d="M1383.5 801.1 C1386 798.9 1385.5 796.5 1390.8 794.5 C1396.1 792.5 1396.5 794.9 1399.4 795.1" fill="none" stroke="#111" stroke-width="1.6" stroke-linejoin="round" stroke-linecap="round"/>
<path d="M1371.7 814.9 C1369.5 816.3 1367.5 814.7 1365.1 818.9 C1362.6 823.1 1362.4 822.9 1364.4 827.5 C1366.4 832.1 1366.2 830.3 1371 832.8 C1375.8 835.2 1376.3 834.1 1378.9 834.7" fill="none" stroke="#111" stroke-width="2.5" stroke-linejoin="round" stroke-linecap="round"/>
<path d="M1368.4 819.6 C1368.1 822.2 1365.9 823.3 1367.7 827.5 C1369.5 831.7 1371.7 830.6 1373.6 832.1" fill="none" stroke="#111" stroke-width="1.6" stroke-linejoin="round" stroke-linecap="round"/>
<path d="M1383.5 822.2 C1382 824.4 1379.6 824.4 1378.9 828.8 C1378.3 833.2 1377.6 831.7 1381.6 835.4 C1385.5 839.1 1385.1 838 1390.8 840 C1396.5 842 1396.1 840.9 1398.7 841.3" fill="none" stroke="#111" stroke-width="2.5" stroke-linejoin="round" stroke-linecap="round"/>
<ellipse cx="1382.2" cy="830.8" rx="2.1" ry="2.4" fill="none" stroke="#111" stroke-width="1.8"/>
<path d="M1402.7 838 C1400.9 835 1398.7 835.4 1397.4 828.8 C1396.1 822.2 1395.6 824.6 1398.7 818.2 C1401.8 811.9 1400.9 813.8 1406.6 809.7 C1412.4 805.5 1410.2 806.4 1415.9 805.7 C1421.6 805 1421.2 807 1423.8 807.7" fill="none" stroke="#111" stroke-width="2.5" stroke-linejoin="round" stroke-linecap="round"/>
<path d="M1406 837.4 C1404.7 834.5 1402.9 834.5 1402 828.8 C1401.1 823.1 1400.7 825.5 1403.3 820.2 C1406 814.9 1405.1 816.5 1409.9 813 C1414.8 809.4 1415.2 810.8 1417.9 809.7" fill="none" stroke="#111" stroke-width="1.6" stroke-linejoin="round" stroke-linecap="round"/>
<path d="M1410.6 834.1 C1409.5 831.9 1407.7 832.1 1407.3 827.5 C1406.9 822.9 1406.6 824.4 1409.3 820.2 C1411.9 816 1413.2 816.7 1415.2 814.9" fill="none" stroke="#111" stroke-width="2.3" stroke-linejoin="round" stroke-linecap="round"/>
<ellipse cx="1422" cy="827" rx="11" ry="15" fill="#fefefe" stroke="#111" stroke-width="2.5" transform="rotate(25 1422 827)"/>
<ellipse cx="1424.4" cy="828" rx="7" ry="10.4" fill="#fefefe" stroke="#111" stroke-width="2.1" transform="rotate(25 1424.4 828)"/>
<polygon points="1424,820 1440,829 1436,842 1421,835" fill="#fefefe"/>
<polyline points="1426,819.6 1444,830" fill="none" stroke="#111" stroke-width="3" stroke-linejoin="round" stroke-linecap="round"/>
<polyline points="1420,835.6 1438,845" fill="none" stroke="#111" stroke-width="3" stroke-linejoin="round" stroke-linecap="round"/>
<polyline points="1288.8,636.2 1327.5,610 1358.8,623 1357.5,683.8 1337.5,695.5" fill="none" stroke="#111" stroke-width="2.8" stroke-linejoin="round" stroke-linecap="round"/>
<polyline points="1288.8,636.2 1287.5,660 1317.5,661.2" fill="none" stroke="#111" stroke-width="2.8" stroke-linejoin="round" stroke-linecap="round"/>
<polyline points="1288.8,636.2 1320,618 1328,614.5 1355,625 1337.5,632.5 1320,632.5" fill="none" stroke="#111" stroke-width="1.8" stroke-linejoin="round" stroke-linecap="round"/>
<polygon points="1320,632.5 1336.2,631.2 1338.8,636.2 1336.2,726.2 1318.8,716.2" fill="#fefefe" stroke="#111" stroke-width="2.8" stroke-linejoin="round" stroke-linecap="round"/>
<polyline points="1328,614.5 1328.8,631.2" fill="none" stroke="#111" stroke-width="1.6" stroke-linejoin="round" stroke-linecap="round"/>
<ellipse cx="1301.2" cy="647.5" rx="5" ry="6" fill="none" stroke="#111" stroke-width="2.3" transform="rotate(20 1301.2 647.5)"/>
<polyline points="1298.8,650 1303.8,645" fill="none" stroke="#111" stroke-width="1.5" stroke-linejoin="round" stroke-linecap="round"/>
<ellipse cx="1327.5" cy="642" rx="3.2" ry="4.2" fill="none" stroke="#111" stroke-width="2.3"/>
<ellipse cx="1326.5" cy="706.2" rx="3.2" ry="4.2" fill="none" stroke="#111" stroke-width="2.3"/>
<polyline points="1250,691.2 1260,685 1307.5,715 1318.8,711.2" fill="none" stroke="#111" stroke-width="3" stroke-linejoin="round" stroke-linecap="round"/>
<ellipse cx="1053.8" cy="773.2" rx="12.5" ry="6.5" fill="#fefefe" stroke="#111" stroke-width="2.1"/>
<ellipse cx="1053.8" cy="769.8" rx="12.5" ry="6.5" fill="#fefefe" stroke="#111" stroke-width="2.3"/>
<ellipse cx="1053.8" cy="769.8" rx="5.2" ry="2.7" fill="none" stroke="#111" stroke-width="1.8"/>
<g transform="translate(1054 792.8) rotate(0)">
<path d="M-12.5 -1.7L-6.7 -10L6.7 -10.5L13 -2.5L13 6.7L6.7 12.5Z" fill="#fefefe" stroke="#111" stroke-width="2.3" stroke-linejoin="round" stroke-linecap="round"/>
<path d="M-12.5 -1.7L-12.5 7.5L-5.8 13.3L6.7 12.5Z" fill="#fefefe" stroke="#111" stroke-width="2.3" stroke-linejoin="round" stroke-linecap="round"/>
<path d="M-12.5 -1.7L-5.8 4.2L13 -2.5" fill="none" stroke="#111" stroke-width="1.8" stroke-linejoin="round" stroke-linecap="round"/>
<path d="M-5.8 4.2L-5.8 13.3" fill="none" stroke="#111" stroke-width="1.8" stroke-linejoin="round" stroke-linecap="round"/>
<ellipse cx="0.5" cy="-3.7" rx="7.2" ry="4.3" fill="none" stroke="#111" stroke-width="1.8"/>
<ellipse cx="0.5" cy="-3.3" rx="4" ry="2.2" fill="none" stroke="#111" stroke-width="1.4"/>
<path d="M13 -2.5L13 6.7L9.2 10Z" fill="#111" stroke="#111" stroke-width="1.1" stroke-linejoin="round" stroke-linecap="round"/>
</g>
<ellipse cx="1032.5" cy="804.8" rx="7.8" ry="11" fill="#fefefe" stroke="#111" stroke-width="3" transform="rotate(-25 1032.5 804.8)"/>
<ellipse cx="1031.9" cy="805" rx="3.8" ry="6" fill="none" stroke="#111" stroke-width="2.5" transform="rotate(-25 1031.9 805)"/>
<polyline points="1030,797.5 1034.4,801.2" fill="none" stroke="#111" stroke-width="2.3" stroke-linejoin="round" stroke-linecap="round"/>
<g transform="translate(1006.5 821.2) rotate(-5)">
<path d="M-11.2 -9.3L0 -14.9L13.1 -9.3L14.9 3.7L5.6 14L-9.3 11.2Z" fill="#fefefe" stroke="#111" stroke-width="2.3" stroke-linejoin="round" stroke-linecap="round"/>
<ellipse cx="-4.1" cy="1.5" rx="8.6" ry="10.5" fill="#fefefe" stroke="#111" stroke-width="2.1" transform="rotate(-15 -4.1 1.5)"/>
<ellipse cx="-4.5" cy="1.9" rx="4.5" ry="6" fill="none" stroke="#111" stroke-width="1.6" transform="rotate(-15 -4.5 1.9)"/>
<path d="M2.8 -8.4L6.5 13.1" fill="none" stroke="#111" stroke-width="1.4" stroke-linejoin="round" stroke-linecap="round"/>
</g>
<polyline points="1053.8,807.2 1042.5,811.9" fill="none" stroke="#111" stroke-width="3" stroke-linejoin="round" stroke-linecap="round"/>
<polyline points="1032.5,817.8 1023.1,823.8" fill="none" stroke="#111" stroke-width="3" stroke-linejoin="round" stroke-linecap="round"/>
</svg>
</body>
</html>
